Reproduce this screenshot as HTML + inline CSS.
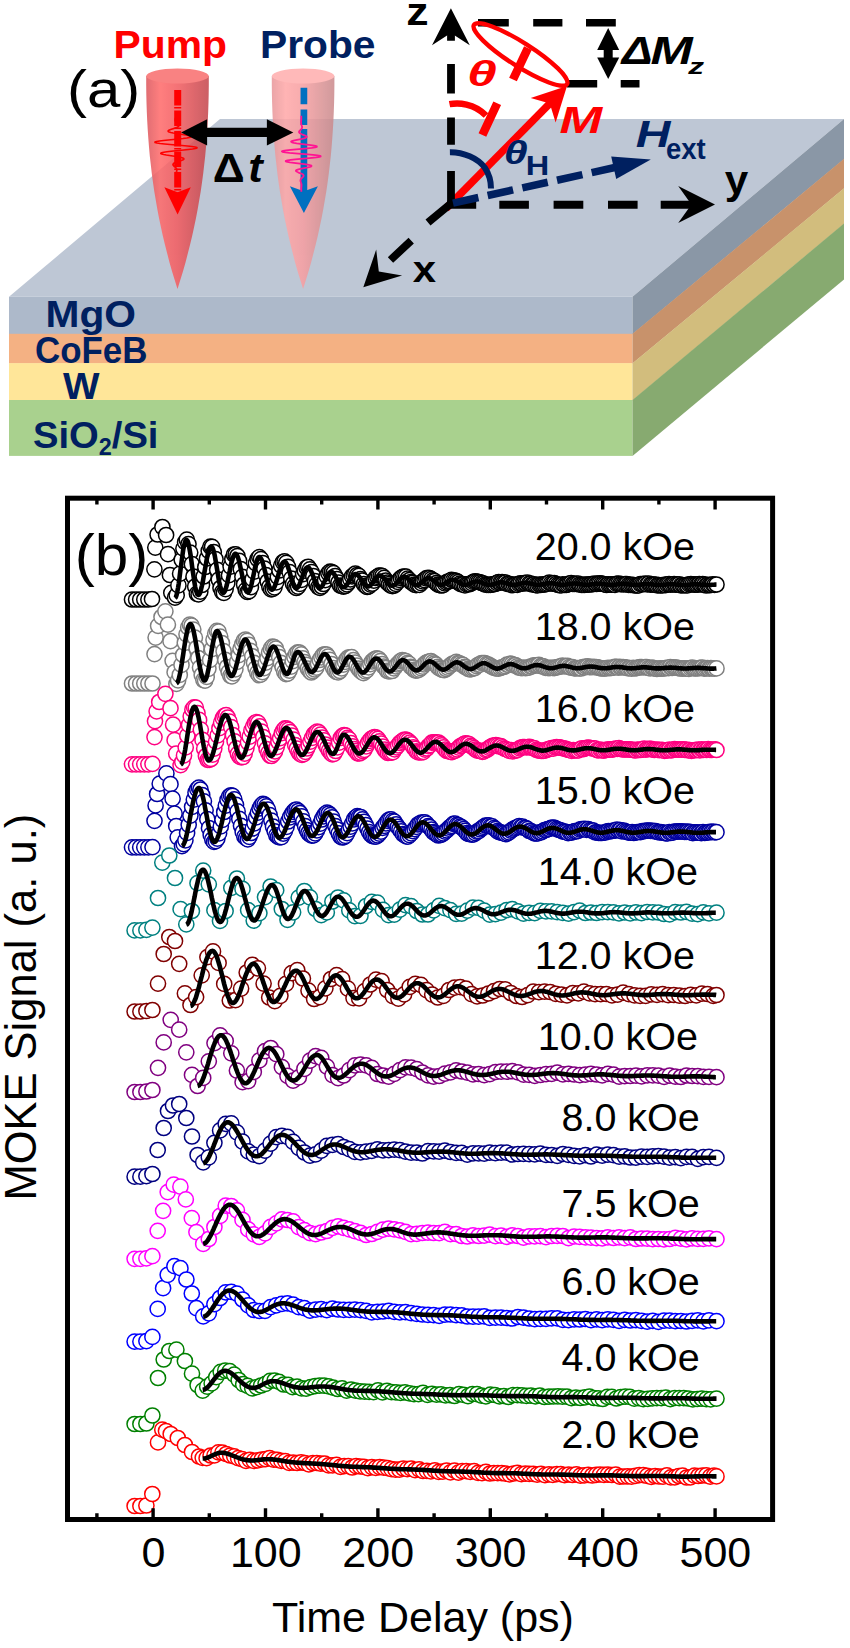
<!DOCTYPE html>
<html><head><meta charset="utf-8"><title>Figure</title>
<style>
html,body{margin:0;padding:0;background:#fff;}
svg{display:block;font-family:'Liberation Sans', sans-serif;}
</style></head><body>
<svg width="850" height="1648" viewBox="0 0 850 1648">
<rect width="850" height="1648" fill="#fff"/>
<defs>
<linearGradient id="gp" x1="0" x2="1" y1="0" y2="0">
<stop offset="0" stop-color="#dc565c"/><stop offset="0.22" stop-color="#ff6a6a"/><stop offset="0.5" stop-color="#f35c60"/><stop offset="0.85" stop-color="#d04b51"/><stop offset="1" stop-color="#c4464c"/>
</linearGradient>
<linearGradient id="gq" x1="0" x2="1" y1="0" y2="0">
<stop offset="0" stop-color="#e8969a"/><stop offset="0.22" stop-color="#ffa8a8"/><stop offset="0.5" stop-color="#f79ea1"/><stop offset="0.85" stop-color="#d69193"/><stop offset="1" stop-color="#ca898c"/>
</linearGradient>
</defs>
<polygon points="9,296.8 632.5,296.8 844,119 220,119" fill="#bec7d5"/>
<rect x="9" y="296.8" width="623.5" height="37.4" fill="#adb9ca"/>
<polygon points="632.5,296.8 844,119 844,159.2 632.5,334.2" fill="#8a97a6"/>
<rect x="9" y="333.8" width="623.5" height="29.8" fill="#f4b183"/>
<polygon points="632.5,333.8 844,158.8 844,188.6 632.5,363.6" fill="#c8926b"/>
<rect x="9" y="363.2" width="623.5" height="37.2" fill="#ffe699"/>
<polygon points="632.5,363.2 844,188.2 844,223.9 632.5,400.4" fill="#d2bd7d"/>
<rect x="9" y="400" width="623.5" height="55.9" fill="#a9d18e"/>
<polygon points="632.5,400 844,223.5 844,279.4 632.5,455.9" fill="#87aa70"/>
<text x="45.5" y="326.7" font-size="37.5" font-weight="bold" fill="#002060" textLength="90.5" lengthAdjust="spacingAndGlyphs" >MgO</text>
<text x="35" y="362.5" font-size="37.5" font-weight="bold" fill="#002060" textLength="112.5" lengthAdjust="spacingAndGlyphs" >CoFeB</text>
<text x="63" y="399.2" font-size="37.5" font-weight="bold" fill="#002060" textLength="36.5" lengthAdjust="spacingAndGlyphs" >W</text>
<text x="33" y="447.7" font-size="37.5" font-weight="bold" fill="#002060" textLength="125.5" lengthAdjust="spacingAndGlyphs">SiO<tspan font-size="23" dy="7">2</tspan><tspan dy="-7">/Si</tspan></text>
<g opacity="0.86"><polygon points="146.2,76.0 146.2,84.9 146.3,93.8 146.5,102.6 146.8,111.5 147.2,120.4 147.7,129.2 148.3,138.1 149.0,147.0 149.8,155.9 150.8,164.8 151.8,173.6 153.0,182.5 154.3,191.4 155.8,200.2 157.3,209.1 159.0,218.0 160.9,226.9 162.8,235.8 164.9,244.6 167.2,253.5 169.5,262.4 172.0,271.2 174.7,280.1 177.5,289.0 177.5,289.0 180.3,280.1 183.0,271.2 185.5,262.4 187.8,253.5 190.1,244.6 192.2,235.8 194.1,226.9 196.0,218.0 197.7,209.1 199.2,200.2 200.7,191.4 202.0,182.5 203.2,173.6 204.2,164.8 205.2,155.9 206.0,147.0 206.7,138.1 207.3,129.2 207.8,120.4 208.2,111.5 208.5,102.6 208.7,93.8 208.8,84.9 208.8,76.0" fill="url(#gp)"/><ellipse cx="177.5" cy="76" rx="31.3" ry="7.5" fill="#f96e6e"/></g>
<g opacity="0.86"><polygon points="271.8,76.0 271.8,84.9 271.9,93.8 272.1,102.6 272.4,111.5 272.8,120.4 273.3,129.2 273.9,138.1 274.6,147.0 275.4,155.9 276.4,164.8 277.4,173.6 278.6,182.5 279.9,191.4 281.4,200.2 282.9,209.1 284.6,218.0 286.5,226.9 288.4,235.8 290.5,244.6 292.8,253.5 295.1,262.4 297.6,271.2 300.3,280.1 303.1,289.0 303.1,289.0 305.9,280.1 308.6,271.2 311.1,262.4 313.4,253.5 315.7,244.6 317.8,235.8 319.7,226.9 321.6,218.0 323.3,209.1 324.8,200.2 326.3,191.4 327.6,182.5 328.8,173.6 329.8,164.8 330.8,155.9 331.6,147.0 332.3,138.1 332.9,129.2 333.4,120.4 333.8,111.5 334.1,102.6 334.3,93.8 334.4,84.9 334.4,76.0" fill="url(#gq)"/><ellipse cx="303.1" cy="76" rx="31.3" ry="7.5" fill="#ffaeae"/></g>
<line x1="177.7" y1="89.9" x2="177.7" y2="193" stroke="#ff0000" stroke-width="7" stroke-dasharray="15.5 1.5 1.5 2"/>
<polygon points="177.6,214.6 164.4,187.3 177.6,192.3 190.8,187.3" fill="#ff0000"/>
<path d="M303.9,87.8 V104.3 M303.9,109.5 V125 M303.9,129 V192" stroke="#0070c0" stroke-width="6.7" fill="none"/>
<polygon points="303.9,213.0 289.9,186.3 303.9,191.3 317.9,186.3" fill="#0070c0"/>
<polyline points="175.8,117.0 175.7,117.5 175.6,118.0 175.4,118.5 175.3,119.0 175.2,119.5 175.2,120.0 175.2,120.5 175.4,121.0 175.6,121.5 176.0,122.0 176.4,122.5 177.0,123.0 177.5,123.5 178.1,124.0 178.5,124.5 178.9,125.0 179.0,125.5 178.8,126.0 178.4,126.5 177.7,127.0 176.6,127.5 175.3,128.0 173.8,128.5 172.2,129.0 170.7,129.5 169.4,130.0 168.5,130.5 168.1,131.0 168.3,131.5 169.2,132.0 170.8,132.5 173.2,133.0 176.0,133.5 179.2,134.0 182.5,134.5 185.7,135.0 188.3,135.5 190.2,136.0 191.2,136.5 191.0,137.0 189.5,137.5 186.8,138.0 183.1,138.5 178.5,139.0 173.4,139.5 168.3,140.0 163.5,140.5 159.4,141.0 156.5,141.5 155.0,142.0 155.1,142.5 156.9,143.0 160.1,143.5 164.6,144.0 170.1,144.5 176.0,145.0 181.9,145.5 187.4,146.0 191.9,146.5 195.1,147.0 196.9,147.5 197.0,148.0 195.5,148.5 192.6,149.0 188.5,149.5 183.7,150.0 178.6,150.5 173.5,151.0 168.9,151.5 165.2,152.0 162.5,152.5 161.0,153.0 160.8,153.5 161.8,154.0 163.7,154.5 166.3,155.0 169.5,155.5 172.8,156.0 176.0,156.5 178.8,157.0 181.2,157.5 182.8,158.0 183.7,158.5 183.9,159.0 183.5,159.5 182.6,160.0 181.3,160.5 179.8,161.0 178.2,161.5 176.7,162.0 175.4,162.5 174.3,163.0 173.6,163.5 173.2,164.0 173.0,164.5 173.1,165.0 173.5,165.5 173.9,166.0 174.5,166.5 175.0,167.0 175.6,167.5 176.0,168.0 176.4,168.5 176.6,169.0 176.8,169.5 176.8,170.0 176.8,170.5 176.7,171.0 176.6,171.5 176.4,172.0 176.3,172.5 176.2,173.0" fill="none" stroke="#ff0000" stroke-width="1.7" stroke-linejoin="round"/>
<polyline points="301.3,115.8 301.3,116.3 301.3,116.8 301.3,117.3 301.3,117.8 301.3,118.3 301.3,118.8 301.3,119.3 301.3,119.8 301.2,120.3 301.2,120.8 301.1,121.3 301.1,121.8 301.1,122.3 301.1,122.8 301.1,123.3 301.2,123.8 301.4,124.3 301.5,124.8 301.7,125.3 301.8,125.8 302.0,126.3 302.1,126.8 302.1,127.3 302.0,127.8 301.8,128.3 301.5,128.8 301.1,129.3 300.6,129.8 300.1,130.3 299.6,130.8 299.2,131.3 299.0,131.8 299.0,132.3 299.4,132.8 300.0,133.3 300.9,133.8 302.0,134.3 303.3,134.8 304.5,135.3 305.6,135.8 306.4,136.3 306.7,136.8 306.5,137.3 305.6,137.8 304.1,138.3 302.0,138.8 299.6,139.3 297.0,139.8 294.6,140.3 292.6,140.8 291.3,141.3 291.1,141.8 291.9,142.3 293.8,142.8 296.7,143.3 300.5,143.8 304.7,144.3 308.8,144.8 312.6,145.3 315.4,145.8 316.9,146.3 316.8,146.8 315.1,147.3 311.8,147.8 307.3,148.3 301.9,148.8 296.2,149.3 290.7,149.8 286.2,150.3 283.1,150.8 281.9,151.3 282.5,151.8 285.2,152.3 289.5,152.8 295.1,153.3 301.3,153.8 307.5,154.3 313.1,154.8 317.4,155.3 320.1,155.8 320.7,156.3 319.5,156.8 316.4,157.3 311.9,157.8 306.4,158.3 300.7,158.8 295.3,159.3 290.8,159.8 287.5,160.3 285.8,160.8 285.7,161.3 287.2,161.8 290.0,162.3 293.8,162.8 297.9,163.3 302.1,163.8 305.9,164.3 308.8,164.8 310.7,165.3 311.5,165.8 311.3,166.3 310.0,166.8 308.0,167.3 305.6,167.8 303.0,168.3 300.6,168.8 298.5,169.3 297.0,169.8 296.1,170.3 295.9,170.8 296.2,171.3 297.0,171.8 298.1,172.3 299.3,172.8 300.6,173.3 301.7,173.8 302.6,174.3 303.2,174.8 303.6,175.3 303.6,175.8 303.4,176.3 303.0,176.8 302.5,177.3 302.0,177.8 301.5,178.3 301.1,178.8 300.8,179.3 300.6,179.8 300.5,180.3 300.5,180.8 300.6,181.3 300.8,181.8 300.9,182.3 301.1,182.8 301.2,183.3 301.4,183.8 301.5,184.3 301.5,184.8 301.5,185.3 301.5,185.8 301.5,186.3 301.4,186.8 301.4,187.3 301.3,187.8 301.3,188.3 301.3,188.8 301.3,189.3 301.3,189.8 301.3,190.3 301.3,190.8 301.3,191.3 301.3,191.8" fill="none" stroke="#ff1493" stroke-width="1.8" stroke-linejoin="round"/>
<line x1="200" y1="132.4" x2="274" y2="132.4" stroke="#000" stroke-width="9.2"/>
<polygon points="181.1,132.4 207.1,119.2 207.1,132.4 207.1,145.6" fill="#000"/>
<polygon points="293.3,132.4 266.9,145.6 266.9,132.4 266.9,119.2" fill="#000"/>
<text transform="translate(212.78,182.40) scale(1.112,0.993)" font-size="40" font-weight="bold" fill="#000">Δ</text>
<text transform="translate(248.23,182.40) scale(1.085,0.996)" font-size="40" font-weight="bold" font-style="italic" fill="#000">t</text>
<text x="113.5" y="57.6" font-size="38.2" font-weight="bold" fill="#ff0000" textLength="113.5" lengthAdjust="spacingAndGlyphs" >Pump</text>
<text x="260" y="57.6" font-size="38.2" font-weight="bold" fill="#002060" textLength="115.5" lengthAdjust="spacingAndGlyphs" >Probe</text>
<text transform="translate(67.01,107.38) scale(1.198,1.022)" font-size="50" fill="#000">(a)</text>
<path d="M478,22.7 H508.8 M533.2,22.7 H562.4 M586,22.7 H615.8" stroke="#000" stroke-width="7.6" fill="none"/>
<path d="M567,83.8 H597.2 M620.7,83.8 H639.5" stroke="#000" stroke-width="7.5" fill="none"/>
<line x1="608.2" y1="45" x2="608.2" y2="62" stroke="#000" stroke-width="9"/>
<polygon points="608.2,28.0 619.2,50.0 608.2,50.0 597.2,50.0" fill="#000"/>
<polygon points="608.2,79.0 597.2,57.5 608.2,57.5 619.2,57.5" fill="#000"/>
<text transform="translate(621.85,64.00) scale(1.150,0.982)" font-size="40" font-weight="bold" font-style="italic" fill="#000">Δ</text>
<text transform="translate(650.53,64.00) scale(1.267,0.982)" font-size="40" font-weight="bold" font-style="italic" fill="#000">M</text>
<text transform="translate(688.20,74.10) scale(0.790,0.568)" font-size="40" font-weight="bold" font-style="italic" fill="#000">z</text>
<line x1="446" y1="208.5" x2="557.2" y2="96.0" stroke="#ff0000" stroke-width="7.5"/>
<path d="M451,208.0 V171 M451,144.8 V117.5 M451,93.6 V64 M451,40.7 V25" stroke="#000" stroke-width="7.8" fill="none"/>
<polygon points="450.9,8.3 469.8,45.3 450.9,33.0 432.0,45.3" fill="#000"/>
<path d="M447,204.7 H476.2 M499.3,204.7 H528.9 M553.6,204.7 H583.3 M608,204.7 H637.6 M660.7,204.7 H695" stroke="#000" stroke-width="8" fill="none"/>
<polygon points="715.0,204.6 678.2,223.1 691.4,204.6 678.2,186.1" fill="#000"/>
<path d="M451,203.5 L428,222.5 M411.2,240.6 L390.5,260" stroke="#000" stroke-width="7.8" fill="none"/>
<polygon points="363.3,287.2 376.2,249.6 378.8,271.6 402.1,275.5" fill="#000"/>
<text transform="translate(406.26,25.40) scale(1.118,0.973)" font-size="40" font-weight="bold" fill="#000">z</text>
<text transform="translate(724.64,194.35) scale(1.057,1.007)" font-size="40" font-weight="bold" fill="#000">y</text>
<text transform="translate(412.75,282.00) scale(1.048,0.941)" font-size="40" font-weight="bold" fill="#000">x</text>
<line x1="453" y1="203.1" x2="617.6" y2="166.9" stroke="#002060" stroke-width="7.6" stroke-dasharray="26 9.5"/>
<polygon points="650.8,159.6 616.2,179.0 613.7,167.8 611.2,156.5" fill="#002060"/>
<text transform="translate(635.80,146.90) scale(1.200,0.907)" font-size="40" font-weight="bold" font-style="italic" fill="#002060">H</text>
<text transform="translate(665.93,158.70) scale(0.687,0.730)" font-size="40" font-weight="bold" fill="#002060">ext</text>
<path d="M449.9,152.2 C463,152 478,158 485,168 C489,174 491,181 491,188.5" stroke="#002060" stroke-width="6" fill="none"/>
<text transform="translate(503.75,164.30) scale(1.074,0.843)" font-size="40" font-weight="bold" font-style="italic" fill="#002060">θ</text>
<text transform="translate(525.86,175.20) scale(0.813,0.682)" font-size="40" font-weight="bold" fill="#002060">H</text>
<polygon points="567.0,86.0 555.6,122.5 549.8,103.4 530.7,97.9" fill="#ff0000"/>
<ellipse cx="520.5" cy="54.5" rx="55.2" ry="11.8" transform="rotate(32.5 520.5 54.5)" fill="none" stroke="#ff0000" stroke-width="4.4"/>
<path d="M482.4,135 L497.2,103.2 M513,79.5 L527.9,48.1" stroke="#ff0000" stroke-width="8.5" fill="none"/>
<path d="M449.5,104.2 C458,102.5 474,103 486,115.5" stroke="#ff0000" stroke-width="6.4" fill="none"/>
<text transform="translate(466.93,86.20) scale(1.337,0.880)" font-size="40" font-weight="bold" font-style="italic" fill="#ff0000">θ</text>
<text transform="translate(559.42,132.80) scale(1.282,0.943)" font-size="40" font-weight="bold" font-style="italic" fill="#ff0000">M</text>
<marker id="m1" markerWidth="20" markerHeight="20" refX="10" refY="10" markerUnits="userSpaceOnUse"><circle cx="10" cy="10" r="7.6" fill="#fff" stroke="#000000" stroke-width="1.5"/></marker><polyline points="132.0,599.5 136.1,599.5 140.2,599.5 144.3,599.5 148.4,599.5 152.0,599.0 154.4,569.3 155.3,547.6 157.6,534.5 162.4,527.0 166.1,535.0 168.0,554.2 169.9,575.0 171.3,592.8 175.0,597.7 176.7,595.2 178.4,585.4 180.1,573.7 181.7,559.8 183.4,548.6 185.1,542.2 186.8,539.6 188.5,544.1 190.2,552.6 191.9,564.2 193.5,576.5 195.2,586.5 196.9,593.8 198.6,594.4 200.3,591.7 202.0,585.0 203.7,576.5 205.3,567.0 207.0,558.5 208.7,550.8 210.4,546.6 212.1,546.8 213.8,552.1 215.5,559.1 217.2,569.8 218.8,579.6 220.5,588.0 222.2,592.1 223.9,592.9 225.6,589.2 227.3,583.0 229.0,575.2 230.6,566.6 232.3,559.1 234.0,554.5 235.7,554.4 237.4,556.0 239.1,560.9 240.8,569.2 242.4,576.8 244.1,584.5 245.8,590.2 247.5,592.0 249.2,591.2 250.9,587.2 252.6,579.1 254.2,571.6 255.9,563.4 257.6,559.0 259.3,557.2 261.0,559.1 262.7,563.1 264.4,568.7 266.0,575.2 267.7,581.5 269.4,586.9 271.1,589.4 272.8,588.8 274.5,587.3 276.2,582.3 277.8,576.8 279.5,570.5 281.2,565.6 282.9,562.1 284.6,561.4 286.3,562.8 288.0,566.8 289.6,572.2 291.3,578.6 293.0,583.9 294.7,586.5 296.4,588.0 298.1,586.6 299.8,583.9 301.4,579.8 303.1,574.1 304.8,570.7 306.5,567.6 308.2,566.8 309.9,569.3 311.6,572.1 313.3,576.2 314.9,581.0 316.6,584.6 318.3,587.1 320.0,587.8 321.7,586.5 323.4,584.0 325.1,580.1 326.7,576.2 328.4,573.2 330.1,571.6 331.8,572.0 333.5,573.1 335.2,576.2 336.9,579.0 338.5,582.5 340.2,585.5 341.9,586.2 343.6,586.7 345.3,586.0 347.0,584.4 348.7,582.0 350.3,579.3 352.0,576.3 353.7,575.3 355.4,573.5 357.1,575.0 358.8,575.8 360.5,579.0 362.1,580.6 363.8,584.2 365.5,585.8 367.2,587.0 368.9,586.3 370.6,584.7 372.3,583.7 373.9,580.7 375.6,578.0 377.3,576.8 379.0,575.7 380.7,575.6 382.4,576.2 384.1,577.8 385.7,580.5 387.4,582.5 389.1,584.0 390.8,585.5 392.5,586.1 394.2,585.5 395.9,583.8 397.6,581.9 399.2,579.9 400.9,578.0 402.6,576.8 404.3,576.7 406.0,576.7 407.7,578.6 409.4,580.2 411.0,582.0 412.7,582.9 414.4,584.6 416.1,585.2 417.8,584.6 419.5,584.8 421.2,583.2 422.8,581.3 424.5,580.1 426.2,578.3 427.9,577.8 429.6,578.2 431.3,579.2 433.0,580.3 434.6,581.0 436.3,583.1 438.0,584.6 439.7,585.1 441.4,585.5 443.1,585.1 444.8,583.3 446.4,582.3 448.1,581.5 449.8,581.1 451.5,579.8 453.2,580.4 454.9,580.7 456.6,581.1 458.2,582.2 459.9,583.7 461.6,584.4 463.3,584.4 465.0,585.4 466.7,584.4 468.4,584.2 470.0,584.2 471.7,583.2 473.4,581.9 475.1,581.4 476.8,581.6 478.5,582.0 480.2,582.3 481.9,583.2 483.5,583.7 485.2,584.5 486.9,584.8 488.6,584.8 490.3,584.9 492.0,584.7 493.7,584.2 495.3,584.0 497.0,582.8 498.7,582.1 500.4,582.6 502.1,582.1 503.8,582.5 505.5,582.5 507.1,583.9 508.8,583.8 510.5,584.3 512.2,585.2 513.9,584.9 515.6,584.5 517.3,584.9 518.9,583.9 520.6,583.4 522.3,583.7 524.0,583.2 525.7,583.1 527.4,582.6 529.1,583.6 530.7,583.7 532.4,584.5 534.1,584.3 535.8,585.1 537.5,585.3 539.2,584.7 540.9,584.8 542.5,584.7 544.2,584.5 545.9,584.1 547.6,583.7 549.3,582.7 551.0,583.3 552.7,583.6 554.3,583.2 556.0,584.0 557.7,584.9 559.4,585.2 561.1,585.4 562.8,584.4 564.5,584.9 566.2,585.0 567.8,584.4 569.5,583.7 571.2,583.1 572.9,584.0 574.6,583.9 576.3,583.8 578.0,583.6 579.6,584.5 581.3,584.8 583.0,584.9 584.7,584.9 586.4,584.7 588.1,584.6 589.8,584.5 591.4,584.2 593.1,584.2 594.8,583.5 596.5,584.0 598.2,583.5 599.9,583.3 601.6,583.6 603.2,584.0 604.9,584.3 606.6,585.0 608.3,584.3 610.0,584.6 611.7,584.6 613.4,584.4 615.0,584.9 616.7,583.9 618.4,583.6 620.1,584.1 621.8,584.2 623.5,584.3 625.2,584.1 626.8,584.0 628.5,584.8 630.2,584.9 631.9,584.8 633.6,585.0 635.3,585.5 637.0,585.5 638.6,585.3 640.3,584.1 642.0,584.2 643.7,584.1 645.4,583.7 647.1,584.4 648.8,583.6 650.5,584.7 652.1,584.5 653.8,584.7 655.5,584.7 657.2,585.4 658.9,585.1 660.6,585.4 662.3,585.3 663.9,584.9 665.6,585.1 667.3,584.4 669.0,584.1 670.7,584.6 672.4,584.3 674.1,584.1 675.7,584.7 677.4,584.6 679.1,584.3 680.8,585.3 682.5,585.0 684.2,585.5 685.9,585.0 687.5,585.3 689.2,584.4 690.9,584.2 692.6,584.4 694.3,584.7 696.0,584.7 697.7,584.6 699.3,584.0 701.0,584.5 702.7,584.2 704.4,584.7 706.1,585.5 707.8,584.8 709.5,585.2 711.1,585.0 712.8,584.3 714.5,584.9 716.5,584.5" fill="none" stroke="none" marker-start="url(#m1)" marker-mid="url(#m1)" marker-end="url(#m1)"/><polyline points="175.0,598.0 175.8,597.3 176.5,595.3 177.2,592.2 178.0,588.1 178.8,583.3 179.5,577.8 180.2,572.0 181.0,566.0 181.8,560.2 182.5,554.8 183.2,549.9 184.0,545.9 184.8,542.8 185.5,540.7 186.2,539.8 187.0,540.1 187.8,541.5 188.5,543.9 189.2,547.3 190.0,551.6 190.8,556.4 191.5,561.7 192.2,567.2 193.0,572.6 193.8,577.9 194.5,582.7 195.2,586.9 196.0,590.4 196.8,592.9 197.5,594.5 198.2,595.0 199.0,594.6 199.8,593.4 200.5,591.4 201.2,588.7 202.0,585.5 202.8,581.8 203.5,577.7 204.2,573.5 205.0,569.1 205.8,564.8 206.5,560.7 207.2,556.9 208.0,553.6 208.8,550.9 209.5,548.7 210.2,547.3 211.0,546.6 211.8,546.7 212.5,547.7 213.2,549.6 214.0,552.4 214.8,555.8 215.5,559.8 216.2,564.2 217.0,568.8 217.8,573.4 218.5,577.8 219.2,582.0 220.0,585.6 220.8,588.6 221.5,590.9 222.2,592.4 223.0,593.0 223.8,592.8 224.5,591.8 225.2,590.1 226.0,587.8 226.8,585.0 227.5,581.8 228.2,578.2 229.0,574.5 229.8,570.8 230.5,567.1 231.2,563.7 232.0,560.7 232.8,558.1 233.5,556.1 234.2,554.7 235.0,553.9 235.8,553.8 236.5,554.5 237.2,555.7 238.0,557.6 238.8,560.1 239.5,563.0 240.2,566.3 241.0,569.8 241.8,573.4 242.5,577.0 243.2,580.5 244.0,583.7 244.8,586.6 245.5,588.9 246.2,590.7 247.0,591.9 247.8,592.4 248.5,592.2 249.2,591.2 250.0,589.5 250.8,587.2 251.5,584.3 252.2,581.0 253.0,577.4 253.8,573.7 254.5,570.1 255.2,566.7 256.0,563.6 256.8,561.0 257.5,559.0 258.2,557.7 259.0,557.0 259.8,557.1 260.5,557.8 261.2,559.0 262.0,560.8 262.8,563.0 263.5,565.5 264.2,568.3 265.0,571.3 265.8,574.4 266.5,577.4 267.2,580.2 268.0,582.8 268.8,585.1 269.5,587.0 270.2,588.4 271.0,589.3 271.8,589.7 272.5,589.5 273.2,588.9 274.0,587.7 274.8,586.1 275.5,584.2 276.2,582.0 277.0,579.5 277.8,576.9 278.5,574.3 279.2,571.8 280.0,569.3 280.8,567.1 281.5,565.2 282.2,563.7 283.0,562.6 283.8,561.9 284.5,561.6 285.2,561.9 286.0,562.6 286.8,563.9 287.5,565.6 288.2,567.7 289.0,570.1 289.8,572.7 290.5,575.3 291.2,577.9 292.0,580.4 292.8,582.7 293.5,584.6 294.2,586.2 295.0,587.3 295.8,588.0 296.5,588.1 297.2,587.8 298.0,587.1 298.8,585.9 299.5,584.4 300.2,582.5 301.0,580.5 301.8,578.4 302.5,576.2 303.2,574.1 304.0,572.2 304.8,570.5 305.5,569.1 306.2,568.1 307.0,567.5 307.8,567.3 308.5,567.5 309.2,568.1 310.0,569.1 310.8,570.5 311.5,572.1 312.2,573.9 313.0,575.9 313.8,578.0 314.5,580.0 315.2,581.9 316.0,583.6 316.8,585.1 317.5,586.3 318.2,587.2 319.0,587.7 319.8,587.9 320.5,587.6 321.2,587.1 322.0,586.2 322.8,585.0 323.5,583.6 324.2,582.1 325.0,580.4 325.8,578.8 326.5,577.2 327.2,575.7 328.0,574.4 328.8,573.3 329.5,572.5 330.2,572.0 331.0,571.8 331.8,571.9 332.5,572.3 333.2,573.0 334.0,574.0 334.8,575.1 335.5,576.4 336.2,577.8 337.0,579.2 337.8,580.7 338.5,582.1 339.2,583.4 340.0,584.6 340.8,585.6 341.5,586.4 342.2,586.9 343.0,587.2 343.8,587.2 344.5,587.0 345.2,586.5 346.0,585.8 346.8,584.8 347.5,583.8 348.2,582.6 349.0,581.3 349.8,580.0 350.5,578.8 351.2,577.6 352.0,576.5 352.8,575.6 353.5,574.9 354.2,574.4 355.0,574.1 355.8,574.1 356.5,574.3 357.2,574.7 358.0,575.3 358.8,576.2 359.5,577.1 360.2,578.2 361.0,579.4 361.8,580.5 362.5,581.7 363.2,582.8 364.0,583.9 364.8,584.8 365.5,585.5 366.2,586.0 367.0,586.4 367.8,586.5 368.5,586.4 369.2,586.1 370.0,585.6 370.8,584.9 371.5,584.1 372.2,583.1 373.0,582.1 373.8,581.1 374.5,580.0 375.2,579.0 376.0,578.0 376.8,577.2 377.5,576.5 378.2,576.0 379.0,575.7 379.8,575.5 380.5,575.6 381.2,575.9 382.0,576.3 382.8,576.9 383.5,577.6 384.2,578.5 385.0,579.4 385.8,580.4 386.5,581.4 387.2,582.4 388.0,583.2 388.8,584.0 389.5,584.7 390.2,585.3 391.0,585.6 391.8,585.8 392.5,585.8 393.2,585.7 394.0,585.3 394.8,584.8 395.5,584.2 396.2,583.5 397.0,582.6 397.8,581.8 398.5,580.9 399.2,580.0 400.0,579.2 400.8,578.5 401.5,577.8 402.2,577.3 403.0,577.0 403.8,576.8 404.5,576.8 405.2,576.9 406.0,577.2 406.8,577.6 407.5,578.2 408.2,578.9 409.0,579.6 409.8,580.4 410.5,581.2 411.2,582.0 412.0,582.8 412.8,583.5 413.5,584.1 414.2,584.6 415.0,585.0 415.8,585.2 416.5,585.3 417.2,585.2 418.0,585.0 418.8,584.7 419.5,584.2 420.2,583.7 421.0,583.0 421.8,582.4 422.5,581.7 423.2,581.0 424.0,580.3 424.8,579.7 425.5,579.1 426.2,578.7 427.0,578.4 427.8,578.2 428.5,578.1 429.2,578.1 430.0,578.3 430.8,578.6 431.5,579.1 432.2,579.6 433.0,580.1 433.8,580.8 434.5,581.4 435.2,582.1 436.0,582.7 436.8,583.3 437.5,583.8 438.2,584.3 439.0,584.6 439.8,584.8 440.5,585.0 441.2,585.0 442.0,584.8 442.8,584.6 443.5,584.3 444.2,583.9 445.0,583.5 445.8,583.0 446.5,582.5 447.2,582.0 448.0,581.5 448.8,581.0 449.5,580.6 450.2,580.3 451.0,580.1 451.8,579.9 452.5,579.8 453.2,579.9 454.0,580.0 454.8,580.2 455.5,580.5 456.2,580.9 457.0,581.3 457.8,581.7 458.5,582.2 459.2,582.7 460.0,583.2 460.8,583.6 461.5,584.0 462.2,584.3 463.0,584.6 463.8,584.8 464.5,584.9 465.2,584.9 466.0,584.9 466.8,584.8 467.5,584.6 468.2,584.3 469.0,584.1 469.8,583.7 470.5,583.4 471.2,583.0 472.0,582.7 472.8,582.4 473.5,582.1 474.2,581.9 475.0,581.7 475.8,581.5 476.5,581.5 477.2,581.5 478.0,581.5 478.8,581.7 479.5,581.9 480.2,582.1 481.0,582.4 481.8,582.7 482.5,583.0 483.2,583.3 484.0,583.7 484.8,584.0 485.5,584.3 486.2,584.5 487.0,584.7 487.8,584.9 488.5,585.0 489.2,585.0 490.0,585.0 490.8,584.9 491.5,584.8 492.2,584.6 493.0,584.4 493.8,584.2 494.5,583.9 495.2,583.7 496.0,583.4 496.8,583.1 497.5,582.9 498.2,582.7 499.0,582.5 499.8,582.4 500.5,582.3 501.2,582.3 502.0,582.3 502.8,582.4 503.5,582.5 504.2,582.7 505.0,582.9 505.8,583.1 506.5,583.3 507.2,583.6 508.0,583.8 508.8,584.1 509.5,584.3 510.2,584.5 511.0,584.7 511.8,584.8 512.5,584.9 513.2,584.9 514.0,584.9 514.8,584.9 515.5,584.8 516.2,584.7 517.0,584.5 517.8,584.4 518.5,584.2 519.2,584.0 520.0,583.7 520.8,583.5 521.5,583.3 522.2,583.2 523.0,583.0 523.8,582.9 524.5,582.8 525.2,582.8 526.0,582.8 526.8,582.9 527.5,582.9 528.2,583.1 529.0,583.2 529.8,583.4 530.5,583.6 531.2,583.8 532.0,584.0 532.8,584.1 533.5,584.3 534.2,584.5 535.0,584.6 535.8,584.8 536.5,584.9 537.2,584.9 538.0,584.9 538.8,584.9 539.5,584.8 540.2,584.7 541.0,584.6 541.8,584.5 542.5,584.3 543.2,584.2 544.0,584.0 544.8,583.8 545.5,583.7 546.2,583.5 547.0,583.4 547.8,583.3 548.5,583.2 549.2,583.2 550.0,583.2 550.8,583.2 551.5,583.3 552.2,583.3 553.0,583.4 553.8,583.6 554.5,583.7 555.2,583.9 556.0,584.1 556.8,584.2 557.5,584.4 558.2,584.5 559.0,584.6 559.8,584.7 560.5,584.8 561.2,584.9 562.0,584.9 562.8,584.9 563.5,584.9 564.2,584.8 565.0,584.7 565.8,584.6 566.5,584.5 567.2,584.3 568.0,584.2 568.8,584.0 569.5,583.9 570.2,583.8 571.0,583.7 571.8,583.6 572.5,583.5 573.2,583.5 574.0,583.5 574.8,583.5 575.5,583.5 576.2,583.6 577.0,583.6 577.8,583.8 578.5,583.9 579.2,584.0 580.0,584.1 580.8,584.3 581.5,584.4 582.2,584.5 583.0,584.6 583.8,584.7 584.5,584.8 585.2,584.9 586.0,584.9 586.8,584.9 587.5,584.9 588.2,584.8 589.0,584.8 589.8,584.7 590.5,584.6 591.2,584.5 592.0,584.3 592.8,584.2 593.5,584.1 594.2,584.0 595.0,583.9 595.8,583.8 596.5,583.8 597.2,583.7 598.0,583.7 598.8,583.7 599.5,583.7 600.2,583.8 601.0,583.8 601.8,583.9 602.5,584.0 603.2,584.1 604.0,584.2 604.8,584.3 605.5,584.5 606.2,584.6 607.0,584.7 607.8,584.7 608.5,584.8 609.2,584.9 610.0,584.9 610.8,584.9 611.5,584.9 612.2,584.9 613.0,584.8 613.8,584.7 614.5,584.7 615.2,584.6 616.0,584.5 616.8,584.4 617.5,584.3 618.2,584.2 619.0,584.1 619.8,584.0 620.5,584.0 621.2,583.9 622.0,583.9 622.8,583.9 623.5,583.9 624.2,583.9 625.0,584.0 625.8,584.1 626.5,584.1 627.2,584.2 628.0,584.3 628.8,584.4 629.5,584.5 630.2,584.6 631.0,584.7 631.8,584.8 632.5,584.8 633.2,584.9 634.0,584.9 634.8,584.9 635.5,584.9 636.2,584.9 637.0,584.9 637.8,584.8 638.5,584.7 639.2,584.7 640.0,584.6 640.8,584.5 641.5,584.4 642.2,584.3 643.0,584.3 643.8,584.2 644.5,584.1 645.2,584.1 646.0,584.1 646.8,584.1 647.5,584.1 648.2,584.1 649.0,584.1 649.8,584.2 650.5,584.2 651.2,584.3 652.0,584.4 652.8,584.5 653.5,584.6 654.2,584.7 655.0,584.7 655.8,584.8 656.5,584.9 657.2,584.9 658.0,584.9 658.8,585.0 659.5,585.0 660.2,584.9 661.0,584.9 661.8,584.9 662.5,584.8 663.2,584.8 664.0,584.7 664.8,584.6 665.5,584.5 666.2,584.5 667.0,584.4 667.8,584.3 668.5,584.3 669.2,584.3 670.0,584.2 670.8,584.2 671.5,584.2 672.2,584.2 673.0,584.3 673.8,584.3 674.5,584.3 675.2,584.4 676.0,584.5 676.8,584.6 677.5,584.6 678.2,584.7 679.0,584.8 679.8,584.8 680.5,584.9 681.2,584.9 682.0,585.0 682.8,585.0 683.5,585.0 684.2,585.0 685.0,585.0 685.8,584.9 686.5,584.9 687.2,584.8 688.0,584.8 688.8,584.7 689.5,584.6 690.2,584.6 691.0,584.5 691.8,584.5 692.5,584.4 693.2,584.4 694.0,584.3 694.8,584.3 695.5,584.3 696.2,584.3 697.0,584.4 697.8,584.4 698.5,584.4 699.2,584.5 700.0,584.5 700.8,584.6 701.5,584.7 702.2,584.7 703.0,584.8 703.8,584.8 704.5,584.9 705.2,584.9 706.0,585.0 706.8,585.0 707.5,585.0 708.2,585.0 709.0,585.0 709.8,585.0 710.5,584.9 711.2,584.9 712.0,584.8 712.8,584.8 713.5,584.7 714.2,584.7 715.0,584.6 715.8,584.5 716.5,584.5" fill="none" stroke="#000" stroke-width="4.6" stroke-linejoin="round" stroke-linecap="butt"/><text x="695" y="559.9" font-size="39.5" text-anchor="end" fill="#000">20.0 kOe</text>
<marker id="m2" markerWidth="20" markerHeight="20" refX="10" refY="10" markerUnits="userSpaceOnUse"><circle cx="10" cy="10" r="7.6" fill="#fff" stroke="#808080" stroke-width="1.5"/></marker><polyline points="132.0,683.5 136.1,683.5 140.2,683.5 144.3,683.5 148.4,683.5 152.5,683.5 154.5,654.1 155.6,637.6 158.1,625.8 161.5,617.0 165.4,611.3 167.9,624.7 170.5,641.2 172.6,660.8 174.6,672.2 176.4,683.9 178.1,680.4 179.8,674.9 181.5,664.9 183.1,655.0 184.8,642.8 186.5,634.3 188.2,627.4 189.9,624.5 191.6,625.7 193.3,629.6 194.9,637.7 196.6,648.0 198.3,658.0 200.0,667.6 201.7,675.0 203.4,680.1 205.1,680.7 206.7,676.9 208.4,668.8 210.1,659.9 211.8,649.1 213.5,639.7 215.2,633.6 216.9,630.9 218.6,631.7 220.2,636.6 221.9,643.0 223.6,651.2 225.3,659.9 227.0,667.0 228.7,672.2 230.4,675.9 232.0,676.4 233.7,673.4 235.4,669.3 237.1,661.9 238.8,655.1 240.5,648.6 242.2,644.2 243.8,640.6 245.5,639.7 247.2,640.8 248.9,644.9 250.6,650.9 252.3,656.3 254.0,662.8 255.6,668.3 257.3,672.8 259.0,675.2 260.7,674.6 262.4,672.1 264.1,668.1 265.8,662.6 267.4,658.1 269.1,652.5 270.8,648.6 272.5,646.7 274.2,647.1 275.9,648.5 277.6,652.9 279.2,657.2 280.9,662.8 282.6,667.3 284.3,672.1 286.0,674.1 287.7,673.7 289.4,670.7 291.0,666.6 292.7,661.1 294.4,656.9 296.1,653.6 297.8,652.3 299.5,652.5 301.2,654.3 302.8,658.4 304.5,662.1 306.2,664.8 307.9,668.5 309.6,670.8 311.3,672.5 313.0,671.1 314.7,669.5 316.3,667.6 318.0,663.8 319.7,660.0 321.4,657.3 323.1,654.9 324.8,654.3 326.5,654.5 328.1,656.6 329.8,659.8 331.5,664.0 333.2,668.0 334.9,670.5 336.6,672.0 338.3,672.4 339.9,671.0 341.6,668.3 343.3,664.6 345.0,661.9 346.7,659.1 348.4,657.5 350.1,657.3 351.7,657.2 353.4,660.1 355.1,662.5 356.8,665.6 358.5,668.7 360.2,670.5 361.9,672.0 363.5,673.1 365.2,671.4 366.9,670.2 368.6,667.4 370.3,664.1 372.0,661.5 373.7,659.9 375.3,658.9 377.0,658.4 378.7,659.0 380.4,661.0 382.1,664.2 383.8,666.6 385.5,668.1 387.1,670.8 388.8,671.4 390.5,671.2 392.2,671.0 393.9,668.4 395.6,666.3 397.3,664.3 399.0,662.8 400.6,661.0 402.3,660.2 404.0,660.7 405.7,661.0 407.4,663.0 409.1,663.9 410.8,666.9 412.4,667.9 414.1,669.8 415.8,670.7 417.5,670.4 419.2,669.6 420.9,668.2 422.6,666.7 424.2,664.5 425.9,662.8 427.6,662.1 429.3,661.5 431.0,661.1 432.7,662.3 434.4,663.5 436.0,664.6 437.7,666.9 439.4,668.4 441.1,668.9 442.8,670.0 444.5,670.1 446.2,669.0 447.8,667.7 449.5,666.1 451.2,664.6 452.9,663.5 454.6,663.4 456.3,661.9 458.0,663.0 459.6,663.3 461.3,664.4 463.0,664.8 464.7,666.8 466.4,667.4 468.1,668.8 469.8,669.4 471.4,669.2 473.1,668.5 474.8,668.0 476.5,666.1 478.2,664.9 479.9,664.7 481.6,663.0 483.3,663.1 484.9,663.2 486.6,664.2 488.3,664.5 490.0,665.7 491.7,666.7 493.4,667.6 495.1,668.2 496.7,668.5 498.4,668.6 500.1,668.0 501.8,667.3 503.5,667.0 505.2,666.2 506.9,664.6 508.5,664.9 510.2,663.6 511.9,664.1 513.6,665.2 515.3,665.0 517.0,666.3 518.7,667.5 520.3,667.8 522.0,668.1 523.7,667.7 525.4,668.2 527.1,667.8 528.8,667.7 530.5,666.6 532.1,666.4 533.8,665.4 535.5,665.3 537.2,665.4 538.9,664.8 540.6,666.1 542.3,666.0 543.9,666.7 545.6,667.8 547.3,667.8 549.0,668.1 550.7,667.9 552.4,667.8 554.1,668.2 555.7,667.5 557.4,667.2 559.1,666.8 560.8,666.4 562.5,665.7 564.2,666.3 565.9,666.0 567.6,665.9 569.2,667.1 570.9,667.6 572.6,667.1 574.3,668.4 576.0,668.4 577.7,668.0 579.4,668.3 581.0,668.5 582.7,667.2 584.4,667.5 586.1,666.7 587.8,666.3 589.5,667.1 591.2,667.1 592.8,666.8 594.5,667.2 596.2,667.1 597.9,667.4 599.6,668.0 601.3,668.5 603.0,668.5 604.6,668.3 606.3,668.4 608.0,667.9 609.7,668.2 611.4,668.0 613.1,667.6 614.8,666.9 616.4,666.8 618.1,667.6 619.8,666.9 621.5,667.5 623.2,667.0 624.9,667.3 626.6,667.7 628.2,668.4 629.9,668.0 631.6,668.6 633.3,667.8 635.0,668.4 636.7,668.2 638.4,667.5 640.0,667.2 641.7,667.1 643.4,667.3 645.1,667.0 646.8,667.1 648.5,668.0 650.2,668.3 651.9,667.6 653.5,668.2 655.2,668.5 656.9,669.0 658.6,668.5 660.3,668.4 662.0,668.6 663.7,668.5 665.3,668.2 667.0,667.9 668.7,668.1 670.4,667.1 672.1,668.0 673.8,667.4 675.5,667.7 677.1,667.9 678.8,668.2 680.5,668.5 682.2,668.6 683.9,668.3 685.6,668.4 687.3,668.7 688.9,668.9 690.6,668.1 692.3,667.5 694.0,668.4 695.7,668.4 697.4,668.3 699.1,668.1 700.7,667.9 702.4,667.5 704.1,668.7 705.8,668.3 707.5,668.0 709.2,668.7 710.9,668.0 712.5,668.4 714.2,668.7 716.5,668.4" fill="none" stroke="none" marker-start="url(#m2)" marker-mid="url(#m2)" marker-end="url(#m2)"/><polyline points="176.4,683.3 177.2,682.8 177.9,681.4 178.7,679.2 179.4,676.3 180.2,672.8 180.9,668.7 181.7,664.1 182.4,659.3 183.2,654.3 183.9,649.4 184.7,644.5 185.4,639.9 186.2,635.7 186.9,632.1 187.7,629.0 188.4,626.6 189.2,625.0 189.9,624.1 190.7,624.1 191.4,624.8 192.2,626.3 192.9,628.6 193.7,631.5 194.4,635.0 195.2,639.0 195.9,643.3 196.7,647.9 197.4,652.6 198.2,657.2 198.9,661.8 199.7,666.0 200.4,669.9 201.2,673.3 201.9,676.1 202.7,678.3 203.4,679.7 204.2,680.4 204.9,680.4 205.7,679.5 206.4,677.7 207.2,675.1 207.9,671.8 208.7,668.0 209.4,663.8 210.2,659.3 210.9,654.6 211.7,650.0 212.4,645.7 213.2,641.7 213.9,638.2 214.7,635.3 215.4,633.1 216.2,631.6 216.9,631.0 217.7,631.2 218.4,632.0 219.2,633.5 219.9,635.5 220.7,638.0 221.4,640.9 222.2,644.2 222.9,647.7 223.7,651.4 224.4,655.1 225.2,658.7 225.9,662.2 226.7,665.4 227.4,668.4 228.2,670.9 228.9,672.9 229.7,674.5 230.4,675.5 231.2,676.0 231.9,675.9 232.7,675.2 233.4,674.1 234.2,672.4 234.9,670.4 235.7,667.9 236.4,665.2 237.2,662.3 237.9,659.2 238.7,656.1 239.4,653.1 240.2,650.2 240.9,647.5 241.7,645.1 242.4,643.1 243.2,641.5 243.9,640.3 244.7,639.6 245.4,639.5 246.2,639.8 246.9,640.6 247.7,641.9 248.4,643.6 249.2,645.6 249.9,648.0 250.7,650.6 251.4,653.4 252.2,656.3 252.9,659.3 253.7,662.1 254.4,664.8 255.2,667.3 255.9,669.6 256.6,671.5 257.4,673.0 258.1,674.1 258.9,674.8 259.6,675.0 260.4,674.8 261.1,674.1 261.9,673.1 262.6,671.7 263.4,669.9 264.1,667.9 264.9,665.7 265.6,663.4 266.4,660.9 267.1,658.5 267.9,656.2 268.6,654.0 269.4,652.0 270.1,650.3 270.9,648.8 271.6,647.7 272.4,647.0 273.1,646.6 273.9,646.6 274.6,647.1 275.4,647.9 276.1,649.2 276.9,650.8 277.6,652.7 278.4,654.8 279.1,657.1 279.9,659.5 280.6,661.9 281.4,664.3 282.1,666.5 282.9,668.5 283.6,670.3 284.4,671.8 285.1,672.9 285.9,673.6 286.6,674.0 287.4,673.9 288.1,673.3 288.9,672.1 289.6,670.5 290.4,668.5 291.1,666.3 291.9,663.9 292.6,661.6 293.4,659.2 294.1,657.1 294.9,655.3 295.6,653.8 296.4,652.8 297.1,652.2 297.9,652.0 298.6,652.2 299.4,652.7 300.1,653.5 300.9,654.5 301.6,655.7 302.4,657.1 303.1,658.6 303.9,660.2 304.6,661.8 305.4,663.5 306.1,665.1 306.9,666.6 307.6,668.0 308.4,669.2 309.1,670.3 309.9,671.1 310.6,671.6 311.4,671.9 312.1,672.0 312.9,671.7 313.6,671.2 314.4,670.4 315.1,669.3 315.9,668.0 316.6,666.6 317.4,665.0 318.1,663.4 318.9,661.8 319.6,660.2 320.4,658.7 321.1,657.3 321.9,656.2 322.6,655.2 323.4,654.6 324.1,654.2 324.9,654.1 325.6,654.2 326.4,654.8 327.1,655.6 327.9,656.7 328.6,658.0 329.4,659.5 330.1,661.1 330.9,662.8 331.6,664.5 332.4,666.2 333.1,667.7 333.9,669.1 334.6,670.3 335.4,671.3 336.1,672.0 336.9,672.3 337.6,672.4 338.4,672.2 339.1,671.6 339.9,670.8 340.6,669.8 341.4,668.5 342.1,667.2 342.9,665.7 343.6,664.1 344.4,662.6 345.1,661.2 345.9,659.9 346.6,658.8 347.4,657.9 348.1,657.2 348.9,656.8 349.6,656.7 350.4,656.9 351.1,657.3 351.9,657.9 352.6,658.8 353.4,659.8 354.1,661.0 354.9,662.3 355.6,663.6 356.4,665.0 357.1,666.4 357.9,667.7 358.6,668.9 359.4,670.0 360.1,670.9 360.9,671.7 361.6,672.2 362.4,672.5 363.1,672.6 363.9,672.4 364.6,672.0 365.4,671.4 366.1,670.7 366.9,669.7 367.6,668.6 368.4,667.5 369.1,666.2 369.9,665.0 370.6,663.8 371.4,662.6 372.1,661.5 372.9,660.6 373.6,659.8 374.4,659.2 375.1,658.7 375.9,658.5 376.6,658.5 377.4,658.7 378.1,659.1 378.9,659.7 379.6,660.5 380.4,661.4 381.1,662.4 381.9,663.4 382.6,664.6 383.4,665.7 384.1,666.8 384.9,667.9 385.6,668.8 386.4,669.7 387.1,670.4 387.9,670.9 388.6,671.3 389.4,671.5 390.1,671.5 390.9,671.3 391.6,670.9 392.4,670.3 393.1,669.7 393.9,668.8 394.6,667.9 395.4,667.0 396.1,666.0 396.9,665.0 397.6,664.0 398.4,663.1 399.1,662.3 399.9,661.6 400.6,661.0 401.4,660.5 402.1,660.2 402.9,660.1 403.6,660.2 404.4,660.4 405.1,660.8 405.9,661.3 406.6,661.9 407.4,662.6 408.1,663.5 408.9,664.3 409.6,665.2 410.4,666.1 411.1,667.0 411.9,667.8 412.6,668.5 413.4,669.2 414.1,669.7 414.9,670.1 415.6,670.3 416.4,670.4 417.1,670.3 417.9,670.1 418.6,669.8 419.4,669.3 420.1,668.8 420.9,668.1 421.6,667.4 422.4,666.6 423.1,665.8 423.9,665.0 424.6,664.3 425.4,663.6 426.1,662.9 426.9,662.4 427.6,662.0 428.4,661.7 429.1,661.5 429.9,661.4 430.6,661.5 431.4,661.7 432.1,662.0 432.9,662.5 433.6,663.0 434.4,663.6 435.1,664.2 435.9,664.9 436.6,665.6 437.4,666.3 438.1,667.0 438.9,667.7 439.6,668.2 440.4,668.7 441.1,669.1 441.9,669.4 442.6,669.6 443.4,669.6 444.1,669.6 444.9,669.4 445.6,669.1 446.4,668.7 447.1,668.3 447.9,667.7 448.6,667.1 449.4,666.5 450.1,665.9 450.9,665.3 451.6,664.7 452.4,664.1 453.1,663.6 453.9,663.2 454.6,662.8 455.4,662.6 456.1,662.4 456.9,662.4 457.6,662.4 458.4,662.6 459.1,662.9 459.9,663.2 460.6,663.6 461.4,664.1 462.1,664.7 462.9,665.2 463.6,665.8 464.4,666.4 465.1,666.9 465.9,667.4 466.6,667.9 467.4,668.3 468.1,668.6 468.9,668.9 469.6,669.0 470.4,669.0 471.1,669.0 471.9,668.9 472.6,668.6 473.4,668.3 474.1,667.9 474.9,667.5 475.6,667.0 476.4,666.5 477.1,666.0 477.9,665.5 478.6,665.0 479.4,664.6 480.1,664.2 480.9,663.8 481.6,663.5 482.4,663.3 483.1,663.2 483.9,663.2 484.6,663.3 485.4,663.4 486.1,663.6 486.9,663.9 487.6,664.3 488.4,664.7 489.1,665.1 489.9,665.6 490.6,666.0 491.4,666.5 492.1,666.9 492.9,667.4 493.6,667.7 494.4,668.0 495.1,668.3 495.9,668.5 496.6,668.6 497.4,668.6 498.1,668.5 498.9,668.4 499.6,668.2 500.4,668.0 501.1,667.7 501.9,667.3 502.6,666.9 503.4,666.5 504.1,666.2 504.9,665.8 505.6,665.4 506.4,665.1 507.1,664.8 507.9,664.5 508.6,664.3 509.4,664.2 510.1,664.1 510.9,664.1 511.6,664.2 512.4,664.3 513.1,664.5 513.9,664.8 514.6,665.1 515.4,665.4 516.1,665.7 516.9,666.1 517.6,666.5 518.4,666.8 519.1,667.2 519.9,667.5 520.6,667.7 521.4,668.0 522.1,668.1 522.9,668.2 523.6,668.3 524.4,668.3 525.1,668.3 525.9,668.2 526.6,668.0 527.4,667.8 528.1,667.6 528.9,667.3 529.6,667.0 530.4,666.7 531.1,666.4 531.9,666.1 532.6,665.9 533.4,665.6 534.1,665.4 534.9,665.3 535.6,665.2 536.4,665.1 537.1,665.1 537.9,665.1 538.6,665.2 539.4,665.3 540.1,665.4 540.9,665.6 541.6,665.9 542.4,666.1 543.1,666.4 543.9,666.7 544.6,666.9 545.4,667.2 546.1,667.4 546.9,667.7 547.6,667.8 548.4,668.0 549.1,668.1 549.9,668.2 550.6,668.2 551.4,668.2 552.1,668.2 552.9,668.1 553.6,668.0 554.4,667.8 555.1,667.6 555.9,667.4 556.6,667.2 557.4,667.0 558.1,666.8 558.9,666.6 559.6,666.4 560.4,666.3 561.1,666.1 561.9,666.0 562.6,665.9 563.4,665.9 564.1,665.9 564.9,665.9 565.6,666.0 566.4,666.1 567.1,666.2 567.9,666.4 568.6,666.6 569.4,666.7 570.1,666.9 570.9,667.1 571.6,667.3 572.4,667.5 573.1,667.7 573.9,667.9 574.6,668.0 575.4,668.1 576.1,668.2 576.9,668.2 577.6,668.3 578.4,668.2 579.1,668.2 579.9,668.1 580.6,668.0 581.4,667.9 582.1,667.8 582.9,667.6 583.6,667.5 584.4,667.3 585.1,667.2 585.9,667.0 586.6,666.9 587.4,666.8 588.1,666.7 588.9,666.6 589.6,666.6 590.4,666.5 591.1,666.5 591.9,666.6 592.6,666.6 593.4,666.7 594.1,666.8 594.9,666.9 595.6,667.1 596.4,667.2 597.1,667.4 597.9,667.5 598.6,667.7 599.4,667.8 600.1,667.9 600.9,668.1 601.6,668.1 602.4,668.2 603.1,668.3 603.9,668.3 604.6,668.3 605.4,668.3 606.1,668.2 606.9,668.2 607.6,668.1 608.4,668.0 609.1,667.9 609.9,667.8 610.6,667.7 611.4,667.5 612.1,667.4 612.9,667.3 613.6,667.2 614.4,667.1 615.1,667.1 615.9,667.0 616.6,667.0 617.4,667.0 618.1,667.0 618.9,667.0 619.6,667.1 620.4,667.1 621.1,667.2 621.9,667.3 622.6,667.4 623.4,667.5 624.1,667.7 624.9,667.8 625.6,667.9 626.4,668.0 627.1,668.1 627.9,668.2 628.6,668.3 629.4,668.3 630.1,668.3 630.9,668.4 631.6,668.4 632.4,668.3 633.1,668.3 633.9,668.3 634.6,668.2 635.4,668.1 636.1,668.0 636.9,667.9 637.6,667.8 638.4,667.7 639.1,667.7 639.9,667.6 640.6,667.5 641.4,667.4 642.1,667.4 642.9,667.4 643.6,667.3 644.4,667.3 645.1,667.4 645.9,667.4 646.6,667.4 647.4,667.5 648.1,667.6 648.9,667.6 649.6,667.7 650.4,667.8 651.1,667.9 651.9,668.0 652.6,668.1 653.4,668.2 654.1,668.3 654.9,668.3 655.6,668.4 656.4,668.4 657.1,668.4 657.9,668.4 658.6,668.4 659.4,668.4 660.1,668.4 660.9,668.3 661.6,668.3 662.4,668.2 663.1,668.2 663.9,668.1 664.6,668.0 665.4,667.9 666.1,667.9 666.9,667.8 667.6,667.7 668.4,667.7 669.1,667.7 669.9,667.6 670.6,667.6 671.4,667.6 672.1,667.7 672.9,667.7 673.6,667.7 674.4,667.8 675.1,667.8 675.9,667.9 676.6,668.0 677.4,668.1 678.1,668.1 678.9,668.2 679.6,668.3 680.4,668.3 681.1,668.4 681.9,668.4 682.6,668.5 683.4,668.5 684.1,668.5 684.9,668.5 685.6,668.5 686.4,668.5 687.1,668.5 687.9,668.4 688.6,668.4 689.4,668.3 690.1,668.3 690.9,668.2 691.6,668.2 692.4,668.1 693.1,668.0 693.9,668.0 694.6,668.0 695.4,667.9 696.1,667.9 696.9,667.9 697.6,667.9 698.4,667.9 699.1,667.9 699.9,667.9 700.6,668.0 701.4,668.0 702.1,668.1 702.9,668.1 703.6,668.2 704.4,668.2 705.1,668.3 705.9,668.3 706.6,668.4 707.4,668.5 708.1,668.5 708.9,668.5 709.6,668.6 710.4,668.6 711.1,668.6 711.9,668.6 712.6,668.6 713.4,668.6 714.1,668.5 714.9,668.5 715.6,668.5 716.4,668.4" fill="none" stroke="#000" stroke-width="4.6" stroke-linejoin="round" stroke-linecap="butt"/><text x="695" y="640.3" font-size="39.5" text-anchor="end" fill="#000">18.0 kOe</text>
<marker id="m3" markerWidth="20" markerHeight="20" refX="10" refY="10" markerUnits="userSpaceOnUse"><circle cx="10" cy="10" r="7.6" fill="#fff" stroke="#ff0080" stroke-width="1.5"/></marker><polyline points="132.0,764.3 136.1,764.3 140.2,764.3 144.3,764.3 148.4,764.3 152.5,763.9 154.5,737.1 155.0,721.1 156.6,711.3 159.2,702.0 165.4,693.8 170.5,708.2 173.1,724.7 174.6,740.2 176.2,753.6 180.6,765.2 182.3,761.9 184.0,755.4 185.7,747.4 187.3,735.7 189.0,724.9 190.7,716.3 192.4,709.5 194.1,707.3 195.8,707.6 197.5,713.1 199.1,719.9 200.8,729.6 202.5,739.9 204.2,748.7 205.9,756.0 207.6,759.8 209.3,759.9 210.9,759.0 212.6,754.6 214.3,748.6 216.0,741.7 217.7,735.3 219.4,728.2 221.1,722.7 222.8,718.1 224.4,715.9 226.1,715.2 227.8,717.5 229.5,721.7 231.2,727.2 232.9,735.0 234.6,741.3 236.2,748.4 237.9,753.8 239.6,756.7 241.3,757.3 243.0,757.0 244.7,753.6 246.4,748.3 248.0,742.3 249.7,736.7 251.4,730.3 253.1,726.7 254.8,723.1 256.5,722.0 258.2,722.8 259.8,726.4 261.5,731.7 263.2,737.0 264.9,743.3 266.6,749.2 268.3,753.1 270.0,755.7 271.6,755.9 273.3,754.2 275.0,751.4 276.7,747.1 278.4,741.8 280.1,738.2 281.8,733.2 283.4,730.1 285.1,728.3 286.8,728.6 288.5,729.8 290.2,732.0 291.9,735.6 293.6,739.7 295.2,745.2 296.9,748.5 298.6,752.3 300.3,754.1 302.0,754.8 303.7,754.1 305.4,751.8 307.0,748.5 308.7,745.3 310.4,741.7 312.1,737.9 313.8,734.4 315.5,733.0 317.2,731.5 318.9,732.4 320.5,734.6 322.2,737.5 323.9,740.3 325.6,744.5 327.3,747.6 329.0,750.7 330.7,752.9 332.3,754.4 334.0,753.8 335.7,751.0 337.4,747.3 339.1,742.6 340.8,738.0 342.5,735.8 344.1,735.1 345.8,735.6 347.5,737.9 349.2,739.4 350.9,743.1 352.6,746.4 354.3,749.0 355.9,751.2 357.6,753.3 359.3,753.5 361.0,752.7 362.7,751.0 364.4,749.8 366.1,746.4 367.7,743.3 369.4,740.8 371.1,738.8 372.8,738.2 374.5,737.0 376.2,737.6 377.9,738.8 379.5,741.4 381.2,743.6 382.9,746.5 384.6,749.5 386.3,751.7 388.0,753.0 389.7,752.6 391.3,752.6 393.0,752.1 394.7,749.3 396.4,747.3 398.1,745.3 399.8,743.0 401.5,741.6 403.2,740.4 404.8,739.7 406.5,739.8 408.2,740.8 409.9,742.5 411.6,744.4 413.3,747.3 415.0,748.8 416.6,751.4 418.3,752.3 420.0,752.1 421.7,752.5 423.4,751.8 425.1,749.7 426.8,748.5 428.4,746.1 430.1,745.1 431.8,742.7 433.5,742.4 435.2,742.4 436.9,742.5 438.6,742.5 440.2,744.2 441.9,745.3 443.6,747.3 445.3,749.6 447.0,751.0 448.7,751.0 450.4,751.9 452.0,752.2 453.7,751.0 455.4,750.7 457.1,749.5 458.8,747.7 460.5,746.0 462.2,745.4 463.8,744.2 465.5,743.4 467.2,743.6 468.9,744.0 470.6,745.8 472.3,746.6 474.0,748.1 475.6,749.5 477.3,750.7 479.0,750.6 480.7,751.2 482.4,751.8 484.1,751.3 485.8,750.1 487.5,749.5 489.1,747.9 490.8,746.9 492.5,745.9 494.2,745.7 495.9,745.2 497.6,745.6 499.3,746.5 500.9,746.1 502.6,747.4 504.3,748.7 506.0,749.2 507.7,749.9 509.4,750.8 511.1,750.2 512.7,751.4 514.4,750.8 516.1,750.5 517.8,749.9 519.5,748.3 521.2,747.6 522.9,747.1 524.5,747.0 526.2,747.3 527.9,747.2 529.6,746.8 531.3,747.5 533.0,748.2 534.7,748.4 536.3,749.8 538.0,750.3 539.7,750.5 541.4,751.0 543.1,750.9 544.8,750.6 546.5,749.9 548.1,749.4 549.8,748.8 551.5,748.0 553.2,748.6 554.9,747.5 556.6,747.0 558.3,747.3 559.9,747.3 561.6,748.0 563.3,748.3 565.0,748.6 566.7,749.4 568.4,749.8 570.1,750.0 571.8,750.8 573.4,750.2 575.1,750.3 576.8,750.5 578.5,750.3 580.2,749.2 581.9,748.4 583.6,749.1 585.2,748.4 586.9,747.9 588.6,747.7 590.3,748.0 592.0,748.3 593.7,748.4 595.4,748.7 597.0,750.2 598.7,750.3 600.4,749.7 602.1,750.3 603.8,750.7 605.5,750.2 607.2,749.5 608.8,749.6 610.5,749.4 612.2,749.7 613.9,749.1 615.6,748.7 617.3,748.8 619.0,748.1 620.6,749.0 622.3,749.3 624.0,749.4 625.7,749.3 627.4,749.5 629.1,749.4 630.8,749.7 632.4,749.8 634.1,750.2 635.8,750.5 637.5,749.7 639.2,749.9 640.9,749.8 642.6,749.6 644.2,748.7 645.9,749.7 647.6,749.2 649.3,748.9 651.0,748.9 652.7,749.5 654.4,750.0 656.1,749.5 657.7,749.8 659.4,750.1 661.1,749.8 662.8,750.1 664.5,750.8 666.2,750.3 667.9,750.5 669.5,749.7 671.2,750.3 672.9,750.0 674.6,749.2 676.3,749.5 678.0,749.6 679.7,749.5 681.3,749.6 683.0,749.3 684.7,749.8 686.4,749.7 688.1,750.4 689.8,750.0 691.5,750.8 693.1,750.4 694.8,750.0 696.5,750.2 698.2,749.7 699.9,750.4 701.6,749.4 703.3,750.0 704.9,749.5 706.6,750.0 708.3,749.2 710.0,749.9 711.7,750.0 713.4,749.5 715.1,749.4 716.5,750.0" fill="none" stroke="none" marker-start="url(#m3)" marker-mid="url(#m3)" marker-end="url(#m3)"/><polyline points="180.6,764.7 181.3,764.2 182.1,762.8 182.8,760.6 183.6,757.7 184.3,754.1 185.1,750.1 185.8,745.6 186.6,740.9 187.3,736.0 188.1,731.2 188.8,726.4 189.6,722.0 190.3,718.0 191.1,714.4 191.8,711.5 192.6,709.2 193.3,707.6 194.1,706.9 194.8,706.9 195.6,707.6 196.3,709.1 197.1,711.3 197.8,714.1 198.6,717.4 199.3,721.2 200.1,725.3 200.8,729.6 201.6,734.0 202.3,738.4 203.1,742.7 203.8,746.7 204.6,750.3 205.3,753.5 206.1,756.1 206.8,758.2 207.6,759.6 208.3,760.4 209.1,760.5 209.8,760.0 210.6,759.1 211.3,757.8 212.1,756.0 212.8,753.9 213.6,751.5 214.3,748.8 215.1,745.8 215.8,742.8 216.6,739.6 217.3,736.4 218.1,733.2 218.8,730.1 219.6,727.2 220.3,724.5 221.1,722.1 221.8,719.9 222.6,718.1 223.3,716.7 224.1,715.7 224.8,715.1 225.6,715.0 226.3,715.3 227.1,716.0 227.8,717.3 228.6,719.0 229.3,721.1 230.1,723.5 230.8,726.2 231.6,729.2 232.3,732.3 233.1,735.4 233.8,738.6 234.6,741.8 235.3,744.8 236.1,747.6 236.8,750.1 237.6,752.4 238.3,754.3 239.1,755.8 239.8,756.9 240.6,757.5 241.3,757.7 242.1,757.5 242.8,756.8 243.6,755.7 244.3,754.2 245.1,752.3 245.8,750.2 246.6,747.8 247.3,745.3 248.1,742.6 248.8,739.9 249.6,737.1 250.3,734.4 251.1,731.9 251.8,729.6 252.6,727.5 253.3,725.7 254.1,724.2 254.8,723.1 255.6,722.3 256.4,722.0 257.1,722.1 257.9,722.6 258.6,723.6 259.4,725.0 260.1,726.8 260.9,729.0 261.6,731.4 262.4,734.0 263.1,736.8 263.9,739.6 264.6,742.4 265.4,745.1 266.1,747.6 266.9,749.8 267.6,751.8 268.4,753.5 269.1,754.7 269.9,755.5 270.6,756.0 271.4,755.9 272.1,755.6 272.9,754.9 273.6,753.9 274.4,752.6 275.1,751.0 275.9,749.3 276.6,747.3 277.4,745.3 278.1,743.2 278.9,741.0 279.6,738.9 280.4,736.9 281.1,735.0 281.9,733.2 282.6,731.7 283.4,730.4 284.1,729.3 284.9,728.6 285.6,728.1 286.4,728.0 287.1,728.1 287.9,728.6 288.6,729.4 289.4,730.5 290.1,731.8 290.9,733.3 291.6,735.1 292.4,736.9 293.1,738.9 293.9,740.9 294.6,743.0 295.4,745.0 296.1,746.9 296.9,748.7 297.6,750.3 298.4,751.8 299.1,752.9 299.9,753.9 300.6,754.5 301.4,754.9 302.1,755.0 302.9,754.8 303.6,754.3 304.4,753.5 305.1,752.5 305.9,751.3 306.6,749.9 307.4,748.4 308.1,746.7 308.9,745.0 309.6,743.3 310.4,741.5 311.1,739.8 311.9,738.2 312.6,736.8 313.4,735.4 314.1,734.3 314.9,733.4 315.6,732.7 316.4,732.2 317.1,732.0 317.9,732.0 318.6,732.3 319.4,732.9 320.1,733.7 320.9,734.7 321.6,735.8 322.4,737.2 323.1,738.7 323.9,740.2 324.6,741.9 325.4,743.5 326.1,745.2 326.9,746.8 327.6,748.2 328.4,749.6 329.1,750.8 329.9,751.9 330.6,752.7 331.4,753.4 332.1,753.7 332.9,753.9 333.6,753.8 334.4,753.2 335.1,752.1 335.9,750.7 336.6,749.1 337.4,747.1 338.1,745.1 338.9,743.0 339.6,741.0 340.4,739.2 341.1,737.5 341.9,736.2 342.6,735.3 343.4,734.8 344.1,734.7 344.9,734.9 345.6,735.3 346.4,736.0 347.1,736.8 347.9,737.8 348.6,738.9 349.4,740.2 350.1,741.6 350.9,743.0 351.6,744.4 352.4,745.9 353.1,747.2 353.9,748.6 354.6,749.8 355.4,750.8 356.1,751.7 356.9,752.5 357.6,753.0 358.4,753.4 359.1,753.5 359.9,753.5 360.6,753.2 361.4,752.8 362.1,752.1 362.9,751.3 363.6,750.4 364.4,749.3 365.1,748.1 365.9,746.9 366.6,745.7 367.4,744.4 368.1,743.2 368.9,742.0 369.6,740.9 370.4,739.9 371.1,739.1 371.9,738.4 372.6,737.8 373.4,737.5 374.1,737.3 374.9,737.4 375.6,737.6 376.4,738.0 377.1,738.6 377.9,739.3 378.6,740.2 379.4,741.1 380.1,742.2 380.9,743.4 381.6,744.6 382.4,745.8 383.1,746.9 383.9,748.1 384.6,749.2 385.4,750.1 386.1,751.0 386.9,751.8 387.6,752.3 388.4,752.8 389.1,753.0 389.9,753.1 390.6,753.0 391.4,752.8 392.1,752.4 392.9,751.8 393.6,751.1 394.4,750.3 395.1,749.4 395.9,748.4 396.6,747.4 397.4,746.4 398.1,745.3 398.9,744.3 399.6,743.4 400.4,742.5 401.1,741.7 401.9,741.0 402.6,740.5 403.4,740.1 404.1,739.8 404.9,739.7 405.6,739.8 406.4,740.0 407.1,740.3 407.9,740.8 408.6,741.5 409.4,742.2 410.1,743.0 410.9,743.9 411.6,744.9 412.4,745.9 413.1,746.9 413.9,747.8 414.6,748.8 415.4,749.6 416.1,750.4 416.9,751.1 417.6,751.7 418.4,752.2 419.1,752.5 419.9,752.7 420.6,752.7 421.4,752.6 422.1,752.4 422.9,752.0 423.6,751.5 424.4,750.9 425.1,750.2 425.9,749.5 426.6,748.7 427.4,747.9 428.1,747.0 428.9,746.2 429.6,745.4 430.4,744.6 431.1,743.9 431.9,743.3 432.6,742.8 433.4,742.3 434.1,742.1 434.9,741.9 435.6,741.8 436.4,741.9 437.1,742.1 437.9,742.4 438.6,742.9 439.4,743.4 440.1,744.0 440.9,744.7 441.6,745.4 442.4,746.2 443.1,746.9 443.9,747.7 444.6,748.5 445.4,749.2 446.1,749.9 446.9,750.5 447.6,751.0 448.4,751.4 449.1,751.8 449.9,752.0 450.6,752.1 451.4,752.1 452.1,752.0 452.9,751.8 453.6,751.5 454.4,751.1 455.1,750.6 455.9,750.1 456.6,749.5 457.4,748.8 458.1,748.2 458.9,747.5 459.6,746.9 460.4,746.3 461.1,745.7 461.9,745.2 462.6,744.7 463.4,744.4 464.1,744.1 464.9,743.9 465.6,743.8 466.4,743.8 467.1,743.9 467.9,744.0 468.6,744.3 469.4,744.7 470.1,745.1 470.9,745.5 471.6,746.1 472.4,746.6 473.1,747.2 473.9,747.8 474.6,748.3 475.4,748.9 476.1,749.4 476.9,749.9 477.6,750.3 478.4,750.7 479.1,751.0 479.9,751.2 480.6,751.3 481.4,751.4 482.1,751.4 482.9,751.3 483.6,751.1 484.4,750.9 485.1,750.6 485.9,750.2 486.6,749.8 487.4,749.4 488.1,748.9 488.9,748.5 489.6,748.0 490.4,747.6 491.1,747.1 491.9,746.8 492.6,746.4 493.4,746.1 494.1,745.8 494.9,745.7 495.6,745.5 496.4,745.5 497.1,745.5 497.9,745.6 498.6,745.7 499.4,745.9 500.1,746.2 500.9,746.5 501.6,746.8 502.4,747.2 503.1,747.6 503.9,748.0 504.6,748.4 505.4,748.8 506.1,749.2 506.9,749.5 507.6,749.9 508.4,750.2 509.1,750.4 509.9,750.6 510.6,750.7 511.4,750.8 512.1,750.9 512.9,750.8 513.6,750.8 514.4,750.6 515.1,750.5 515.9,750.2 516.6,750.0 517.4,749.7 518.1,749.4 518.9,749.1 519.6,748.8 520.4,748.4 521.1,748.1 521.9,747.8 522.6,747.6 523.4,747.3 524.1,747.1 524.9,746.9 525.6,746.8 526.4,746.7 527.1,746.7 527.9,746.7 528.6,746.8 529.4,746.9 530.1,747.1 530.9,747.2 531.6,747.5 532.4,747.7 533.1,748.0 533.9,748.3 534.6,748.6 535.4,748.9 536.1,749.1 536.9,749.4 537.6,749.7 538.4,749.9 539.1,750.1 539.9,750.3 540.6,750.4 541.4,750.5 542.1,750.6 542.9,750.6 543.6,750.5 544.4,750.5 545.1,750.4 545.9,750.2 546.6,750.1 547.4,749.9 548.1,749.6 548.9,749.4 549.6,749.2 550.4,748.9 551.1,748.7 551.9,748.5 552.6,748.3 553.4,748.1 554.1,747.9 554.9,747.8 555.6,747.7 556.4,747.6 557.1,747.6 557.9,747.6 558.6,747.6 559.4,747.7 560.1,747.8 560.9,747.9 561.6,748.0 562.4,748.2 563.1,748.4 563.9,748.6 564.6,748.8 565.4,749.1 566.1,749.3 566.9,749.5 567.6,749.7 568.4,749.9 569.1,750.0 569.9,750.2 570.6,750.3 571.4,750.3 572.1,750.4 572.9,750.4 573.6,750.4 574.4,750.4 575.1,750.3 575.9,750.2 576.6,750.1 577.4,750.0 578.1,749.8 578.9,749.6 579.6,749.5 580.4,749.3 581.1,749.1 581.9,748.9 582.6,748.8 583.4,748.6 584.1,748.5 584.9,748.4 585.6,748.3 586.4,748.2 587.1,748.2 587.9,748.2 588.6,748.2 589.4,748.2 590.1,748.3 590.9,748.4 591.6,748.5 592.4,748.6 593.1,748.8 593.9,748.9 594.6,749.1 595.4,749.2 596.1,749.4 596.9,749.6 597.6,749.7 598.4,749.9 599.1,750.0 599.9,750.1 600.6,750.2 601.4,750.3 602.1,750.3 602.9,750.3 603.6,750.3 604.4,750.3 605.1,750.3 605.9,750.2 606.6,750.1 607.4,750.0 608.1,749.9 608.9,749.8 609.6,749.7 610.4,749.5 611.1,749.4 611.9,749.3 612.6,749.2 613.4,749.0 614.1,748.9 614.9,748.9 615.6,748.8 616.4,748.7 617.1,748.7 617.9,748.7 618.6,748.7 619.4,748.7 620.1,748.7 620.9,748.8 621.6,748.9 622.4,749.0 623.1,749.1 623.9,749.2 624.6,749.3 625.4,749.4 626.1,749.5 626.9,749.7 627.6,749.8 628.4,749.9 629.1,750.0 629.9,750.1 630.6,750.1 631.4,750.2 632.1,750.2 632.9,750.3 633.6,750.3 634.4,750.3 635.1,750.3 635.9,750.2 636.6,750.2 637.4,750.1 638.1,750.0 638.9,749.9 639.6,749.8 640.4,749.7 641.1,749.6 641.9,749.6 642.6,749.5 643.4,749.4 644.1,749.3 644.9,749.2 645.6,749.2 646.4,749.1 647.1,749.1 647.9,749.1 648.6,749.1 649.4,749.1 650.1,749.1 650.9,749.2 651.6,749.2 652.4,749.3 653.1,749.3 653.9,749.4 654.6,749.5 655.4,749.6 656.1,749.7 656.9,749.8 657.6,749.9 658.4,749.9 659.1,750.0 659.9,750.1 660.6,750.2 661.4,750.2 662.1,750.2 662.9,750.3 663.6,750.3 664.4,750.3 665.1,750.3 665.9,750.2 666.6,750.2 667.4,750.2 668.1,750.1 668.9,750.0 669.6,750.0 670.4,749.9 671.1,749.8 671.9,749.8 672.6,749.7 673.4,749.6 674.1,749.6 674.9,749.5 675.6,749.5 676.4,749.4 677.1,749.4 677.9,749.4 678.6,749.4 679.4,749.4 680.1,749.4 680.9,749.4 681.6,749.5 682.4,749.5 683.1,749.6 683.9,749.6 684.6,749.7 685.4,749.8 686.1,749.8 686.9,749.9 687.6,750.0 688.4,750.0 689.1,750.1 689.9,750.1 690.6,750.2 691.4,750.2 692.1,750.3 692.9,750.3 693.6,750.3 694.4,750.3 695.1,750.3 695.9,750.3 696.6,750.2 697.4,750.2 698.1,750.2 698.9,750.1 699.6,750.1 700.4,750.0 701.1,750.0 701.9,749.9 702.6,749.9 703.4,749.8 704.1,749.8 704.9,749.8 705.6,749.7 706.4,749.7 707.1,749.7 707.9,749.7 708.6,749.7 709.4,749.7 710.1,749.7 710.9,749.7 711.6,749.7 712.4,749.7 713.1,749.8 713.9,749.8 714.6,749.8 715.4,749.9 716.1,749.9" fill="none" stroke="#000" stroke-width="4.6" stroke-linejoin="round" stroke-linecap="butt"/><text x="695" y="722.3" font-size="39.5" text-anchor="end" fill="#000">16.0 kOe</text>
<marker id="m4" markerWidth="20" markerHeight="20" refX="10" refY="10" markerUnits="userSpaceOnUse"><circle cx="10" cy="10" r="7.6" fill="#fff" stroke="#0000a0" stroke-width="1.5"/></marker><polyline points="132.0,847.3 136.1,847.3 140.2,847.3 144.3,847.3 148.4,847.3 152.5,847.1 154.5,820.8 155.6,805.4 157.1,794.0 159.7,783.7 166.4,773.4 170.5,784.2 172.6,798.7 174.6,813.6 176.2,826.0 177.7,837.3 182.0,846.1 183.7,844.1 185.4,840.3 187.1,832.9 188.7,824.8 190.4,815.6 192.1,806.8 193.8,799.6 195.5,792.5 197.2,789.1 198.9,787.6 200.5,789.5 202.2,795.0 203.9,801.3 205.6,810.3 207.3,819.2 209.0,828.2 210.7,834.9 212.3,839.5 214.0,841.9 215.7,841.1 217.4,838.6 219.1,833.3 220.8,826.4 222.5,819.8 224.2,812.0 225.8,805.6 227.5,799.8 229.2,796.4 230.9,795.3 232.6,795.8 234.3,799.4 236.0,804.8 237.6,811.4 239.3,818.9 241.0,825.8 242.7,832.1 244.4,836.7 246.1,838.2 247.8,839.3 249.4,836.8 251.1,833.0 252.8,828.4 254.5,823.3 256.2,817.4 257.9,812.6 259.6,808.4 261.2,805.6 262.9,803.9 264.6,804.6 266.3,806.3 268.0,809.6 269.7,815.2 271.4,820.6 273.0,826.5 274.7,831.3 276.4,835.4 278.1,836.8 279.8,837.4 281.5,837.2 283.2,833.6 284.8,831.2 286.5,826.9 288.2,821.5 289.9,817.3 291.6,814.5 293.3,811.8 295.0,810.1 296.6,809.7 298.3,811.0 300.0,813.0 301.7,816.3 303.4,821.4 305.1,826.1 306.8,830.2 308.4,833.0 310.1,834.6 311.8,835.6 313.5,835.4 315.2,833.4 316.9,830.4 318.6,827.1 320.3,823.7 321.9,819.5 323.6,816.3 325.3,814.0 327.0,812.6 328.7,813.5 330.4,815.2 332.1,817.3 333.7,821.6 335.4,826.2 337.1,829.7 338.8,833.4 340.5,836.5 342.2,837.5 343.9,837.1 345.5,835.8 347.2,833.1 348.9,829.6 350.6,826.6 352.3,823.3 354.0,819.4 355.7,817.5 357.3,816.2 359.0,816.8 360.7,817.0 362.4,819.4 364.1,821.9 365.8,825.1 367.5,828.6 369.1,832.2 370.8,834.5 372.5,836.0 374.2,836.5 375.9,836.6 377.6,835.5 379.3,833.7 380.9,831.6 382.6,827.9 384.3,825.8 386.0,823.3 387.7,820.9 389.4,819.5 391.1,819.4 392.7,820.9 394.4,821.6 396.1,824.3 397.8,826.9 399.5,829.0 401.2,831.4 402.9,834.2 404.6,835.0 406.2,836.3 407.9,836.6 409.6,835.1 411.3,833.4 413.0,831.1 414.7,829.1 416.4,826.8 418.0,824.5 419.7,823.7 421.4,822.7 423.1,822.6 424.8,822.3 426.5,823.7 428.2,826.1 429.8,827.0 431.5,829.5 433.2,832.1 434.9,833.1 436.6,834.3 438.3,835.5 440.0,835.0 441.6,834.5 443.3,833.4 445.0,831.7 446.7,830.4 448.4,828.6 450.1,827.0 451.8,825.9 453.4,823.9 455.1,823.7 456.8,824.8 458.5,825.4 460.2,826.5 461.9,827.4 463.6,829.0 465.2,830.8 466.9,833.0 468.6,834.0 470.3,834.2 472.0,834.7 473.7,834.4 475.4,833.1 477.0,831.7 478.7,831.1 480.4,829.5 482.1,828.2 483.8,826.9 485.5,825.6 487.2,825.6 488.9,825.3 490.5,826.4 492.2,826.4 493.9,828.2 495.6,829.1 497.3,831.1 499.0,832.2 500.7,832.4 502.3,832.9 504.0,833.4 505.7,834.1 507.4,833.3 509.1,832.4 510.8,830.7 512.5,829.6 514.1,828.7 515.8,827.9 517.5,827.2 519.2,826.2 520.9,827.1 522.6,826.6 524.3,827.8 525.9,828.2 527.6,829.2 529.3,831.0 531.0,831.2 532.7,832.3 534.4,833.3 536.1,833.5 537.7,833.3 539.4,832.4 541.1,832.3 542.8,831.3 544.5,830.2 546.2,829.9 547.9,829.1 549.5,828.8 551.2,827.9 552.9,827.5 554.6,827.9 556.3,828.9 558.0,829.5 559.7,830.2 561.3,830.7 563.0,831.6 564.7,831.6 566.4,832.1 568.1,833.2 569.8,832.3 571.5,832.7 573.2,831.9 574.8,831.2 576.5,831.3 578.2,830.9 579.9,829.7 581.6,829.1 583.3,829.2 585.0,828.8 586.6,829.9 588.3,829.1 590.0,830.1 591.7,830.3 593.4,830.6 595.1,832.4 596.8,832.4 598.4,832.8 600.1,833.0 601.8,833.0 603.5,832.7 605.2,832.5 606.9,831.7 608.6,831.0 610.2,831.4 611.9,831.0 613.6,830.7 615.3,830.4 617.0,829.7 618.7,830.5 620.4,830.0 622.0,831.3 623.7,830.6 625.4,831.3 627.1,832.0 628.8,832.7 630.5,832.7 632.2,832.2 633.8,833.0 635.5,832.3 637.2,832.2 638.9,832.0 640.6,832.2 642.3,831.2 644.0,831.1 645.6,830.9 647.3,830.7 649.0,830.6 650.7,830.9 652.4,830.8 654.1,831.1 655.8,831.2 657.5,832.0 659.1,832.4 660.8,832.1 662.5,832.6 664.2,832.8 665.9,833.3 667.6,833.3 669.3,832.1 670.9,832.9 672.6,832.6 674.3,831.7 676.0,831.5 677.7,831.7 679.4,831.3 681.1,831.4 682.7,831.5 684.4,831.8 686.1,831.9 687.8,831.5 689.5,832.2 691.2,832.1 692.9,833.1 694.5,832.3 696.2,832.4 697.9,832.7 699.6,832.5 701.3,833.1 703.0,832.1 704.7,833.0 706.3,832.5 708.0,832.5 709.7,831.9 711.4,832.1 713.1,831.7 714.8,832.4 716.5,832.2" fill="none" stroke="none" marker-start="url(#m4)" marker-mid="url(#m4)" marker-end="url(#m4)"/><polyline points="182.0,846.0 182.8,845.6 183.5,844.6 184.2,843.1 185.0,841.1 185.8,838.5 186.5,835.6 187.2,832.2 188.0,828.6 188.8,824.8 189.5,820.8 190.2,816.7 191.0,812.7 191.8,808.8 192.5,805.0 193.2,801.5 194.0,798.2 194.8,795.4 195.5,792.9 196.2,790.9 197.0,789.4 197.8,788.4 198.5,788.0 199.2,788.1 200.0,788.8 200.8,790.1 201.5,792.1 202.2,794.5 203.0,797.4 203.8,800.8 204.5,804.4 205.2,808.3 206.0,812.3 206.8,816.4 207.5,820.4 208.2,824.3 209.0,828.0 209.8,831.4 210.5,834.4 211.2,837.0 212.0,839.1 212.8,840.6 213.5,841.6 214.2,842.0 215.0,841.8 215.8,841.2 216.5,840.1 217.2,838.6 218.0,836.7 218.8,834.4 219.5,831.8 220.2,828.9 221.0,825.9 221.8,822.7 222.5,819.4 223.2,816.1 224.0,812.9 224.8,809.8 225.5,806.8 226.2,804.1 227.0,801.7 227.8,799.5 228.5,797.8 229.2,796.5 230.0,795.5 230.8,795.0 231.5,795.0 232.2,795.4 233.0,796.4 233.8,797.9 234.5,799.8 235.2,802.1 236.0,804.7 236.8,807.6 237.5,810.7 238.2,814.0 239.0,817.3 239.8,820.6 240.5,823.8 241.2,826.8 242.0,829.7 242.8,832.2 243.5,834.3 244.2,836.1 245.0,837.5 245.8,838.4 246.5,838.9 247.2,839.0 248.0,838.6 248.8,837.9 249.5,836.8 250.2,835.4 251.0,833.8 251.8,831.9 252.5,829.8 253.2,827.5 254.0,825.1 254.8,822.6 255.5,820.2 256.2,817.7 257.0,815.4 257.8,813.1 258.5,811.0 259.2,809.2 260.0,807.5 260.8,806.2 261.5,805.1 262.2,804.3 263.0,803.9 263.8,803.8 264.5,804.0 265.2,804.6 266.0,805.6 266.8,806.9 267.5,808.6 268.2,810.5 269.0,812.6 269.8,815.0 270.5,817.4 271.2,820.0 272.0,822.5 272.8,825.0 273.5,827.4 274.2,829.6 275.0,831.7 275.8,833.5 276.5,835.0 277.2,836.2 278.0,837.0 278.8,837.6 279.5,837.7 280.2,837.5 281.0,837.0 281.8,836.3 282.5,835.3 283.2,834.0 284.0,832.5 284.8,830.9 285.5,829.1 286.2,827.2 287.0,825.2 287.8,823.2 288.5,821.2 289.2,819.3 290.0,817.5 290.8,815.7 291.5,814.2 292.2,812.8 293.0,811.6 293.8,810.7 294.5,810.0 295.2,809.6 296.0,809.4 296.8,809.5 297.5,809.9 298.2,810.6 299.0,811.6 299.8,812.8 300.5,814.2 301.2,815.9 302.0,817.7 302.8,819.5 303.5,821.5 304.2,823.5 305.0,825.4 305.8,827.3 306.5,829.1 307.2,830.7 308.0,832.2 308.8,833.5 309.5,834.5 310.2,835.2 311.0,835.7 311.8,836.0 312.5,835.9 313.2,835.7 314.0,835.1 314.8,834.3 315.5,833.3 316.2,832.1 317.0,830.8 317.8,829.3 318.5,827.7 319.2,826.0 320.0,824.3 320.8,822.6 321.5,820.9 322.2,819.3 323.0,817.8 323.8,816.5 324.5,815.4 325.2,814.4 326.0,813.7 326.8,813.2 327.5,813.0 328.2,813.0 329.0,813.4 329.8,814.0 330.5,814.9 331.2,816.1 332.0,817.5 332.8,819.1 333.5,820.9 334.2,822.7 335.0,824.7 335.8,826.6 336.5,828.5 337.2,830.3 338.0,832.0 338.8,833.5 339.5,834.7 340.2,835.8 341.0,836.6 341.8,837.1 342.5,837.2 343.2,837.2 344.0,836.8 344.8,836.3 345.5,835.5 346.2,834.5 347.0,833.4 347.8,832.1 348.5,830.7 349.2,829.2 350.0,827.6 350.8,826.1 351.5,824.5 352.2,823.0 353.0,821.6 353.8,820.3 354.5,819.2 355.2,818.2 356.0,817.4 356.8,816.8 357.5,816.4 358.2,816.2 359.0,816.3 359.8,816.6 360.5,817.1 361.2,817.8 362.0,818.7 362.8,819.7 363.5,821.0 364.2,822.3 365.0,823.7 365.8,825.2 366.5,826.7 367.2,828.2 368.0,829.6 368.8,831.0 369.5,832.3 370.2,833.5 371.0,834.6 371.8,835.4 372.5,836.1 373.2,836.6 374.0,836.9 374.8,837.0 375.5,836.9 376.2,836.6 377.0,836.1 377.8,835.4 378.5,834.6 379.2,833.6 380.0,832.5 380.8,831.3 381.5,830.1 382.2,828.8 383.0,827.5 383.8,826.2 384.5,825.0 385.2,823.9 386.0,822.8 386.8,821.9 387.5,821.1 388.2,820.5 389.0,820.0 389.8,819.7 390.5,819.6 391.2,819.7 392.0,820.0 392.8,820.4 393.5,821.0 394.2,821.7 395.0,822.6 395.8,823.6 396.5,824.7 397.2,825.8 398.0,827.0 398.8,828.2 399.5,829.4 400.2,830.6 401.0,831.7 401.8,832.7 402.5,833.6 403.2,834.4 404.0,835.1 404.8,835.6 405.5,836.0 406.2,836.2 407.0,836.2 407.8,836.1 408.5,835.9 409.2,835.4 410.0,834.9 410.8,834.2 411.5,833.4 412.2,832.5 413.0,831.5 413.8,830.5 414.5,829.5 415.2,828.5 416.0,827.5 416.8,826.5 417.5,825.6 418.2,824.8 419.0,824.1 419.8,823.4 420.5,822.9 421.2,822.6 422.0,822.4 422.8,822.3 423.5,822.4 424.2,822.6 425.0,822.9 425.8,823.4 426.5,824.0 427.2,824.7 428.0,825.4 428.8,826.3 429.5,827.2 430.2,828.1 431.0,829.0 431.8,830.0 432.5,830.9 433.2,831.7 434.0,832.5 434.8,833.3 435.5,833.9 436.2,834.4 437.0,834.9 437.8,835.2 438.5,835.3 439.2,835.4 440.0,835.3 440.8,835.1 441.5,834.8 442.2,834.3 443.0,833.8 443.8,833.2 444.5,832.5 445.2,831.7 446.0,830.9 446.8,830.1 447.5,829.3 448.2,828.5 449.0,827.7 449.8,826.9 450.5,826.3 451.2,825.6 452.0,825.1 452.8,824.7 453.5,824.4 454.2,824.1 455.0,824.0 455.8,824.0 456.5,824.2 457.2,824.4 458.0,824.7 458.8,825.2 459.5,825.7 460.2,826.3 461.0,826.9 461.8,827.6 462.5,828.4 463.2,829.1 464.0,829.9 464.8,830.6 465.5,831.3 466.2,832.0 467.0,832.6 467.8,833.1 468.5,833.6 469.2,834.0 470.0,834.2 470.8,834.4 471.5,834.5 472.2,834.5 473.0,834.3 473.8,834.1 474.5,833.8 475.2,833.4 476.0,832.9 476.8,832.4 477.5,831.8 478.2,831.1 479.0,830.5 479.8,829.8 480.5,829.2 481.2,828.5 482.0,827.9 482.8,827.3 483.5,826.8 484.2,826.4 485.0,826.0 485.8,825.7 486.5,825.5 487.2,825.4 488.0,825.4 488.8,825.4 489.5,825.6 490.2,825.8 491.0,826.1 491.8,826.5 492.5,827.0 493.2,827.5 494.0,828.0 494.8,828.6 495.5,829.2 496.2,829.8 497.0,830.4 497.8,831.0 498.5,831.5 499.2,832.0 500.0,832.5 500.8,832.9 501.5,833.2 502.2,833.4 503.0,833.6 503.8,833.7 504.5,833.7 505.2,833.6 506.0,833.5 506.8,833.3 507.5,833.0 508.2,832.6 509.0,832.2 509.8,831.7 510.5,831.3 511.2,830.8 512.0,830.2 512.8,829.7 513.5,829.2 514.2,828.7 515.0,828.3 515.8,827.9 516.5,827.5 517.2,827.2 518.0,826.9 518.8,826.8 519.5,826.7 520.2,826.6 521.0,826.7 521.8,826.8 522.5,826.9 523.2,827.2 524.0,827.5 524.8,827.8 525.5,828.2 526.2,828.6 527.0,829.1 527.8,829.5 528.5,830.0 529.2,830.5 530.0,830.9 530.8,831.4 531.5,831.8 532.2,832.1 533.0,832.4 533.8,832.7 534.5,832.9 535.2,833.0 536.0,833.1 536.8,833.1 537.5,833.1 538.2,833.0 539.0,832.8 539.8,832.6 540.5,832.3 541.2,832.0 542.0,831.7 542.8,831.4 543.5,831.0 544.2,830.6 545.0,830.2 545.8,829.8 546.5,829.5 547.2,829.1 548.0,828.8 548.8,828.6 549.5,828.3 550.2,828.2 551.0,828.0 551.8,828.0 552.5,828.0 553.2,828.0 554.0,828.1 554.8,828.2 555.5,828.4 556.2,828.6 557.0,828.9 557.8,829.2 558.5,829.5 559.2,829.8 560.0,830.2 560.8,830.5 561.5,830.9 562.2,831.2 563.0,831.5 563.8,831.8 564.5,832.1 565.2,832.3 566.0,832.5 566.8,832.7 567.5,832.8 568.2,832.8 569.0,832.8 569.8,832.8 570.5,832.7 571.2,832.6 572.0,832.4 572.8,832.3 573.5,832.0 574.2,831.8 575.0,831.6 575.8,831.3 576.5,831.0 577.2,830.7 578.0,830.5 578.8,830.2 579.5,830.0 580.2,829.8 581.0,829.6 581.8,829.5 582.5,829.3 583.2,829.3 584.0,829.2 584.8,829.2 585.5,829.2 586.2,829.3 587.0,829.4 587.8,829.6 588.5,829.7 589.2,829.9 590.0,830.1 590.8,830.4 591.5,830.6 592.2,830.8 593.0,831.1 593.8,831.3 594.5,831.6 595.2,831.8 596.0,832.0 596.8,832.2 597.5,832.4 598.2,832.5 599.0,832.6 599.8,832.7 600.5,832.7 601.2,832.7 602.0,832.7 602.8,832.6 603.5,832.6 604.2,832.5 605.0,832.3 605.8,832.2 606.5,832.0 607.2,831.8 608.0,831.6 608.8,831.5 609.5,831.3 610.2,831.1 611.0,830.9 611.8,830.8 612.5,830.6 613.2,830.5 614.0,830.4 614.8,830.3 615.5,830.3 616.2,830.2 617.0,830.2 617.8,830.2 618.5,830.3 619.2,830.4 620.0,830.5 620.8,830.6 621.5,830.7 622.2,830.9 623.0,831.0 623.8,831.2 624.5,831.4 625.2,831.6 626.0,831.7 626.8,831.9 627.5,832.1 628.2,832.2 629.0,832.3 629.8,832.4 630.5,832.5 631.2,832.6 632.0,832.7 632.8,832.7 633.5,832.7 634.2,832.7 635.0,832.6 635.8,832.6 636.5,832.5 637.2,832.4 638.0,832.3 638.8,832.2 639.5,832.1 640.2,831.9 641.0,831.8 641.8,831.7 642.5,831.6 643.2,831.4 644.0,831.3 644.8,831.2 645.5,831.1 646.2,831.1 647.0,831.0 647.8,831.0 648.5,831.0 649.2,831.0 650.0,831.0 650.8,831.0 651.5,831.1 652.2,831.2 653.0,831.2 653.8,831.3 654.5,831.5 655.2,831.6 656.0,831.7 656.8,831.8 657.5,831.9 658.2,832.1 659.0,832.2 659.8,832.3 660.5,832.4 661.2,832.5 662.0,832.6 662.8,832.6 663.5,832.7 664.2,832.7 665.0,832.7 665.8,832.7 666.5,832.7 667.2,832.7 668.0,832.7 668.8,832.6 669.5,832.6 670.2,832.5 671.0,832.4 671.8,832.3 672.5,832.2 673.2,832.1 674.0,832.1 674.8,832.0 675.5,831.9 676.2,831.8 677.0,831.7 677.8,831.7 678.5,831.6 679.2,831.6 680.0,831.6 680.8,831.6 681.5,831.6 682.2,831.6 683.0,831.6 683.8,831.7 684.5,831.7 685.2,831.8 686.0,831.9 686.8,831.9 687.5,832.0 688.2,832.1 689.0,832.2 689.8,832.3 690.5,832.4 691.2,832.4 692.0,832.5 692.8,832.6 693.5,832.7 694.2,832.7 695.0,832.8 695.8,832.8 696.5,832.8 697.2,832.8 698.0,832.8 698.8,832.8 699.5,832.8 700.2,832.8 701.0,832.8 701.8,832.7 702.5,832.7 703.2,832.6 704.0,832.5 704.8,832.5 705.5,832.4 706.2,832.4 707.0,832.3 707.8,832.3 708.5,832.2 709.2,832.2 710.0,832.1 710.8,832.1 711.5,832.1 712.2,832.1 713.0,832.1 713.8,832.1 714.5,832.1 715.2,832.1 716.0,832.1" fill="none" stroke="#000" stroke-width="4.6" stroke-linejoin="round" stroke-linecap="butt"/><text x="695" y="804.4" font-size="39.5" text-anchor="end" fill="#000">15.0 kOe</text>
<marker id="m5" markerWidth="20" markerHeight="20" refX="10" refY="10" markerUnits="userSpaceOnUse"><circle cx="10" cy="10" r="7.6" fill="#fff" stroke="#008080" stroke-width="1.5"/></marker><polyline points="134.6,930.4 140.4,930.4 146.4,929.9 152.4,927.6 158.0,898.0 162.3,862.6 169.3,855.5 175.0,878.0 180.6,909.2 186.3,924.3 191.9,911.0 197.5,883.2 203.2,870.6 208.8,884.3 214.4,910.2 220.0,920.9 225.6,911.0 231.3,887.8 236.9,878.5 242.5,888.9 248.1,910.1 253.7,920.6 259.4,913.1 265.0,897.1 270.6,886.5 276.2,890.2 281.8,909.0 287.5,919.8 293.1,912.3 298.7,897.6 304.3,891.0 309.9,897.3 315.6,909.0 321.2,915.2 326.8,912.4 332.4,901.5 338.0,897.5 343.7,900.3 349.3,910.4 354.9,916.2 360.5,915.8 366.1,906.0 371.8,901.8 377.4,902.6 383.0,909.9 388.6,915.2 394.2,914.7 399.9,909.6 405.5,905.1 411.1,906.1 416.7,911.0 422.3,914.5 428.0,914.5 433.6,910.3 439.2,905.9 444.8,908.1 450.4,910.1 456.1,913.8 461.7,913.7 467.3,910.6 472.9,907.6 478.5,907.9 484.2,910.7 489.8,914.6 495.4,914.2 501.0,912.6 506.6,910.0 512.3,909.1 517.9,911.4 523.5,913.7 529.1,912.9 534.7,913.2 540.4,910.8 546.0,911.3 551.6,911.4 557.2,912.2 562.8,912.8 568.5,913.7 574.1,912.2 579.7,910.7 585.3,913.0 590.9,912.5 596.6,913.0 602.2,912.1 607.8,912.1 613.4,912.3 619.0,913.3 624.7,912.5 630.3,913.4 635.9,912.3 641.5,913.2 647.1,912.0 652.8,912.3 658.4,912.5 664.0,914.0 669.6,914.3 675.2,912.1 680.9,912.5 686.5,911.8 692.1,913.6 697.7,914.2 703.3,912.4 709.0,913.4 716.5,912.7" fill="none" stroke="none" marker-start="url(#m5)" marker-mid="url(#m5)" marker-end="url(#m5)"/><polyline points="186.3,924.7 187.1,924.4 187.8,923.4 188.6,922.0 189.3,920.0 190.1,917.6 190.8,914.8 191.6,911.6 192.3,908.1 193.1,904.4 193.8,900.6 194.6,896.8 195.3,892.9 196.1,889.1 196.8,885.5 197.6,882.2 198.3,879.1 199.1,876.4 199.8,874.1 200.6,872.2 201.3,870.9 202.1,870.0 202.8,869.7 203.6,869.8 204.3,870.5 205.1,871.7 205.8,873.4 206.6,875.4 207.3,877.9 208.1,880.7 208.8,883.8 209.6,887.1 210.3,890.6 211.1,894.1 211.8,897.7 212.6,901.2 213.3,904.7 214.1,907.9 214.8,911.0 215.6,913.7 216.3,916.1 217.1,918.2 217.8,919.8 218.6,921.0 219.3,921.7 220.1,922.0 220.8,921.8 221.6,921.2 222.3,920.1 223.1,918.6 223.8,916.7 224.6,914.4 225.3,911.9 226.1,909.1 226.8,906.2 227.6,903.1 228.3,900.0 229.1,896.9 229.8,893.9 230.6,891.0 231.3,888.2 232.1,885.7 232.8,883.5 233.6,881.6 234.3,880.1 235.1,879.0 235.8,878.3 236.6,878.0 237.3,878.1 238.1,878.6 238.8,879.6 239.6,880.9 240.3,882.5 241.1,884.5 241.8,886.8 242.6,889.3 243.3,891.9 244.1,894.7 244.8,897.6 245.6,900.5 246.3,903.4 247.1,906.2 247.8,908.9 248.6,911.3 249.3,913.6 250.1,915.6 250.8,917.3 251.6,918.6 252.3,919.6 253.1,920.2 253.8,920.5 254.6,920.4 255.3,920.0 256.1,919.2 256.8,918.2 257.6,917.0 258.3,915.4 259.1,913.7 259.8,911.8 260.6,909.7 261.3,907.5 262.1,905.2 262.8,902.9 263.6,900.6 264.3,898.4 265.1,896.2 265.8,894.1 266.6,892.2 267.3,890.4 268.1,888.9 268.8,887.6 269.6,886.5 270.3,885.7 271.1,885.2 271.8,885.0 272.6,885.0 273.3,885.5 274.1,886.3 274.8,887.4 275.6,888.9 276.3,890.7 277.1,892.8 277.8,895.0 278.6,897.4 279.3,899.9 280.1,902.5 280.8,905.0 281.6,907.5 282.3,909.8 283.1,911.9 283.8,913.9 284.6,915.5 285.3,916.9 286.1,917.9 286.8,918.6 287.6,919.0 288.3,919.0 289.1,918.6 289.8,918.0 290.6,917.2 291.3,916.0 292.1,914.7 292.8,913.1 293.6,911.4 294.3,909.6 295.1,907.7 295.8,905.7 296.6,903.8 297.3,901.8 298.1,900.0 298.8,898.2 299.6,896.6 300.3,895.1 301.1,893.8 301.8,892.8 302.6,891.9 303.3,891.4 304.1,891.0 304.8,891.0 305.6,891.2 306.3,891.6 307.1,892.3 307.8,893.2 308.6,894.3 309.3,895.5 310.1,897.0 310.8,898.5 311.6,900.1 312.3,901.8 313.1,903.5 313.8,905.2 314.6,906.9 315.3,908.5 316.1,910.0 316.8,911.3 317.6,912.5 318.3,913.6 319.1,914.5 319.8,915.2 320.6,915.6 321.3,915.9 322.1,916.0 322.8,915.9 323.6,915.5 324.3,915.0 325.1,914.2 325.8,913.3 326.6,912.3 327.3,911.1 328.1,909.8 328.8,908.5 329.6,907.1 330.3,905.7 331.1,904.3 331.8,902.9 332.6,901.7 333.3,900.5 334.1,899.4 334.8,898.5 335.6,897.8 336.3,897.2 337.1,896.9 337.8,896.7 338.6,896.7 339.3,896.9 340.1,897.3 340.8,897.8 341.6,898.5 342.3,899.3 343.1,900.2 343.8,901.3 344.6,902.4 345.3,903.6 346.1,904.8 346.8,906.1 347.6,907.4 348.3,908.6 349.1,909.9 349.8,911.0 350.6,912.2 351.3,913.2 352.1,914.1 352.8,914.9 353.6,915.6 354.3,916.1 355.1,916.5 355.8,916.8 356.6,916.8 357.3,916.8 358.1,916.6 358.8,916.2 359.6,915.6 360.3,914.9 361.1,914.1 361.8,913.2 362.6,912.2 363.3,911.1 364.1,910.0 364.8,908.8 365.6,907.7 366.3,906.6 367.1,905.5 367.8,904.5 368.6,903.6 369.3,902.8 370.1,902.1 370.8,901.5 371.6,901.1 372.3,900.8 373.1,900.6 373.8,900.7 374.6,900.9 375.3,901.2 376.1,901.7 376.8,902.3 377.6,903.0 378.3,903.8 379.1,904.7 379.8,905.7 380.6,906.7 381.3,907.8 382.1,908.8 382.8,909.9 383.6,910.9 384.3,911.9 385.1,912.8 385.8,913.7 386.6,914.4 387.3,915.0 388.1,915.5 388.8,915.9 389.6,916.2 390.3,916.3 391.1,916.3 391.8,916.1 392.6,915.8 393.3,915.4 394.1,914.9 394.8,914.3 395.6,913.6 396.3,912.8 397.1,911.9 397.8,911.1 398.6,910.2 399.3,909.3 400.1,908.4 400.8,907.6 401.6,906.8 402.3,906.1 403.1,905.4 403.8,904.9 404.6,904.4 405.3,904.0 406.1,903.8 406.8,903.7 407.6,903.7 408.3,903.8 409.1,904.0 409.8,904.3 410.6,904.8 411.3,905.3 412.1,905.9 412.8,906.6 413.6,907.3 414.3,908.1 415.1,908.9 415.8,909.7 416.6,910.5 417.3,911.3 418.1,912.1 418.8,912.8 419.6,913.4 420.3,914.0 421.1,914.5 421.8,914.9 422.6,915.2 423.3,915.4 424.1,915.5 424.8,915.5 425.6,915.4 426.3,915.2 427.1,914.9 427.8,914.5 428.6,914.1 429.3,913.6 430.1,913.0 430.8,912.4 431.6,911.7 432.3,911.1 433.1,910.4 433.8,909.7 434.6,909.1 435.3,908.5 436.1,908.0 436.8,907.5 437.6,907.0 438.3,906.7 439.1,906.4 439.8,906.2 440.6,906.1 441.3,906.1 442.1,906.1 442.8,906.3 443.6,906.5 444.3,906.8 445.1,907.2 445.8,907.6 446.6,908.1 447.3,908.6 448.1,909.1 448.8,909.7 449.6,910.3 450.3,910.9 451.1,911.5 451.8,912.0 452.6,912.5 453.3,913.0 454.1,913.5 454.8,913.9 455.6,914.2 456.3,914.5 457.1,914.7 457.8,914.8 458.6,914.8 459.3,914.8 460.1,914.7 460.8,914.6 461.6,914.4 462.3,914.1 463.1,913.8 463.8,913.4 464.6,913.0 465.3,912.6 466.1,912.1 466.8,911.7 467.6,911.2 468.3,910.8 469.1,910.3 469.8,909.9 470.6,909.5 471.3,909.2 472.1,908.8 472.8,908.6 473.6,908.4 474.3,908.2 475.1,908.1 475.8,908.1 476.6,908.1 477.3,908.2 478.1,908.4 478.8,908.6 479.6,908.8 480.3,909.1 481.1,909.4 481.8,909.8 482.6,910.1 483.3,910.5 484.1,910.9 484.8,911.4 485.6,911.8 486.3,912.1 487.1,912.5 487.8,912.9 488.6,913.2 489.3,913.5 490.1,913.7 490.8,913.9 491.6,914.1 492.3,914.2 493.1,914.2 493.8,914.2 494.6,914.2 495.3,914.1 496.1,914.0 496.8,913.8 497.6,913.6 498.3,913.4 499.1,913.1 499.8,912.8 500.6,912.6 501.3,912.2 502.1,911.9 502.8,911.6 503.6,911.3 504.3,911.0 505.1,910.8 505.8,910.5 506.6,910.3 507.3,910.1 508.1,910.0 508.8,909.9 509.6,909.8 510.3,909.8 511.1,909.8 511.8,909.8 512.5,909.9 513.3,910.0 514.0,910.2 514.8,910.3 515.5,910.5 516.3,910.8 517.0,911.0 517.8,911.3 518.5,911.5 519.3,911.8 520.0,912.1 520.8,912.3 521.5,912.6 522.3,912.8 523.0,913.0 523.8,913.2 524.5,913.4 525.3,913.6 526.0,913.7 526.8,913.8 527.5,913.8 528.3,913.8 529.0,913.8 529.8,913.8 530.5,913.7 531.3,913.6 532.0,913.5 532.8,913.3 533.5,913.2 534.3,913.0 535.0,912.8 535.8,912.6 536.5,912.4 537.3,912.2 538.0,912.0 538.8,911.8 539.5,911.6 540.3,911.5 541.0,911.3 541.8,911.2 542.5,911.1 543.3,911.0 544.0,910.9 544.8,910.9 545.5,910.9 546.3,910.9 547.0,911.0 547.8,911.0 548.5,911.1 549.3,911.2 550.0,911.4 550.8,911.5 551.5,911.7 552.3,911.8 553.0,912.0 553.8,912.2 554.5,912.4 555.3,912.6 556.0,912.7 556.8,912.9 557.5,913.0 558.3,913.2 559.0,913.3 559.8,913.4 560.5,913.5 561.3,913.5 562.0,913.6 562.8,913.6 563.5,913.6 564.3,913.6 565.0,913.5 565.8,913.5 566.5,913.4 567.3,913.3 568.0,913.2 568.8,913.0 569.5,912.9 570.3,912.8 571.0,912.6 571.8,912.5 572.5,912.4 573.3,912.2 574.0,912.1 574.8,912.0 575.5,911.9 576.3,911.8 577.0,911.8 577.8,911.7 578.5,911.7 579.3,911.7 580.0,911.7 580.8,911.7 581.5,911.7 582.3,911.8 583.0,911.8 583.8,911.9 584.5,912.0 585.3,912.1 586.0,912.2 586.8,912.3 587.5,912.4 588.3,912.6 589.0,912.7 589.8,912.8 590.5,912.9 591.3,913.0 592.0,913.1 592.8,913.2 593.5,913.3 594.3,913.3 595.0,913.4 595.8,913.4 596.5,913.4 597.3,913.5 598.0,913.4 598.8,913.4 599.5,913.4 600.3,913.3 601.0,913.3 601.8,913.2 602.5,913.2 603.3,913.1 604.0,913.0 604.8,912.9 605.5,912.8 606.3,912.7 607.0,912.6 607.8,912.5 608.5,912.5 609.3,912.4 610.0,912.3 610.8,912.3 611.5,912.2 612.3,912.2 613.0,912.2 613.8,912.1 614.5,912.1 615.3,912.2 616.0,912.2 616.8,912.2 617.5,912.3 618.3,912.3 619.0,912.4 619.8,912.5 620.5,912.5 621.3,912.6 622.0,912.7 622.8,912.8 623.5,912.9 624.3,912.9 625.0,913.0 625.8,913.1 626.5,913.1 627.3,913.2 628.0,913.3 628.8,913.3 629.5,913.3 630.3,913.4 631.0,913.4 631.8,913.4 632.5,913.4 633.3,913.4 634.0,913.3 634.8,913.3 635.5,913.3 636.3,913.2 637.0,913.1 637.8,913.1 638.5,913.0 639.3,913.0 640.0,912.9 640.8,912.8 641.5,912.8 642.3,912.7 643.0,912.6 643.8,912.6 644.5,912.5 645.3,912.5 646.0,912.5 646.8,912.4 647.5,912.4 648.3,912.4 649.0,912.4 649.8,912.4 650.5,912.5 651.3,912.5 652.0,912.5 652.8,912.6 653.5,912.6 654.3,912.7 655.0,912.7 655.8,912.8 656.5,912.8 657.3,912.9 658.0,913.0 658.8,913.0 659.5,913.1 660.3,913.1 661.0,913.2 661.8,913.2 662.5,913.3 663.3,913.3 664.0,913.3 664.8,913.3 665.5,913.3 666.3,913.3 667.0,913.3 667.8,913.3 668.5,913.3 669.3,913.3 670.0,913.2 670.8,913.2 671.5,913.2 672.3,913.1 673.0,913.1 673.8,913.0 674.5,913.0 675.3,912.9 676.0,912.9 676.8,912.8 677.5,912.8 678.3,912.7 679.0,912.7 679.8,912.7 680.5,912.6 681.3,912.6 682.0,912.6 682.8,912.6 683.5,912.6 684.3,912.6 685.0,912.6 685.8,912.7 686.5,912.7 687.3,912.7 688.0,912.8 688.8,912.8 689.5,912.8 690.3,912.9 691.0,912.9 691.8,913.0 692.5,913.0 693.3,913.1 694.0,913.1 694.8,913.2 695.5,913.2 696.3,913.2 697.0,913.3 697.8,913.3 698.5,913.3 699.3,913.3 700.0,913.3 700.8,913.3 701.5,913.3 702.3,913.3 703.0,913.3 703.8,913.3 704.5,913.2 705.3,913.2 706.0,913.2 706.8,913.1 707.5,913.1 708.3,913.0 709.0,913.0 709.8,912.9 710.5,912.9 711.3,912.9 712.0,912.8 712.8,912.8 713.5,912.8 714.3,912.7 715.0,912.7 715.8,912.7" fill="none" stroke="#000" stroke-width="4.6" stroke-linejoin="round" stroke-linecap="butt"/><text x="698" y="885.4" font-size="39.5" text-anchor="end" fill="#000">14.0 kOe</text>
<marker id="m6" markerWidth="20" markerHeight="20" refX="10" refY="10" markerUnits="userSpaceOnUse"><circle cx="10" cy="10" r="7.6" fill="#fff" stroke="#800000" stroke-width="1.5"/></marker><polyline points="134.6,1011.5 140.4,1011.5 146.4,1011.0 152.4,1010.0 158.0,983.6 163.7,954.0 169.3,937.0 175.0,941.0 179.2,963.8 184.9,993.4 190.5,1005.0 196.1,997.1 201.7,975.3 207.4,957.1 213.0,951.4 218.6,962.9 224.2,983.9 229.8,1000.5 235.5,1000.2 241.1,988.6 246.7,972.5 252.3,964.8 257.9,968.3 263.6,983.6 269.2,997.5 274.8,1001.1 280.4,995.8 286.0,983.9 291.7,973.1 297.3,970.2 302.9,978.5 308.5,990.6 314.1,999.0 319.8,997.2 325.4,988.3 331.0,979.0 336.6,975.1 342.2,979.2 347.9,988.7 353.5,998.1 359.1,998.4 364.7,991.1 370.3,984.5 376.0,979.6 381.6,981.2 387.2,990.0 392.8,996.1 398.4,998.7 404.1,994.4 409.7,986.8 415.3,983.8 420.9,984.9 426.5,990.2 432.2,994.6 437.8,997.5 443.4,995.9 449.0,990.0 454.6,987.7 460.3,987.2 465.9,988.7 471.5,994.2 477.1,996.3 482.7,995.5 488.4,993.5 494.0,991.2 499.6,989.0 505.2,989.4 510.8,993.0 516.5,996.0 522.1,997.0 527.7,995.1 533.3,991.5 538.9,992.2 544.6,991.6 550.2,992.0 555.8,993.8 561.4,994.6 567.0,995.4 572.7,993.0 578.3,993.3 583.9,991.6 589.5,993.3 595.1,994.2 600.8,994.1 606.4,994.0 612.0,995.3 617.6,994.7 623.2,992.6 628.9,994.2 634.5,995.4 640.1,995.8 645.7,995.9 651.3,994.4 657.0,994.8 662.6,994.1 668.2,995.1 673.8,995.0 679.4,995.7 685.1,996.0 690.7,994.8 696.3,995.3 701.9,993.7 707.5,994.0 713.2,995.8 716.5,995.0" fill="none" stroke="none" marker-start="url(#m6)" marker-mid="url(#m6)" marker-end="url(#m6)"/><polyline points="190.5,1006.0 191.2,1005.8 192.0,1005.2 192.8,1004.3 193.5,1003.1 194.2,1001.6 195.0,999.8 195.8,997.8 196.5,995.5 197.2,993.1 198.0,990.4 198.8,987.7 199.5,984.8 200.2,981.9 201.0,978.9 201.8,976.0 202.5,973.1 203.2,970.2 204.0,967.5 204.8,964.9 205.5,962.4 206.2,960.1 207.0,958.1 207.8,956.2 208.5,954.6 209.2,953.3 210.0,952.3 210.8,951.5 211.5,951.1 212.2,950.9 213.0,951.0 213.8,951.5 214.5,952.3 215.2,953.4 216.0,954.9 216.8,956.7 217.5,958.8 218.2,961.1 219.0,963.7 219.8,966.4 220.5,969.2 221.2,972.2 222.0,975.2 222.8,978.2 223.5,981.2 224.2,984.1 225.0,987.0 225.8,989.7 226.5,992.2 227.2,994.5 228.0,996.6 228.8,998.4 229.5,999.9 230.2,1001.1 231.0,1002.1 231.8,1002.7 232.5,1003.0 233.2,1003.0 234.0,1002.6 234.8,1002.1 235.5,1001.2 236.2,1000.2 237.0,998.9 237.8,997.3 238.5,995.6 239.2,993.8 240.0,991.8 240.8,989.7 241.5,987.5 242.2,985.3 243.0,983.1 243.8,980.9 244.5,978.7 245.2,976.6 246.0,974.5 246.8,972.6 247.5,970.9 248.2,969.3 249.0,967.8 249.8,966.6 250.5,965.6 251.2,964.8 252.0,964.2 252.8,963.8 253.5,963.7 254.2,963.9 255.0,964.3 255.8,964.9 256.5,965.8 257.2,967.0 258.0,968.3 258.8,969.9 259.5,971.6 260.2,973.5 261.0,975.5 261.8,977.6 262.5,979.8 263.2,982.1 264.0,984.3 264.8,986.5 265.5,988.7 266.2,990.8 267.0,992.7 267.8,994.6 268.5,996.2 269.2,997.7 270.0,999.0 270.8,1000.1 271.5,1000.9 272.2,1001.5 273.0,1001.9 273.8,1002.0 274.5,1001.9 275.2,1001.6 276.0,1001.1 276.8,1000.4 277.5,999.6 278.2,998.6 279.0,997.5 279.8,996.3 280.5,994.9 281.2,993.5 282.0,992.0 282.8,990.4 283.5,988.7 284.2,987.1 285.0,985.5 285.8,983.8 286.5,982.2 287.2,980.7 288.0,979.2 288.8,977.8 289.5,976.5 290.2,975.3 291.0,974.2 291.8,973.3 292.5,972.5 293.2,971.8 294.0,971.3 294.8,971.0 295.5,970.8 296.2,970.8 297.0,970.9 297.8,971.3 298.5,971.9 299.2,972.6 300.0,973.6 300.8,974.6 301.5,975.9 302.2,977.2 303.0,978.7 303.8,980.3 304.5,981.9 305.2,983.5 306.0,985.2 306.8,986.8 307.5,988.5 308.2,990.0 309.0,991.5 309.8,992.9 310.5,994.2 311.2,995.4 312.0,996.4 312.8,997.3 313.5,998.0 314.2,998.5 315.0,998.8 315.8,999.0 316.5,999.0 317.2,998.8 318.0,998.4 318.8,997.9 319.5,997.3 320.2,996.5 321.0,995.5 321.8,994.5 322.5,993.3 323.2,992.1 324.0,990.8 324.8,989.5 325.5,988.1 326.2,986.7 327.0,985.3 327.8,984.0 328.5,982.7 329.2,981.4 330.0,980.3 330.8,979.2 331.5,978.2 332.2,977.4 333.0,976.7 333.8,976.1 334.5,975.7 335.2,975.5 336.0,975.4 336.8,975.4 337.5,975.6 338.2,976.0 339.0,976.5 339.8,977.2 340.5,978.0 341.2,978.9 342.0,979.9 342.8,981.0 343.5,982.2 344.2,983.4 345.0,984.7 345.8,986.0 346.5,987.3 347.2,988.6 348.0,989.9 348.8,991.2 349.5,992.3 350.2,993.5 351.0,994.5 351.8,995.4 352.5,996.2 353.2,996.9 354.0,997.5 354.8,997.9 355.5,998.2 356.2,998.3 357.0,998.3 357.8,998.2 358.5,997.9 359.2,997.5 360.0,997.0 360.8,996.4 361.5,995.6 362.2,994.8 363.0,993.9 363.8,992.9 364.5,991.8 365.2,990.8 366.0,989.7 366.8,988.6 367.5,987.5 368.2,986.4 369.0,985.3 369.8,984.3 370.5,983.4 371.2,982.6 372.0,981.8 372.8,981.1 373.5,980.6 374.2,980.1 375.0,979.8 375.8,979.6 376.5,979.5 377.2,979.6 378.0,979.7 378.8,980.0 379.5,980.4 380.2,980.9 381.0,981.6 381.8,982.3 382.5,983.1 383.2,983.9 384.0,984.9 384.8,985.8 385.5,986.9 386.2,987.9 387.0,988.9 387.8,990.0 388.5,991.0 389.2,992.0 390.0,992.9 390.8,993.8 391.5,994.6 392.2,995.4 393.0,996.1 393.8,996.6 394.5,997.1 395.2,997.4 396.0,997.7 396.8,997.8 397.5,997.9 398.2,997.8 399.0,997.6 399.8,997.3 400.5,996.9 401.2,996.4 402.0,995.9 402.8,995.2 403.5,994.5 404.2,993.8 405.0,993.0 405.8,992.1 406.5,991.3 407.2,990.4 408.0,989.5 408.8,988.7 409.5,987.9 410.2,987.1 411.0,986.3 411.8,985.7 412.5,985.0 413.2,984.5 414.0,984.1 414.8,983.7 415.5,983.4 416.2,983.2 417.0,983.2 417.8,983.2 418.5,983.3 419.2,983.5 420.0,983.8 420.8,984.2 421.5,984.7 422.2,985.2 423.0,985.8 423.8,986.5 424.5,987.2 425.2,988.0 426.0,988.7 426.8,989.6 427.5,990.4 428.2,991.2 429.0,992.0 429.8,992.7 430.5,993.5 431.2,994.2 432.0,994.8 432.8,995.4 433.5,995.9 434.2,996.4 435.0,996.8 435.8,997.1 436.5,997.3 437.2,997.4 438.0,997.4 438.8,997.4 439.5,997.3 440.2,997.1 441.0,996.8 441.8,996.4 442.5,996.0 443.2,995.5 444.0,995.0 444.8,994.4 445.5,993.8 446.2,993.2 447.0,992.5 447.8,991.9 448.5,991.2 449.2,990.6 450.0,989.9 450.8,989.3 451.5,988.8 452.2,988.2 453.0,987.8 453.8,987.4 454.5,987.0 455.2,986.7 456.0,986.5 456.8,986.4 457.5,986.3 458.2,986.3 459.0,986.4 459.8,986.5 460.5,986.7 461.2,987.0 462.0,987.3 462.8,987.7 463.5,988.1 464.2,988.6 465.0,989.1 465.8,989.6 466.5,990.2 467.2,990.8 468.0,991.4 468.8,991.9 469.5,992.5 470.2,993.1 471.0,993.6 471.8,994.2 472.5,994.6 473.2,995.1 474.0,995.5 474.8,995.8 475.5,996.1 476.2,996.4 477.0,996.6 477.8,996.7 478.5,996.8 479.2,996.8 480.0,996.8 480.8,996.7 481.5,996.5 482.2,996.3 483.0,996.1 483.8,995.8 484.5,995.4 485.2,995.0 486.0,994.6 486.8,994.2 487.5,993.8 488.2,993.3 489.0,992.9 489.8,992.4 490.5,992.0 491.2,991.5 492.0,991.1 492.8,990.7 493.5,990.4 494.2,990.0 495.0,989.7 495.8,989.5 496.5,989.3 497.2,989.1 498.0,989.0 498.8,988.9 499.5,988.9 500.2,989.0 501.0,989.0 501.8,989.2 502.5,989.3 503.2,989.5 504.0,989.8 504.8,990.1 505.5,990.4 506.2,990.7 507.0,991.1 507.8,991.4 508.5,991.8 509.2,992.2 510.0,992.6 510.8,993.0 511.5,993.4 512.2,993.7 513.0,994.1 513.8,994.4 514.5,994.7 515.2,995.0 516.0,995.3 516.8,995.5 517.5,995.7 518.2,995.8 519.0,995.9 519.8,996.0 520.5,996.0 521.2,996.0 522.0,996.0 522.8,995.9 523.5,995.8 524.2,995.6 525.0,995.4 525.8,995.2 526.5,995.0 527.2,994.8 528.0,994.5 528.8,994.2 529.5,993.9 530.2,993.7 531.0,993.4 531.8,993.1 532.5,992.8 533.2,992.5 534.0,992.3 534.8,992.0 535.5,991.8 536.2,991.6 537.0,991.5 537.8,991.3 538.5,991.2 539.2,991.1 540.0,991.1 540.8,991.0 541.5,991.0 542.2,991.1 543.0,991.1 543.8,991.2 544.5,991.3 545.2,991.5 546.0,991.7 546.8,991.8 547.5,992.0 548.2,992.3 549.0,992.5 549.8,992.7 550.5,993.0 551.2,993.2 552.0,993.5 552.8,993.7 553.5,994.0 554.2,994.2 555.0,994.4 555.8,994.6 556.5,994.8 557.2,995.0 558.0,995.1 558.8,995.2 559.5,995.3 560.2,995.4 561.0,995.5 561.8,995.5 562.5,995.5 563.2,995.5 564.0,995.4 564.8,995.3 565.5,995.2 566.2,995.1 567.0,995.0 567.8,994.9 568.5,994.7 569.2,994.6 570.0,994.4 570.8,994.2 571.5,994.0 572.2,993.8 573.0,993.7 573.8,993.5 574.5,993.3 575.2,993.2 576.0,993.0 576.8,992.9 577.5,992.8 578.2,992.7 579.0,992.6 579.8,992.5 580.5,992.5 581.2,992.4 582.0,992.4 582.8,992.4 583.5,992.5 584.2,992.5 585.0,992.6 585.8,992.6 586.5,992.7 587.2,992.8 588.0,993.0 588.8,993.1 589.5,993.2 590.2,993.4 591.0,993.5 591.8,993.7 592.5,993.8 593.2,994.0 594.0,994.1 594.8,994.3 595.5,994.4 596.2,994.5 597.0,994.7 597.8,994.8 598.5,994.9 599.2,995.0 600.0,995.0 600.8,995.1 601.5,995.1 602.2,995.2 603.0,995.2 603.8,995.2 604.5,995.1 605.2,995.1 606.0,995.1 606.8,995.0 607.5,995.0 608.2,994.9 609.0,994.8 609.8,994.7 610.5,994.6 611.2,994.5 612.0,994.4 612.8,994.3 613.5,994.2 614.2,994.1 615.0,994.0 615.8,993.9 616.5,993.8 617.2,993.7 618.0,993.6 618.8,993.6 619.5,993.5 620.2,993.5 621.0,993.4 621.8,993.4 622.5,993.4 623.2,993.4 624.0,993.4 624.8,993.4 625.5,993.4 626.2,993.5 627.0,993.5 627.8,993.6 628.5,993.7 629.2,993.7 630.0,993.8 630.8,993.9 631.5,994.0 632.2,994.1 633.0,994.2 633.8,994.3 634.5,994.4 635.2,994.5 636.0,994.5 636.8,994.6 637.5,994.7 638.2,994.8 639.0,994.9 639.8,994.9 640.5,995.0 641.2,995.0 642.0,995.0 642.8,995.1 643.5,995.1 644.2,995.1 645.0,995.1 645.8,995.1 646.5,995.1 647.2,995.1 648.0,995.0 648.8,995.0 649.5,994.9 650.2,994.9 651.0,994.8 651.8,994.8 652.5,994.7 653.2,994.6 654.0,994.6 654.8,994.5 655.5,994.5 656.2,994.4 657.0,994.3 657.8,994.3 658.5,994.2 659.2,994.2 660.0,994.2 660.8,994.1 661.5,994.1 662.2,994.1 663.0,994.1 663.8,994.1 664.5,994.1 665.2,994.1 666.0,994.1 666.8,994.1 667.5,994.1 668.2,994.2 669.0,994.2 669.8,994.3 670.5,994.3 671.2,994.4 672.0,994.4 672.8,994.5 673.5,994.5 674.2,994.6 675.0,994.7 675.8,994.7 676.5,994.8 677.2,994.8 678.0,994.9 678.8,994.9 679.5,995.0 680.2,995.0 681.0,995.1 681.8,995.1 682.5,995.1 683.2,995.2 684.0,995.2 684.8,995.2 685.5,995.2 686.2,995.2 687.0,995.2 687.8,995.2 688.5,995.2 689.2,995.1 690.0,995.1 690.8,995.1 691.5,995.1 692.2,995.0 693.0,995.0 693.8,995.0 694.5,994.9 695.2,994.9 696.0,994.8 696.8,994.8 697.5,994.8 698.2,994.7 699.0,994.7 699.8,994.7 700.5,994.7 701.2,994.6 702.0,994.6 702.8,994.6 703.5,994.6 704.2,994.6 705.0,994.6 705.8,994.6 706.5,994.6 707.2,994.6 708.0,994.6 708.8,994.6 709.5,994.7 710.2,994.7 711.0,994.7 711.8,994.8 712.5,994.8 713.2,994.8 714.0,994.9 714.8,994.9 715.5,994.9 716.2,995.0" fill="none" stroke="#000" stroke-width="4.6" stroke-linejoin="round" stroke-linecap="butt"/><text x="695" y="968.5" font-size="39.5" text-anchor="end" fill="#000">12.0 kOe</text>
<marker id="m7" markerWidth="20" markerHeight="20" refX="10" refY="10" markerUnits="userSpaceOnUse"><circle cx="10" cy="10" r="7.6" fill="#fff" stroke="#800080" stroke-width="1.5"/></marker><polyline points="134.6,1092.0 140.4,1092.0 146.4,1091.5 152.4,1090.0 158.0,1067.8 163.7,1042.4 170.7,1019.8 179.2,1029.7 186.3,1052.3 192.0,1074.9 197.6,1086.0 203.2,1077.9 208.8,1061.3 214.5,1043.1 220.1,1035.3 225.7,1040.9 231.3,1053.3 236.9,1070.6 242.6,1082.2 248.2,1081.1 253.8,1071.9 259.4,1060.4 265.0,1051.1 270.7,1048.0 276.3,1054.2 281.9,1067.2 287.5,1075.9 293.1,1080.7 298.8,1077.4 304.4,1068.9 310.0,1060.6 315.6,1056.1 321.2,1057.8 326.9,1066.6 332.5,1075.1 338.1,1078.2 343.7,1075.5 349.3,1070.1 355.0,1065.4 360.6,1064.7 366.2,1065.4 371.8,1067.9 377.4,1074.0 383.1,1075.5 388.7,1076.6 394.3,1073.8 399.9,1070.1 405.5,1067.4 411.2,1067.7 416.8,1069.1 422.4,1072.5 428.0,1075.3 433.6,1076.7 439.3,1076.0 444.9,1073.6 450.5,1072.4 456.1,1070.3 461.7,1071.5 467.4,1072.7 473.0,1074.4 478.6,1074.0 484.2,1075.1 489.8,1074.1 495.5,1072.0 501.1,1071.6 506.7,1071.7 512.3,1071.2 517.9,1072.3 523.6,1074.6 529.2,1074.8 534.8,1075.9 540.4,1075.0 546.0,1074.2 551.7,1073.8 557.3,1072.7 562.9,1074.4 568.5,1073.8 574.1,1074.5 579.8,1075.2 585.4,1074.7 591.0,1073.8 596.6,1074.5 602.2,1075.4 607.9,1073.8 613.5,1074.7 619.1,1076.7 624.7,1076.1 630.3,1076.0 636.0,1075.7 641.6,1076.3 647.2,1075.4 652.8,1075.4 658.4,1075.6 664.1,1076.9 669.7,1075.6 675.3,1076.6 680.9,1077.0 686.5,1075.5 692.2,1076.0 697.8,1076.1 703.4,1076.9 709.0,1076.9 716.5,1077.2" fill="none" stroke="none" marker-start="url(#m7)" marker-mid="url(#m7)" marker-end="url(#m7)"/><polyline points="197.6,1086.0 198.3,1085.8 199.1,1085.4 199.8,1084.6 200.6,1083.6 201.3,1082.4 202.1,1081.0 202.8,1079.3 203.6,1077.5 204.3,1075.4 205.1,1073.3 205.8,1071.0 206.6,1068.6 207.3,1066.1 208.1,1063.6 208.8,1061.0 209.6,1058.5 210.3,1055.9 211.1,1053.5 211.8,1051.1 212.6,1048.8 213.3,1046.6 214.1,1044.6 214.8,1042.7 215.6,1041.0 216.3,1039.5 217.1,1038.3 217.8,1037.2 218.6,1036.3 219.3,1035.7 220.1,1035.3 220.8,1035.2 221.6,1035.3 222.3,1035.6 223.1,1036.2 223.8,1037.0 224.6,1038.0 225.3,1039.2 226.1,1040.6 226.8,1042.2 227.6,1043.9 228.3,1045.8 229.1,1047.8 229.8,1049.9 230.6,1052.1 231.3,1054.3 232.1,1056.6 232.8,1059.0 233.6,1061.3 234.3,1063.6 235.1,1065.8 235.8,1068.0 236.6,1070.1 237.3,1072.1 238.1,1073.9 238.8,1075.7 239.6,1077.3 240.3,1078.7 241.1,1079.9 241.8,1081.0 242.6,1081.9 243.3,1082.5 244.1,1083.0 244.8,1083.2 245.6,1083.3 246.3,1083.2 247.1,1082.8 247.8,1082.3 248.6,1081.6 249.3,1080.7 250.1,1079.7 250.8,1078.5 251.6,1077.1 252.3,1075.7 253.1,1074.2 253.8,1072.6 254.6,1070.9 255.3,1069.1 256.1,1067.4 256.9,1065.6 257.6,1063.8 258.4,1062.1 259.1,1060.4 259.9,1058.8 260.6,1057.2 261.4,1055.7 262.1,1054.3 262.9,1053.0 263.6,1051.9 264.4,1050.9 265.1,1050.0 265.9,1049.3 266.6,1048.7 267.4,1048.3 268.1,1048.0 268.9,1047.9 269.6,1048.0 270.4,1048.2 271.1,1048.6 271.9,1049.1 272.6,1049.8 273.4,1050.6 274.1,1051.5 274.9,1052.6 275.6,1053.8 276.4,1055.0 277.1,1056.4 277.9,1057.8 278.6,1059.3 279.4,1060.8 280.1,1062.4 280.9,1064.0 281.6,1065.5 282.4,1067.1 283.1,1068.6 283.9,1070.1 284.6,1071.5 285.4,1072.9 286.1,1074.2 286.9,1075.3 287.6,1076.4 288.4,1077.4 289.1,1078.2 289.9,1079.0 290.6,1079.5 291.4,1080.0 292.1,1080.3 292.9,1080.5 293.6,1080.5 294.4,1080.4 295.1,1080.1 295.9,1079.8 296.6,1079.3 297.4,1078.6 298.1,1077.9 298.9,1077.0 299.6,1076.1 300.4,1075.1 301.1,1074.0 301.9,1072.8 302.6,1071.6 303.4,1070.4 304.1,1069.1 304.9,1067.8 305.6,1066.5 306.4,1065.2 307.1,1064.0 307.9,1062.8 308.6,1061.6 309.4,1060.6 310.1,1059.5 310.9,1058.6 311.6,1057.8 312.4,1057.0 313.1,1056.4 313.9,1055.9 314.6,1055.4 315.4,1055.2 316.1,1055.0 316.9,1054.9 317.6,1055.0 318.4,1055.2 319.1,1055.6 319.9,1056.1 320.6,1056.7 321.4,1057.5 322.1,1058.4 322.9,1059.4 323.6,1060.5 324.4,1061.7 325.1,1062.9 325.9,1064.2 326.6,1065.4 327.4,1066.7 328.1,1068.0 328.9,1069.2 329.6,1070.5 330.4,1071.6 331.1,1072.7 331.9,1073.7 332.6,1074.6 333.4,1075.4 334.1,1076.1 334.9,1076.7 335.6,1077.2 336.4,1077.5 337.1,1077.8 337.9,1077.9 338.6,1077.9 339.4,1077.8 340.1,1077.6 340.9,1077.3 341.6,1077.0 342.4,1076.6 343.1,1076.1 343.9,1075.6 344.6,1075.0 345.4,1074.4 346.1,1073.7 346.9,1073.1 347.6,1072.4 348.4,1071.6 349.1,1070.9 349.9,1070.2 350.6,1069.5 351.4,1068.8 352.1,1068.2 352.9,1067.5 353.6,1066.9 354.4,1066.4 355.1,1065.9 355.9,1065.4 356.6,1065.0 357.4,1064.6 358.1,1064.3 358.9,1064.1 359.6,1063.9 360.4,1063.8 361.1,1063.7 361.9,1063.8 362.6,1063.8 363.4,1064.0 364.1,1064.1 364.9,1064.4 365.6,1064.7 366.4,1065.0 367.1,1065.4 367.9,1065.9 368.6,1066.3 369.4,1066.9 370.1,1067.4 370.9,1068.0 371.6,1068.6 372.4,1069.2 373.1,1069.8 373.9,1070.4 374.6,1071.0 375.4,1071.6 376.1,1072.2 376.9,1072.7 377.6,1073.3 378.4,1073.8 379.1,1074.2 379.9,1074.7 380.6,1075.1 381.4,1075.4 382.1,1075.7 382.9,1076.0 383.6,1076.2 384.4,1076.3 385.1,1076.4 385.9,1076.5 386.6,1076.5 387.4,1076.4 388.1,1076.3 388.9,1076.2 389.6,1076.0 390.4,1075.7 391.1,1075.5 391.9,1075.2 392.6,1074.8 393.4,1074.4 394.1,1074.0 394.9,1073.6 395.6,1073.2 396.4,1072.7 397.1,1072.3 397.9,1071.8 398.6,1071.4 399.4,1070.9 400.1,1070.5 400.9,1070.1 401.6,1069.7 402.4,1069.3 403.1,1068.9 403.9,1068.6 404.6,1068.4 405.4,1068.1 406.1,1067.9 406.9,1067.7 407.6,1067.6 408.4,1067.5 409.1,1067.5 409.9,1067.5 410.6,1067.5 411.4,1067.6 412.1,1067.7 412.9,1067.9 413.6,1068.1 414.4,1068.3 415.1,1068.6 415.9,1068.9 416.6,1069.2 417.4,1069.5 418.1,1069.9 418.9,1070.3 419.6,1070.7 420.4,1071.1 421.1,1071.5 421.9,1071.9 422.6,1072.3 423.4,1072.7 424.1,1073.1 424.9,1073.5 425.6,1073.8 426.4,1074.2 427.1,1074.5 427.9,1074.8 428.6,1075.0 429.4,1075.3 430.1,1075.5 430.9,1075.7 431.6,1075.8 432.4,1075.9 433.1,1076.0 433.9,1076.0 434.6,1076.0 435.4,1076.0 436.1,1075.9 436.9,1075.8 437.6,1075.6 438.4,1075.5 439.1,1075.3 439.9,1075.1 440.6,1074.9 441.4,1074.6 442.1,1074.3 442.9,1074.1 443.6,1073.8 444.4,1073.5 445.1,1073.2 445.9,1072.9 446.6,1072.6 447.4,1072.4 448.1,1072.1 448.9,1071.8 449.6,1071.6 450.4,1071.4 451.1,1071.2 451.9,1071.0 452.6,1070.8 453.4,1070.7 454.1,1070.5 454.9,1070.4 455.6,1070.4 456.4,1070.3 457.1,1070.3 457.9,1070.3 458.6,1070.3 459.4,1070.4 460.1,1070.4 460.9,1070.5 461.6,1070.6 462.4,1070.8 463.1,1070.9 463.9,1071.1 464.6,1071.3 465.4,1071.5 466.1,1071.7 466.9,1071.9 467.6,1072.1 468.4,1072.3 469.1,1072.6 469.9,1072.8 470.6,1073.0 471.4,1073.2 472.1,1073.4 472.9,1073.7 473.6,1073.9 474.4,1074.0 475.1,1074.2 475.9,1074.4 476.6,1074.5 477.4,1074.6 478.1,1074.7 478.9,1074.8 479.6,1074.9 480.4,1075.0 481.1,1075.0 481.9,1075.0 482.6,1075.0 483.4,1075.0 484.1,1074.9 484.9,1074.9 485.6,1074.8 486.4,1074.7 487.1,1074.6 487.9,1074.5 488.6,1074.3 489.4,1074.2 490.1,1074.1 490.9,1073.9 491.6,1073.7 492.4,1073.6 493.1,1073.4 493.9,1073.2 494.6,1073.1 495.4,1072.9 496.1,1072.7 496.9,1072.6 497.6,1072.4 498.4,1072.3 499.1,1072.2 499.9,1072.1 500.6,1072.0 501.4,1071.9 502.1,1071.8 502.9,1071.7 503.6,1071.7 504.4,1071.7 505.1,1071.7 505.9,1071.7 506.6,1071.7 507.4,1071.7 508.1,1071.8 508.9,1071.8 509.6,1071.9 510.4,1072.0 511.1,1072.1 511.9,1072.2 512.6,1072.3 513.4,1072.5 514.1,1072.6 514.9,1072.8 515.6,1072.9 516.4,1073.1 517.1,1073.2 517.9,1073.4 518.6,1073.5 519.4,1073.7 520.1,1073.8 520.9,1074.0 521.6,1074.1 522.4,1074.2 523.1,1074.4 523.9,1074.5 524.6,1074.6 525.4,1074.7 526.1,1074.8 526.9,1074.8 527.6,1074.9 528.4,1074.9 529.1,1075.0 529.9,1075.0 530.6,1075.0 531.4,1075.0 532.1,1075.0 532.9,1075.0 533.6,1074.9 534.4,1074.9 535.1,1074.8 535.9,1074.8 536.6,1074.7 537.4,1074.6 538.1,1074.5 538.9,1074.4 539.6,1074.3 540.4,1074.2 541.1,1074.1 541.9,1074.0 542.6,1073.9 543.4,1073.8 544.1,1073.7 544.9,1073.7 545.6,1073.6 546.4,1073.5 547.1,1073.4 547.9,1073.3 548.6,1073.3 549.4,1073.2 550.1,1073.2 550.9,1073.2 551.6,1073.1 552.4,1073.1 553.1,1073.1 553.9,1073.1 554.6,1073.2 555.4,1073.2 556.1,1073.2 556.9,1073.3 557.6,1073.3 558.4,1073.4 559.1,1073.5 559.9,1073.5 560.6,1073.6 561.4,1073.7 562.1,1073.8 562.9,1073.9 563.6,1074.0 564.4,1074.1 565.1,1074.2 565.9,1074.3 566.6,1074.4 567.4,1074.5 568.1,1074.7 568.9,1074.8 569.6,1074.8 570.4,1074.9 571.1,1075.0 571.9,1075.1 572.6,1075.2 573.4,1075.2 574.1,1075.3 574.9,1075.4 575.6,1075.4 576.4,1075.4 577.1,1075.5 577.9,1075.5 578.6,1075.5 579.4,1075.5 580.1,1075.5 580.9,1075.5 581.6,1075.5 582.4,1075.4 583.1,1075.4 583.9,1075.4 584.6,1075.3 585.4,1075.3 586.1,1075.2 586.9,1075.2 587.6,1075.1 588.4,1075.0 589.1,1075.0 589.9,1074.9 590.6,1074.9 591.4,1074.8 592.1,1074.7 592.9,1074.7 593.6,1074.6 594.4,1074.6 595.1,1074.5 595.9,1074.5 596.6,1074.5 597.4,1074.4 598.1,1074.4 598.9,1074.4 599.6,1074.4 600.4,1074.4 601.1,1074.4 601.9,1074.4 602.6,1074.4 603.4,1074.4 604.1,1074.5 604.9,1074.5 605.6,1074.6 606.4,1074.6 607.1,1074.7 607.9,1074.7 608.6,1074.8 609.4,1074.8 610.1,1074.9 610.9,1075.0 611.6,1075.1 612.4,1075.1 613.1,1075.2 613.9,1075.3 614.6,1075.4 615.4,1075.4 616.1,1075.5 616.9,1075.6 617.6,1075.6 618.4,1075.7 619.1,1075.8 619.9,1075.8 620.6,1075.9 621.4,1075.9 622.1,1076.0 622.9,1076.0 623.6,1076.0 624.4,1076.1 625.1,1076.1 625.9,1076.1 626.6,1076.1 627.4,1076.1 628.1,1076.1 628.9,1076.1 629.6,1076.1 630.4,1076.1 631.1,1076.1 631.9,1076.1 632.6,1076.0 633.4,1076.0 634.1,1076.0 634.9,1075.9 635.6,1075.9 636.4,1075.9 637.1,1075.8 637.9,1075.8 638.6,1075.8 639.4,1075.7 640.1,1075.7 640.9,1075.7 641.6,1075.6 642.4,1075.6 643.1,1075.6 643.9,1075.5 644.6,1075.5 645.4,1075.5 646.1,1075.5 646.9,1075.5 647.6,1075.5 648.4,1075.5 649.1,1075.5 649.9,1075.5 650.6,1075.5 651.4,1075.5 652.1,1075.6 652.9,1075.6 653.6,1075.6 654.4,1075.7 655.1,1075.7 655.9,1075.7 656.6,1075.8 657.4,1075.8 658.1,1075.9 658.9,1075.9 659.6,1076.0 660.4,1076.0 661.1,1076.1 661.9,1076.1 662.6,1076.2 663.4,1076.2 664.1,1076.3 664.9,1076.3 665.6,1076.4 666.4,1076.4 667.1,1076.5 667.9,1076.5 668.6,1076.6 669.4,1076.6 670.1,1076.6 670.9,1076.7 671.6,1076.7 672.4,1076.7 673.1,1076.7 673.9,1076.7 674.6,1076.8 675.4,1076.8 676.1,1076.8 676.9,1076.8 677.6,1076.8 678.4,1076.8 679.1,1076.7 679.9,1076.7 680.6,1076.7 681.4,1076.7 682.1,1076.7 682.9,1076.7 683.6,1076.6 684.4,1076.6 685.1,1076.6 685.9,1076.6 686.6,1076.5 687.4,1076.5 688.1,1076.5 688.9,1076.5 689.6,1076.5 690.4,1076.4 691.1,1076.4 691.9,1076.4 692.6,1076.4 693.4,1076.4 694.1,1076.4 694.9,1076.4 695.6,1076.4 696.4,1076.4 697.1,1076.4 697.9,1076.4 698.6,1076.4 699.4,1076.4 700.1,1076.4 700.9,1076.5 701.6,1076.5 702.4,1076.5 703.1,1076.5 703.9,1076.6 704.6,1076.6 705.4,1076.6 706.1,1076.7 706.9,1076.7 707.6,1076.8 708.4,1076.8 709.1,1076.8 709.9,1076.9 710.6,1076.9 711.4,1077.0 712.1,1077.0 712.9,1077.0 713.6,1077.1 714.4,1077.1 715.1,1077.2 715.9,1077.2" fill="none" stroke="#000" stroke-width="4.6" stroke-linejoin="round" stroke-linecap="butt"/><text x="698" y="1049.5" font-size="39.5" text-anchor="end" fill="#000">10.0 kOe</text>
<marker id="m8" markerWidth="20" markerHeight="20" refX="10" refY="10" markerUnits="userSpaceOnUse"><circle cx="10" cy="10" r="7.6" fill="#fff" stroke="#000080" stroke-width="1.5"/></marker><polyline points="134.6,1176.7 140.4,1176.7 146.4,1176.2 152.4,1174.0 157.7,1150.0 163.7,1128.0 168.0,1111.0 173.0,1105.5 179.2,1104.0 186.3,1118.0 192.0,1136.5 197.6,1155.0 203.2,1162.3 208.8,1157.3 214.4,1142.8 220.1,1130.4 225.7,1123.9 231.3,1123.4 236.9,1132.3 242.5,1141.7 248.2,1151.4 253.8,1154.7 259.4,1156.1 265.0,1150.6 270.6,1143.6 276.3,1137.1 281.9,1135.9 287.5,1136.9 293.1,1141.9 298.7,1147.8 304.4,1152.5 310.0,1155.6 315.6,1154.3 321.2,1150.7 326.8,1145.9 332.5,1144.8 338.1,1144.1 343.7,1147.0 349.3,1149.1 354.9,1151.9 360.6,1152.4 366.2,1151.6 371.8,1150.9 377.4,1149.3 383.0,1150.4 388.7,1150.2 394.3,1149.7 399.9,1150.2 405.5,1151.6 411.1,1152.7 416.8,1152.6 422.4,1153.5 428.0,1151.2 433.6,1151.4 439.2,1151.6 444.9,1150.7 450.5,1152.0 456.1,1152.9 461.7,1152.8 467.3,1154.7 473.0,1153.4 478.6,1153.3 484.2,1153.6 489.8,1152.6 495.4,1153.1 501.1,1152.6 506.7,1152.7 512.3,1154.5 517.9,1154.0 523.5,1153.9 529.2,1154.2 534.8,1154.4 540.4,1153.7 546.0,1154.9 551.6,1155.0 557.3,1155.8 562.9,1154.0 568.5,1154.9 574.1,1155.9 579.7,1156.4 585.4,1155.1 591.0,1156.5 596.6,1154.6 602.2,1155.7 607.8,1154.7 613.5,1155.2 619.1,1156.7 624.7,1156.3 630.3,1157.5 635.9,1157.7 641.6,1156.6 647.2,1156.8 652.8,1156.4 658.4,1156.0 664.0,1156.7 669.7,1157.7 675.3,1157.1 680.9,1158.2 686.5,1156.9 692.1,1156.9 697.8,1158.8 703.4,1157.1 709.0,1156.9 716.5,1157.8" fill="none" stroke="none" marker-start="url(#m8)" marker-mid="url(#m8)" marker-end="url(#m8)"/><polyline points="203.2,1163.3 203.9,1163.1 204.7,1162.7 205.4,1162.0 206.2,1161.2 206.9,1160.3 207.7,1159.1 208.4,1157.8 209.2,1156.4 209.9,1154.8 210.7,1153.1 211.4,1151.4 212.2,1149.6 212.9,1147.7 213.7,1145.8 214.4,1143.8 215.2,1141.9 215.9,1139.9 216.7,1138.0 217.4,1136.2 218.2,1134.4 218.9,1132.7 219.7,1131.1 220.4,1129.6 221.2,1128.2 221.9,1126.9 222.7,1125.8 223.4,1124.8 224.2,1124.0 224.9,1123.3 225.7,1122.8 226.4,1122.5 227.2,1122.3 227.9,1122.3 228.7,1122.4 229.4,1122.7 230.2,1123.1 230.9,1123.6 231.7,1124.3 232.4,1125.0 233.2,1125.8 233.9,1126.8 234.7,1127.8 235.4,1128.9 236.2,1130.1 236.9,1131.3 237.7,1132.6 238.4,1133.9 239.2,1135.2 239.9,1136.6 240.7,1138.0 241.4,1139.4 242.2,1140.8 242.9,1142.2 243.7,1143.5 244.4,1144.8 245.2,1146.1 245.9,1147.3 246.7,1148.5 247.4,1149.6 248.2,1150.6 248.9,1151.6 249.7,1152.5 250.4,1153.3 251.2,1154.0 251.9,1154.6 252.7,1155.1 253.4,1155.6 254.2,1155.9 254.9,1156.1 255.7,1156.3 256.4,1156.3 257.2,1156.3 257.9,1156.1 258.7,1155.9 259.4,1155.5 260.2,1155.1 260.9,1154.6 261.7,1154.0 262.4,1153.3 263.2,1152.6 263.9,1151.8 264.7,1150.9 265.4,1150.1 266.2,1149.1 266.9,1148.2 267.7,1147.2 268.4,1146.2 269.2,1145.3 269.9,1144.3 270.7,1143.3 271.4,1142.4 272.2,1141.5 272.9,1140.6 273.7,1139.8 274.4,1139.0 275.2,1138.3 275.9,1137.6 276.7,1137.0 277.4,1136.5 278.2,1136.0 278.9,1135.6 279.7,1135.3 280.4,1135.1 281.2,1134.9 281.9,1134.9 282.7,1134.9 283.4,1135.0 284.2,1135.1 284.9,1135.3 285.7,1135.6 286.4,1136.0 287.2,1136.4 287.9,1136.9 288.7,1137.4 289.4,1138.0 290.2,1138.6 290.9,1139.3 291.7,1140.0 292.4,1140.7 293.2,1141.4 293.9,1142.2 294.7,1143.0 295.4,1143.8 296.2,1144.6 296.9,1145.5 297.7,1146.3 298.4,1147.1 299.2,1147.8 299.9,1148.6 300.7,1149.3 301.4,1150.0 302.2,1150.7 302.9,1151.3 303.7,1151.9 304.4,1152.5 305.2,1153.0 305.9,1153.4 306.7,1153.8 307.4,1154.2 308.2,1154.4 308.9,1154.7 309.7,1154.8 310.4,1154.9 311.2,1155.0 311.9,1155.0 312.7,1154.9 313.4,1154.8 314.2,1154.6 314.9,1154.4 315.7,1154.0 316.4,1153.7 317.2,1153.3 317.9,1152.8 318.7,1152.3 319.4,1151.8 320.2,1151.3 320.9,1150.8 321.7,1150.2 322.4,1149.7 323.2,1149.1 323.9,1148.6 324.7,1148.1 325.4,1147.6 326.2,1147.1 326.9,1146.7 327.7,1146.3 328.4,1145.9 329.2,1145.6 329.9,1145.3 330.7,1145.1 331.4,1144.9 332.2,1144.7 332.9,1144.6 333.7,1144.5 334.4,1144.5 335.2,1144.5 335.9,1144.5 336.7,1144.6 337.4,1144.7 338.2,1144.9 338.9,1145.1 339.7,1145.3 340.4,1145.5 341.2,1145.8 341.9,1146.1 342.7,1146.4 343.4,1146.7 344.2,1147.0 344.9,1147.3 345.7,1147.7 346.4,1148.0 347.2,1148.4 347.9,1148.7 348.7,1149.0 349.4,1149.4 350.2,1149.7 350.9,1150.0 351.7,1150.3 352.4,1150.6 353.2,1150.8 353.9,1151.0 354.7,1151.3 355.4,1151.5 356.2,1151.6 356.9,1151.8 357.7,1151.9 358.4,1152.0 359.2,1152.1 359.9,1152.2 360.7,1152.2 361.4,1152.2 362.2,1152.2 362.9,1152.2 363.7,1152.1 364.4,1152.1 365.2,1152.0 365.9,1151.9 366.7,1151.8 367.4,1151.7 368.2,1151.6 368.9,1151.4 369.7,1151.3 370.4,1151.2 371.2,1151.0 371.9,1150.9 372.7,1150.7 373.4,1150.6 374.2,1150.5 374.9,1150.3 375.7,1150.2 376.4,1150.1 377.2,1149.9 377.9,1149.8 378.7,1149.7 379.4,1149.7 380.2,1149.6 380.9,1149.5 381.7,1149.4 382.4,1149.4 383.2,1149.4 383.9,1149.3 384.7,1149.3 385.4,1149.3 386.2,1149.3 386.9,1149.3 387.7,1149.3 388.4,1149.4 389.2,1149.4 389.9,1149.4 390.7,1149.5 391.4,1149.6 392.2,1149.6 392.9,1149.7 393.7,1149.8 394.4,1149.9 395.2,1150.0 395.9,1150.1 396.7,1150.3 397.4,1150.4 398.2,1150.5 398.9,1150.6 399.7,1150.8 400.4,1150.9 401.2,1151.0 401.9,1151.1 402.7,1151.3 403.4,1151.4 404.2,1151.5 404.9,1151.6 405.7,1151.8 406.4,1151.9 407.2,1152.0 407.9,1152.1 408.7,1152.2 409.4,1152.3 410.2,1152.3 410.9,1152.4 411.7,1152.5 412.4,1152.5 413.2,1152.6 413.9,1152.6 414.7,1152.6 415.4,1152.7 416.2,1152.7 416.9,1152.7 417.7,1152.7 418.4,1152.7 419.2,1152.7 419.9,1152.7 420.7,1152.6 421.4,1152.6 422.2,1152.6 422.9,1152.5 423.7,1152.5 424.4,1152.4 425.2,1152.4 425.9,1152.3 426.7,1152.3 427.4,1152.2 428.2,1152.1 428.9,1152.1 429.7,1152.0 430.4,1152.0 431.2,1151.9 431.9,1151.9 432.7,1151.8 433.4,1151.8 434.2,1151.7 434.9,1151.7 435.7,1151.6 436.4,1151.6 437.2,1151.6 437.9,1151.6 438.7,1151.6 439.4,1151.6 440.2,1151.5 440.9,1151.6 441.7,1151.6 442.4,1151.6 443.2,1151.6 443.9,1151.6 444.7,1151.7 445.4,1151.7 446.2,1151.7 446.9,1151.8 447.7,1151.9 448.4,1151.9 449.2,1152.0 449.9,1152.0 450.7,1152.1 451.4,1152.2 452.2,1152.3 452.9,1152.3 453.7,1152.4 454.4,1152.5 455.2,1152.6 455.9,1152.7 456.7,1152.8 457.4,1152.8 458.2,1152.9 458.9,1153.0 459.7,1153.1 460.4,1153.1 461.2,1153.2 461.9,1153.3 462.7,1153.3 463.4,1153.4 464.2,1153.5 464.9,1153.5 465.7,1153.6 466.4,1153.6 467.2,1153.6 467.9,1153.7 468.7,1153.7 469.4,1153.7 470.2,1153.7 470.9,1153.7 471.7,1153.7 472.4,1153.7 473.2,1153.7 473.9,1153.7 474.7,1153.7 475.4,1153.7 476.2,1153.7 476.9,1153.7 477.7,1153.6 478.4,1153.6 479.2,1153.6 479.9,1153.5 480.7,1153.5 481.4,1153.5 482.2,1153.4 482.9,1153.4 483.7,1153.4 484.4,1153.3 485.2,1153.3 485.9,1153.3 486.7,1153.3 487.4,1153.2 488.2,1153.2 488.9,1153.2 489.7,1153.2 490.4,1153.1 491.2,1153.1 491.9,1153.1 492.7,1153.1 493.4,1153.1 494.2,1153.1 494.9,1153.1 495.7,1153.1 496.4,1153.2 497.2,1153.2 497.9,1153.2 498.7,1153.2 499.4,1153.3 500.2,1153.3 500.9,1153.3 501.7,1153.4 502.4,1153.4 503.2,1153.5 503.9,1153.5 504.7,1153.6 505.4,1153.6 506.2,1153.7 506.9,1153.7 507.7,1153.8 508.4,1153.8 509.2,1153.9 509.9,1153.9 510.7,1154.0 511.4,1154.1 512.2,1154.1 513.0,1154.2 513.7,1154.2 514.5,1154.3 515.2,1154.3 516.0,1154.4 516.7,1154.4 517.5,1154.4 518.2,1154.5 519.0,1154.5 519.7,1154.5 520.5,1154.6 521.2,1154.6 522.0,1154.6 522.7,1154.6 523.5,1154.7 524.2,1154.7 525.0,1154.7 525.7,1154.7 526.5,1154.7 527.2,1154.7 528.0,1154.7 528.7,1154.7 529.5,1154.7 530.2,1154.7 531.0,1154.7 531.7,1154.7 532.5,1154.6 533.2,1154.6 534.0,1154.6 534.7,1154.6 535.5,1154.6 536.2,1154.6 537.0,1154.6 537.7,1154.5 538.5,1154.5 539.2,1154.5 540.0,1154.5 540.7,1154.5 541.5,1154.5 542.2,1154.5 543.0,1154.5 543.7,1154.4 544.5,1154.4 545.2,1154.4 546.0,1154.4 546.7,1154.4 547.5,1154.4 548.2,1154.5 549.0,1154.5 549.7,1154.5 550.5,1154.5 551.2,1154.5 552.0,1154.5 552.7,1154.5 553.5,1154.6 554.2,1154.6 555.0,1154.6 555.7,1154.6 556.5,1154.7 557.2,1154.7 558.0,1154.7 558.7,1154.8 559.5,1154.8 560.2,1154.9 561.0,1154.9 561.7,1154.9 562.5,1155.0 563.2,1155.0 564.0,1155.1 564.7,1155.1 565.5,1155.1 566.2,1155.2 567.0,1155.2 567.7,1155.3 568.5,1155.3 569.2,1155.3 570.0,1155.4 570.7,1155.4 571.5,1155.4 572.2,1155.5 573.0,1155.5 573.7,1155.5 574.5,1155.5 575.2,1155.6 576.0,1155.6 576.7,1155.6 577.5,1155.6 578.2,1155.6 579.0,1155.7 579.7,1155.7 580.5,1155.7 581.2,1155.7 582.0,1155.7 582.7,1155.7 583.5,1155.7 584.2,1155.7 585.0,1155.7 585.7,1155.7 586.5,1155.7 587.2,1155.7 588.0,1155.7 588.7,1155.7 589.5,1155.7 590.2,1155.7 591.0,1155.6 591.7,1155.6 592.5,1155.6 593.2,1155.6 594.0,1155.6 594.7,1155.6 595.5,1155.6 596.2,1155.6 597.0,1155.6 597.7,1155.6 598.5,1155.6 599.2,1155.6 600.0,1155.6 600.7,1155.6 601.5,1155.6 602.2,1155.6 603.0,1155.7 603.7,1155.7 604.5,1155.7 605.2,1155.7 606.0,1155.7 606.7,1155.7 607.5,1155.8 608.2,1155.8 609.0,1155.8 609.7,1155.8 610.5,1155.8 611.2,1155.9 612.0,1155.9 612.7,1155.9 613.5,1156.0 614.2,1156.0 615.0,1156.0 615.7,1156.1 616.5,1156.1 617.2,1156.1 618.0,1156.2 618.7,1156.2 619.5,1156.2 620.2,1156.3 621.0,1156.3 621.7,1156.3 622.5,1156.4 623.2,1156.4 624.0,1156.4 624.7,1156.4 625.5,1156.5 626.2,1156.5 627.0,1156.5 627.7,1156.5 628.5,1156.6 629.2,1156.6 630.0,1156.6 630.7,1156.6 631.5,1156.6 632.2,1156.7 633.0,1156.7 633.7,1156.7 634.5,1156.7 635.2,1156.7 636.0,1156.7 636.7,1156.7 637.5,1156.7 638.2,1156.7 639.0,1156.7 639.7,1156.7 640.5,1156.7 641.2,1156.7 642.0,1156.7 642.7,1156.7 643.5,1156.7 644.2,1156.7 645.0,1156.7 645.7,1156.7 646.5,1156.7 647.2,1156.7 648.0,1156.7 648.7,1156.7 649.5,1156.7 650.2,1156.7 651.0,1156.7 651.7,1156.7 652.5,1156.7 653.2,1156.7 654.0,1156.7 654.7,1156.7 655.5,1156.7 656.2,1156.7 657.0,1156.7 657.7,1156.7 658.5,1156.7 659.2,1156.8 660.0,1156.8 660.7,1156.8 661.5,1156.8 662.2,1156.8 663.0,1156.9 663.7,1156.9 664.5,1156.9 665.2,1156.9 666.0,1157.0 666.7,1157.0 667.5,1157.0 668.2,1157.0 669.0,1157.1 669.7,1157.1 670.5,1157.1 671.2,1157.2 672.0,1157.2 672.7,1157.2 673.5,1157.2 674.2,1157.3 675.0,1157.3 675.7,1157.3 676.5,1157.4 677.2,1157.4 678.0,1157.4 678.7,1157.5 679.5,1157.5 680.2,1157.5 681.0,1157.5 681.7,1157.6 682.5,1157.6 683.2,1157.6 684.0,1157.6 684.7,1157.6 685.5,1157.6 686.2,1157.7 687.0,1157.7 687.7,1157.7 688.5,1157.7 689.2,1157.7 690.0,1157.7 690.7,1157.7 691.5,1157.7 692.2,1157.7 693.0,1157.7 693.7,1157.7 694.5,1157.7 695.2,1157.7 696.0,1157.7 696.7,1157.7 697.5,1157.7 698.2,1157.7 699.0,1157.7 699.7,1157.7 700.5,1157.7 701.2,1157.7 702.0,1157.7 702.7,1157.7 703.5,1157.7 704.2,1157.7 705.0,1157.7 705.7,1157.7 706.5,1157.7 707.2,1157.7 708.0,1157.7 708.7,1157.7 709.5,1157.7 710.2,1157.7 711.0,1157.7 711.7,1157.7 712.5,1157.7 713.2,1157.7 714.0,1157.8 714.7,1157.8 715.5,1157.8 716.2,1157.8" fill="none" stroke="#000" stroke-width="4.6" stroke-linejoin="round" stroke-linecap="butt"/><text x="699.8" y="1131" font-size="39.5" text-anchor="end" fill="#000">8.0 kOe</text>
<marker id="m9" markerWidth="20" markerHeight="20" refX="10" refY="10" markerUnits="userSpaceOnUse"><circle cx="10" cy="10" r="7.6" fill="#fff" stroke="#ff00ff" stroke-width="1.5"/></marker><polyline points="134.6,1258.8 140.4,1258.8 146.4,1258.3 152.4,1256.2 157.7,1230.8 163.1,1210.8 167.7,1192.1 173.7,1184.7 180.4,1186.7 185.8,1199.4 191.8,1218.1 196.4,1232.1 203.2,1243.9 208.8,1239.0 214.4,1227.0 220.1,1215.9 225.7,1205.7 231.3,1206.0 236.9,1210.3 242.5,1219.9 248.2,1229.4 253.8,1234.3 259.4,1236.8 265.0,1233.3 270.6,1226.9 276.3,1223.3 281.9,1219.4 287.5,1220.0 293.1,1221.3 298.7,1227.1 304.4,1230.1 310.0,1233.2 315.6,1234.1 321.2,1232.5 326.8,1231.0 332.5,1227.8 338.1,1226.4 343.7,1227.9 349.3,1229.4 354.9,1231.1 360.6,1232.9 366.2,1235.0 371.8,1234.0 377.4,1231.8 383.0,1229.7 388.7,1228.7 394.3,1229.4 399.9,1230.3 405.5,1231.9 411.1,1234.2 416.8,1233.9 422.4,1233.0 428.0,1232.7 433.6,1233.0 439.2,1233.1 444.9,1231.8 450.5,1234.2 456.1,1234.0 461.7,1236.0 467.3,1236.5 473.0,1235.3 478.6,1236.0 484.2,1235.6 489.8,1234.6 495.4,1236.2 501.1,1235.7 506.7,1236.8 512.3,1235.4 517.9,1236.0 523.5,1237.7 529.2,1236.4 534.8,1236.4 540.4,1236.1 546.0,1237.2 551.6,1236.0 557.3,1235.8 562.9,1236.0 568.5,1238.1 574.1,1236.5 579.7,1236.9 585.4,1237.3 591.0,1237.7 596.6,1238.2 602.2,1238.4 607.8,1237.4 613.5,1238.0 619.1,1237.4 624.7,1238.1 630.3,1237.3 635.9,1239.0 641.6,1238.5 647.2,1238.7 652.8,1239.1 658.4,1239.0 664.0,1239.4 669.7,1239.0 675.3,1237.9 680.9,1238.6 686.5,1239.4 692.1,1238.4 697.8,1238.9 703.4,1238.9 709.0,1238.3 716.5,1239.1" fill="none" stroke="none" marker-start="url(#m9)" marker-mid="url(#m9)" marker-end="url(#m9)"/><polyline points="203.2,1244.0 203.9,1243.8 204.7,1243.4 205.4,1242.9 206.2,1242.2 206.9,1241.4 207.7,1240.4 208.4,1239.3 209.2,1238.0 209.9,1236.7 210.7,1235.3 211.4,1233.8 212.2,1232.2 212.9,1230.6 213.7,1228.9 214.4,1227.2 215.2,1225.5 215.9,1223.8 216.7,1222.1 217.4,1220.5 218.2,1218.8 218.9,1217.3 219.7,1215.7 220.4,1214.3 221.2,1212.9 221.9,1211.6 222.7,1210.4 223.4,1209.3 224.2,1208.3 224.9,1207.5 225.7,1206.7 226.4,1206.1 227.2,1205.5 227.9,1205.2 228.7,1204.9 229.4,1204.8 230.2,1204.7 230.9,1204.8 231.7,1205.1 232.4,1205.4 233.2,1205.9 233.9,1206.5 234.7,1207.2 235.4,1208.0 236.2,1208.9 236.9,1209.9 237.7,1211.0 238.4,1212.1 239.2,1213.4 239.9,1214.6 240.7,1215.9 241.4,1217.2 242.2,1218.6 242.9,1219.9 243.7,1221.3 244.4,1222.6 245.2,1224.0 245.9,1225.2 246.7,1226.5 247.4,1227.7 248.2,1228.8 248.9,1229.9 249.7,1230.9 250.4,1231.9 251.2,1232.7 251.9,1233.5 252.7,1234.2 253.4,1234.8 254.2,1235.3 254.9,1235.7 255.7,1236.0 256.4,1236.2 257.2,1236.3 257.9,1236.3 258.7,1236.3 259.4,1236.1 260.2,1235.9 260.9,1235.6 261.7,1235.2 262.4,1234.8 263.2,1234.3 263.9,1233.8 264.7,1233.2 265.4,1232.6 266.2,1232.0 266.9,1231.3 267.7,1230.6 268.4,1229.8 269.2,1229.1 269.9,1228.3 270.7,1227.6 271.4,1226.8 272.2,1226.1 272.9,1225.4 273.7,1224.7 274.4,1224.0 275.2,1223.4 275.9,1222.8 276.7,1222.2 277.4,1221.7 278.2,1221.2 278.9,1220.7 279.7,1220.3 280.4,1220.0 281.2,1219.7 281.9,1219.5 282.7,1219.3 283.4,1219.2 284.2,1219.1 284.9,1219.1 285.7,1219.2 286.4,1219.3 287.2,1219.4 287.9,1219.6 288.7,1219.9 289.4,1220.2 290.2,1220.5 290.9,1220.9 291.7,1221.3 292.4,1221.8 293.2,1222.3 293.9,1222.8 294.7,1223.4 295.4,1224.0 296.2,1224.6 296.9,1225.2 297.7,1225.8 298.4,1226.4 299.2,1227.1 299.9,1227.7 300.7,1228.3 301.4,1228.9 302.2,1229.5 302.9,1230.1 303.7,1230.7 304.4,1231.2 305.2,1231.7 305.9,1232.2 306.7,1232.7 307.4,1233.1 308.2,1233.5 308.9,1233.8 309.7,1234.1 310.4,1234.4 311.2,1234.6 311.9,1234.7 312.7,1234.9 313.4,1235.0 314.2,1235.0 314.9,1235.0 315.7,1235.0 316.4,1234.9 317.2,1234.7 317.9,1234.6 318.7,1234.4 319.4,1234.1 320.2,1233.9 320.9,1233.6 321.7,1233.3 322.4,1233.0 323.2,1232.6 323.9,1232.3 324.7,1231.9 325.4,1231.5 326.2,1231.2 326.9,1230.8 327.7,1230.4 328.4,1230.1 329.2,1229.7 329.9,1229.4 330.7,1229.1 331.4,1228.8 332.2,1228.5 332.9,1228.2 333.7,1228.0 334.4,1227.8 335.2,1227.6 335.9,1227.4 336.7,1227.3 337.4,1227.2 338.2,1227.1 338.9,1227.0 339.7,1227.0 340.4,1227.0 341.2,1227.0 341.9,1227.0 342.7,1227.1 343.4,1227.1 344.2,1227.3 344.9,1227.4 345.7,1227.6 346.4,1227.8 347.2,1228.0 347.9,1228.3 348.7,1228.6 349.4,1228.9 350.2,1229.2 350.9,1229.5 351.7,1229.8 352.4,1230.1 353.2,1230.5 353.9,1230.8 354.7,1231.2 355.4,1231.5 356.2,1231.8 356.9,1232.2 357.7,1232.5 358.4,1232.8 359.2,1233.0 359.9,1233.3 360.7,1233.5 361.4,1233.8 362.2,1233.9 362.9,1234.1 363.7,1234.2 364.4,1234.3 365.2,1234.4 365.9,1234.5 366.7,1234.5 367.4,1234.5 368.2,1234.5 368.9,1234.4 369.7,1234.3 370.4,1234.2 371.2,1234.0 371.9,1233.8 372.7,1233.7 373.4,1233.4 374.2,1233.2 374.9,1233.0 375.7,1232.7 376.4,1232.4 377.2,1232.1 377.9,1231.9 378.7,1231.6 379.4,1231.3 380.2,1231.0 380.9,1230.8 381.7,1230.5 382.4,1230.3 383.2,1230.0 383.9,1229.8 384.7,1229.6 385.4,1229.5 386.2,1229.3 386.9,1229.2 387.7,1229.1 388.4,1229.0 389.2,1229.0 389.9,1229.0 390.7,1229.0 391.4,1229.0 392.2,1229.1 392.9,1229.2 393.7,1229.3 394.4,1229.5 395.2,1229.6 395.9,1229.8 396.7,1230.0 397.4,1230.2 398.2,1230.5 398.9,1230.7 399.7,1231.0 400.4,1231.3 401.2,1231.5 401.9,1231.8 402.7,1232.1 403.4,1232.3 404.2,1232.6 404.9,1232.8 405.7,1233.1 406.4,1233.3 407.2,1233.5 407.9,1233.7 408.7,1233.9 409.4,1234.0 410.2,1234.2 410.9,1234.3 411.7,1234.4 412.4,1234.5 413.2,1234.5 413.9,1234.6 414.7,1234.6 415.4,1234.6 416.2,1234.6 416.9,1234.5 417.7,1234.5 418.4,1234.4 419.2,1234.4 419.9,1234.3 420.7,1234.2 421.4,1234.1 422.2,1234.0 422.9,1233.9 423.7,1233.8 424.4,1233.7 425.2,1233.6 425.9,1233.5 426.7,1233.4 427.4,1233.3 428.2,1233.2 428.9,1233.1 429.7,1233.0 430.4,1232.9 431.2,1232.8 431.9,1232.7 432.7,1232.7 433.4,1232.6 434.2,1232.5 434.9,1232.5 435.7,1232.5 436.4,1232.4 437.2,1232.4 437.9,1232.4 438.7,1232.4 439.4,1232.4 440.2,1232.4 440.9,1232.5 441.7,1232.5 442.4,1232.6 443.2,1232.6 443.9,1232.7 444.7,1232.8 445.4,1232.9 446.2,1232.9 446.9,1233.0 447.7,1233.1 448.4,1233.2 449.2,1233.4 449.9,1233.5 450.7,1233.6 451.4,1233.7 452.2,1233.8 452.9,1233.9 453.7,1234.1 454.4,1234.2 455.2,1234.3 455.9,1234.4 456.7,1234.5 457.4,1234.6 458.2,1234.7 458.9,1234.8 459.7,1234.9 460.4,1235.0 461.2,1235.1 461.9,1235.2 462.7,1235.3 463.4,1235.4 464.2,1235.4 464.9,1235.5 465.7,1235.5 466.4,1235.6 467.2,1235.6 467.9,1235.7 468.7,1235.7 469.4,1235.7 470.2,1235.8 470.9,1235.8 471.7,1235.8 472.4,1235.8 473.2,1235.8 473.9,1235.8 474.7,1235.8 475.4,1235.7 476.2,1235.7 476.9,1235.7 477.7,1235.7 478.4,1235.7 479.2,1235.6 479.9,1235.6 480.7,1235.6 481.4,1235.5 482.2,1235.5 482.9,1235.5 483.7,1235.4 484.4,1235.4 485.2,1235.4 485.9,1235.3 486.7,1235.3 487.4,1235.3 488.2,1235.3 488.9,1235.2 489.7,1235.2 490.4,1235.2 491.2,1235.2 491.9,1235.2 492.7,1235.2 493.4,1235.2 494.2,1235.2 494.9,1235.2 495.7,1235.2 496.4,1235.2 497.2,1235.2 497.9,1235.3 498.7,1235.3 499.4,1235.3 500.2,1235.4 500.9,1235.4 501.7,1235.4 502.4,1235.5 503.2,1235.5 503.9,1235.6 504.7,1235.6 505.4,1235.7 506.2,1235.7 506.9,1235.8 507.7,1235.8 508.4,1235.9 509.2,1236.0 509.9,1236.0 510.7,1236.1 511.4,1236.1 512.2,1236.2 513.0,1236.3 513.7,1236.3 514.5,1236.4 515.2,1236.4 516.0,1236.5 516.7,1236.5 517.5,1236.6 518.2,1236.6 519.0,1236.6 519.7,1236.7 520.5,1236.7 521.2,1236.7 522.0,1236.8 522.7,1236.8 523.5,1236.8 524.2,1236.8 525.0,1236.8 525.7,1236.8 526.5,1236.8 527.2,1236.8 528.0,1236.8 528.7,1236.8 529.5,1236.8 530.2,1236.8 531.0,1236.8 531.7,1236.8 532.5,1236.8 533.2,1236.8 534.0,1236.7 534.7,1236.7 535.5,1236.7 536.2,1236.7 537.0,1236.7 537.7,1236.6 538.5,1236.6 539.2,1236.6 540.0,1236.6 540.7,1236.6 541.5,1236.5 542.2,1236.5 543.0,1236.5 543.7,1236.5 544.5,1236.5 545.2,1236.5 546.0,1236.4 546.7,1236.4 547.5,1236.4 548.2,1236.4 549.0,1236.4 549.7,1236.4 550.5,1236.4 551.2,1236.5 552.0,1236.5 552.7,1236.5 553.5,1236.5 554.2,1236.5 555.0,1236.5 555.7,1236.6 556.5,1236.6 557.2,1236.6 558.0,1236.6 558.7,1236.7 559.5,1236.7 560.2,1236.8 561.0,1236.8 561.7,1236.8 562.5,1236.9 563.2,1236.9 564.0,1237.0 564.7,1237.0 565.5,1237.0 566.2,1237.1 567.0,1237.1 567.7,1237.2 568.5,1237.2 569.2,1237.2 570.0,1237.3 570.7,1237.3 571.5,1237.4 572.2,1237.4 573.0,1237.4 573.7,1237.5 574.5,1237.5 575.2,1237.5 576.0,1237.5 576.7,1237.5 577.5,1237.6 578.2,1237.6 579.0,1237.6 579.7,1237.6 580.5,1237.6 581.2,1237.6 582.0,1237.6 582.7,1237.6 583.5,1237.6 584.2,1237.6 585.0,1237.6 585.7,1237.6 586.5,1237.6 587.2,1237.6 588.0,1237.6 588.7,1237.6 589.5,1237.6 590.2,1237.6 591.0,1237.5 591.7,1237.5 592.5,1237.5 593.2,1237.5 594.0,1237.5 594.7,1237.5 595.5,1237.5 596.2,1237.4 597.0,1237.4 597.7,1237.4 598.5,1237.4 599.2,1237.4 600.0,1237.4 600.7,1237.4 601.5,1237.4 602.2,1237.4 603.0,1237.4 603.7,1237.4 604.5,1237.4 605.2,1237.4 606.0,1237.4 606.7,1237.4 607.5,1237.4 608.2,1237.4 609.0,1237.5 609.7,1237.5 610.5,1237.5 611.2,1237.5 612.0,1237.5 612.7,1237.6 613.5,1237.6 614.2,1237.6 615.0,1237.7 615.7,1237.7 616.5,1237.7 617.2,1237.8 618.0,1237.8 618.7,1237.8 619.5,1237.9 620.2,1237.9 621.0,1237.9 621.7,1238.0 622.5,1238.0 623.2,1238.0 624.0,1238.1 624.7,1238.1 625.5,1238.1 626.2,1238.2 627.0,1238.2 627.7,1238.2 628.5,1238.3 629.2,1238.3 630.0,1238.3 630.7,1238.3 631.5,1238.3 632.2,1238.4 633.0,1238.4 633.7,1238.4 634.5,1238.4 635.2,1238.4 636.0,1238.4 636.7,1238.4 637.5,1238.4 638.2,1238.4 639.0,1238.4 639.7,1238.4 640.5,1238.4 641.2,1238.4 642.0,1238.4 642.7,1238.4 643.5,1238.4 644.2,1238.4 645.0,1238.4 645.7,1238.4 646.5,1238.4 647.2,1238.4 648.0,1238.4 648.7,1238.3 649.5,1238.3 650.2,1238.3 651.0,1238.3 651.7,1238.3 652.5,1238.3 653.2,1238.3 654.0,1238.3 654.7,1238.3 655.5,1238.3 656.2,1238.3 657.0,1238.3 657.7,1238.3 658.5,1238.3 659.2,1238.3 660.0,1238.3 660.7,1238.3 661.5,1238.3 662.2,1238.3 663.0,1238.3 663.7,1238.3 664.5,1238.4 665.2,1238.4 666.0,1238.4 666.7,1238.4 667.5,1238.4 668.2,1238.5 669.0,1238.5 669.7,1238.5 670.5,1238.5 671.2,1238.6 672.0,1238.6 672.7,1238.6 673.5,1238.7 674.2,1238.7 675.0,1238.7 675.7,1238.7 676.5,1238.8 677.2,1238.8 678.0,1238.8 678.7,1238.9 679.5,1238.9 680.2,1238.9 681.0,1238.9 681.7,1239.0 682.5,1239.0 683.2,1239.0 684.0,1239.0 684.7,1239.1 685.5,1239.1 686.2,1239.1 687.0,1239.1 687.7,1239.1 688.5,1239.1 689.2,1239.2 690.0,1239.2 690.7,1239.2 691.5,1239.2 692.2,1239.2 693.0,1239.2 693.7,1239.2 694.5,1239.2 695.2,1239.2 696.0,1239.2 696.7,1239.2 697.5,1239.2 698.2,1239.2 699.0,1239.2 699.7,1239.2 700.5,1239.2 701.2,1239.2 702.0,1239.1 702.7,1239.1 703.5,1239.1 704.2,1239.1 705.0,1239.1 705.7,1239.1 706.5,1239.1 707.2,1239.1 708.0,1239.1 708.7,1239.1 709.5,1239.1 710.2,1239.1 711.0,1239.1 711.7,1239.1 712.5,1239.1 713.2,1239.1 714.0,1239.1 714.7,1239.1 715.5,1239.1 716.2,1239.1" fill="none" stroke="#000" stroke-width="4.6" stroke-linejoin="round" stroke-linecap="butt"/><text x="699.8" y="1217" font-size="39.5" text-anchor="end" fill="#000">7.5 kOe</text>
<marker id="m10" markerWidth="20" markerHeight="20" refX="10" refY="10" markerUnits="userSpaceOnUse"><circle cx="10" cy="10" r="7.6" fill="#fff" stroke="#0000ff" stroke-width="1.5"/></marker><polyline points="134.6,1341.6 140.4,1341.6 146.4,1341.1 152.4,1336.9 157.7,1308.9 163.1,1288.2 167.7,1274.8 174.4,1266.2 180.4,1268.2 186.4,1279.5 191.8,1293.5 196.4,1308.2 203.2,1316.4 208.8,1313.3 214.4,1304.1 220.1,1298.0 225.7,1292.3 231.3,1291.8 236.9,1293.6 242.5,1299.5 248.2,1305.4 253.8,1310.0 259.4,1311.0 265.0,1310.9 270.6,1307.1 276.3,1305.3 281.9,1303.9 287.5,1303.4 293.1,1304.7 298.7,1307.2 304.4,1308.2 310.0,1310.6 315.6,1309.7 321.2,1309.1 326.8,1310.1 332.5,1308.6 338.1,1309.5 343.7,1309.9 349.3,1309.8 354.9,1309.7 360.6,1310.2 366.2,1310.9 371.8,1312.3 377.4,1311.9 383.0,1311.5 388.7,1310.9 394.3,1311.9 399.9,1312.4 405.5,1312.2 411.1,1313.2 416.8,1313.8 422.4,1314.5 428.0,1314.9 433.6,1315.2 439.2,1315.9 444.9,1314.7 450.5,1314.5 456.1,1315.2 461.7,1315.4 467.3,1316.5 473.0,1316.7 478.6,1316.6 484.2,1316.3 489.8,1317.8 495.4,1317.6 501.1,1317.7 506.7,1318.0 512.3,1318.5 517.9,1317.0 523.5,1317.6 529.2,1318.5 534.8,1319.2 540.4,1318.8 546.0,1318.8 551.6,1318.4 557.3,1318.3 562.9,1319.8 568.5,1320.2 574.1,1319.4 579.7,1319.5 585.4,1319.0 591.0,1320.1 596.6,1319.3 602.2,1320.2 607.8,1319.4 613.5,1319.9 619.1,1320.9 624.7,1319.8 630.3,1320.5 635.9,1320.2 641.6,1320.8 647.2,1321.7 652.8,1320.9 658.4,1321.8 664.0,1320.6 669.7,1320.7 675.3,1321.2 680.9,1321.0 686.5,1321.5 692.1,1320.9 697.8,1320.3 703.4,1321.3 709.0,1320.4 716.5,1321.2" fill="none" stroke="none" marker-start="url(#m10)" marker-mid="url(#m10)" marker-end="url(#m10)"/><polyline points="203.2,1316.8 203.9,1316.7 204.7,1316.4 205.4,1316.0 206.2,1315.5 206.9,1314.9 207.7,1314.2 208.4,1313.5 209.2,1312.6 209.9,1311.7 210.7,1310.7 211.4,1309.6 212.2,1308.5 212.9,1307.4 213.7,1306.3 214.4,1305.1 215.2,1304.0 215.9,1302.8 216.7,1301.6 217.4,1300.5 218.2,1299.4 218.9,1298.4 219.7,1297.4 220.4,1296.4 221.2,1295.5 221.9,1294.7 222.7,1293.9 223.4,1293.2 224.2,1292.6 224.9,1292.0 225.7,1291.5 226.4,1291.2 227.2,1290.9 227.9,1290.7 228.7,1290.5 229.4,1290.5 230.2,1290.5 230.9,1290.7 231.7,1290.9 232.4,1291.1 233.2,1291.5 233.9,1291.9 234.7,1292.4 235.4,1292.9 236.2,1293.5 236.9,1294.2 237.7,1294.9 238.4,1295.6 239.2,1296.4 239.9,1297.2 240.7,1298.0 241.4,1298.9 242.2,1299.8 242.9,1300.6 243.7,1301.5 244.4,1302.4 245.2,1303.2 245.9,1304.0 246.7,1304.9 247.4,1305.6 248.2,1306.4 248.9,1307.1 249.7,1307.8 250.4,1308.5 251.2,1309.0 251.9,1309.6 252.7,1310.1 253.4,1310.5 254.2,1310.9 254.9,1311.2 255.7,1311.5 256.4,1311.7 257.2,1311.9 257.9,1312.0 258.7,1312.0 259.4,1312.0 260.2,1312.0 260.9,1311.8 261.7,1311.7 262.4,1311.5 263.2,1311.2 263.9,1310.9 264.7,1310.6 265.4,1310.2 266.2,1309.9 266.9,1309.5 267.7,1309.1 268.4,1308.6 269.2,1308.2 269.9,1307.8 270.7,1307.3 271.4,1306.9 272.2,1306.5 272.9,1306.1 273.7,1305.7 274.4,1305.4 275.2,1305.1 275.9,1304.7 276.7,1304.5 277.4,1304.2 278.2,1304.0 278.9,1303.8 279.7,1303.7 280.4,1303.5 281.2,1303.4 281.9,1303.4 282.7,1303.3 283.4,1303.3 284.2,1303.3 284.9,1303.4 285.7,1303.5 286.4,1303.6 287.2,1303.7 287.9,1303.9 288.7,1304.0 289.4,1304.2 290.2,1304.4 290.9,1304.7 291.7,1304.9 292.4,1305.2 293.2,1305.4 293.9,1305.7 294.7,1306.0 295.4,1306.3 296.2,1306.5 296.9,1306.8 297.7,1307.1 298.4,1307.4 299.2,1307.7 299.9,1307.9 300.7,1308.2 301.4,1308.4 302.2,1308.7 302.9,1308.9 303.7,1309.1 304.4,1309.3 305.2,1309.5 305.9,1309.6 306.7,1309.8 307.4,1309.9 308.2,1310.0 308.9,1310.1 309.7,1310.2 310.4,1310.3 311.2,1310.3 311.9,1310.4 312.7,1310.4 313.4,1310.4 314.2,1310.4 314.9,1310.4 315.7,1310.3 316.4,1310.3 317.2,1310.3 317.9,1310.2 318.7,1310.1 319.4,1310.1 320.2,1310.0 320.9,1309.9 321.7,1309.8 322.4,1309.7 323.2,1309.6 323.9,1309.5 324.7,1309.5 325.4,1309.4 326.2,1309.3 326.9,1309.2 327.7,1309.1 328.4,1309.0 329.2,1309.0 329.9,1308.9 330.7,1308.8 331.4,1308.8 332.2,1308.7 332.9,1308.7 333.7,1308.6 334.4,1308.6 335.2,1308.6 335.9,1308.6 336.7,1308.6 337.4,1308.6 338.2,1308.6 338.9,1308.6 339.7,1308.6 340.4,1308.6 341.2,1308.7 341.9,1308.7 342.7,1308.8 343.4,1308.8 344.2,1308.9 344.9,1309.0 345.7,1309.0 346.4,1309.1 347.2,1309.2 347.9,1309.3 348.7,1309.4 349.4,1309.5 350.2,1309.6 350.9,1309.7 351.7,1309.8 352.4,1309.9 353.2,1310.0 353.9,1310.1 354.7,1310.2 355.4,1310.3 356.2,1310.4 356.9,1310.5 357.7,1310.6 358.4,1310.7 359.2,1310.8 359.9,1310.9 360.7,1311.0 361.4,1311.0 362.2,1311.1 362.9,1311.2 363.7,1311.3 364.4,1311.3 365.2,1311.4 365.9,1311.5 366.7,1311.5 367.4,1311.6 368.2,1311.6 368.9,1311.6 369.7,1311.7 370.4,1311.7 371.2,1311.7 371.9,1311.8 372.7,1311.8 373.4,1311.8 374.2,1311.8 374.9,1311.8 375.7,1311.8 376.4,1311.9 377.2,1311.9 377.9,1311.9 378.7,1311.9 379.4,1311.9 380.2,1311.9 380.9,1311.9 381.7,1311.9 382.4,1311.9 383.2,1311.9 383.9,1311.9 384.7,1311.9 385.4,1311.9 386.2,1311.9 386.9,1311.9 387.7,1312.0 388.4,1312.0 389.2,1312.0 389.9,1312.0 390.7,1312.0 391.4,1312.1 392.2,1312.1 392.9,1312.1 393.7,1312.2 394.4,1312.2 395.2,1312.3 395.9,1312.3 396.7,1312.4 397.4,1312.4 398.2,1312.5 398.9,1312.5 399.7,1312.6 400.4,1312.7 401.2,1312.7 401.9,1312.8 402.7,1312.9 403.4,1312.9 404.2,1313.0 404.9,1313.1 405.7,1313.2 406.4,1313.2 407.2,1313.3 407.9,1313.4 408.7,1313.5 409.4,1313.5 410.2,1313.6 410.9,1313.7 411.7,1313.8 412.4,1313.9 413.2,1313.9 413.9,1314.0 414.7,1314.1 415.4,1314.1 416.2,1314.2 416.9,1314.3 417.7,1314.3 418.4,1314.4 419.2,1314.4 419.9,1314.5 420.7,1314.5 421.4,1314.6 422.2,1314.6 422.9,1314.7 423.7,1314.7 424.4,1314.8 425.2,1314.8 425.9,1314.8 426.7,1314.9 427.4,1314.9 428.2,1314.9 428.9,1314.9 429.7,1315.0 430.4,1315.0 431.2,1315.0 431.9,1315.0 432.7,1315.0 433.4,1315.0 434.2,1315.0 434.9,1315.0 435.7,1315.1 436.4,1315.1 437.2,1315.1 437.9,1315.1 438.7,1315.1 439.4,1315.1 440.2,1315.1 440.9,1315.1 441.7,1315.1 442.4,1315.1 443.2,1315.1 443.9,1315.2 444.7,1315.2 445.4,1315.2 446.2,1315.2 446.9,1315.2 447.7,1315.3 448.4,1315.3 449.2,1315.3 449.9,1315.3 450.7,1315.4 451.4,1315.4 452.2,1315.4 452.9,1315.5 453.7,1315.5 454.4,1315.5 455.2,1315.6 455.9,1315.6 456.7,1315.7 457.4,1315.7 458.2,1315.8 458.9,1315.8 459.7,1315.9 460.4,1315.9 461.2,1316.0 461.9,1316.0 462.7,1316.1 463.4,1316.1 464.2,1316.2 464.9,1316.2 465.7,1316.3 466.4,1316.3 467.2,1316.4 467.9,1316.4 468.7,1316.5 469.4,1316.5 470.2,1316.6 470.9,1316.6 471.7,1316.7 472.4,1316.7 473.2,1316.7 473.9,1316.8 474.7,1316.8 475.4,1316.9 476.2,1316.9 476.9,1316.9 477.7,1317.0 478.4,1317.0 479.2,1317.0 479.9,1317.0 480.7,1317.1 481.4,1317.1 482.2,1317.1 482.9,1317.1 483.7,1317.2 484.4,1317.2 485.2,1317.2 485.9,1317.2 486.7,1317.2 487.4,1317.2 488.2,1317.2 488.9,1317.2 489.7,1317.2 490.4,1317.3 491.2,1317.3 491.9,1317.3 492.7,1317.3 493.4,1317.3 494.2,1317.3 494.9,1317.3 495.7,1317.3 496.4,1317.3 497.2,1317.3 497.9,1317.3 498.7,1317.3 499.4,1317.4 500.2,1317.4 500.9,1317.4 501.7,1317.4 502.4,1317.4 503.2,1317.4 503.9,1317.5 504.7,1317.5 505.4,1317.5 506.2,1317.5 506.9,1317.5 507.7,1317.6 508.4,1317.6 509.2,1317.6 509.9,1317.7 510.7,1317.7 511.4,1317.7 512.2,1317.8 513.0,1317.8 513.7,1317.8 514.5,1317.9 515.2,1317.9 516.0,1317.9 516.7,1318.0 517.5,1318.0 518.2,1318.0 519.0,1318.1 519.7,1318.1 520.5,1318.2 521.2,1318.2 522.0,1318.2 522.7,1318.3 523.5,1318.3 524.2,1318.4 525.0,1318.4 525.7,1318.4 526.5,1318.5 527.2,1318.5 528.0,1318.5 528.7,1318.6 529.5,1318.6 530.2,1318.6 531.0,1318.6 531.7,1318.7 532.5,1318.7 533.2,1318.7 534.0,1318.7 534.7,1318.7 535.5,1318.7 536.2,1318.8 537.0,1318.8 537.7,1318.8 538.5,1318.8 539.2,1318.8 540.0,1318.8 540.7,1318.8 541.5,1318.8 542.2,1318.8 543.0,1318.8 543.7,1318.8 544.5,1318.8 545.2,1318.8 546.0,1318.8 546.7,1318.8 547.5,1318.8 548.2,1318.8 549.0,1318.8 549.7,1318.8 550.5,1318.8 551.2,1318.8 552.0,1318.8 552.7,1318.8 553.5,1318.8 554.2,1318.8 555.0,1318.8 555.7,1318.8 556.5,1318.8 557.2,1318.8 558.0,1318.9 558.7,1318.9 559.5,1318.9 560.2,1318.9 561.0,1318.9 561.7,1318.9 562.5,1318.9 563.2,1319.0 564.0,1319.0 564.7,1319.0 565.5,1319.0 566.2,1319.0 567.0,1319.1 567.7,1319.1 568.5,1319.1 569.2,1319.2 570.0,1319.2 570.7,1319.2 571.5,1319.2 572.2,1319.3 573.0,1319.3 573.7,1319.3 574.5,1319.4 575.2,1319.4 576.0,1319.4 576.7,1319.5 577.5,1319.5 578.2,1319.5 579.0,1319.6 579.7,1319.6 580.5,1319.6 581.2,1319.7 582.0,1319.7 582.7,1319.7 583.5,1319.7 584.2,1319.8 585.0,1319.8 585.7,1319.8 586.5,1319.8 587.2,1319.8 588.0,1319.9 588.7,1319.9 589.5,1319.9 590.2,1319.9 591.0,1319.9 591.7,1319.9 592.5,1319.9 593.2,1319.9 594.0,1319.9 594.7,1320.0 595.5,1320.0 596.2,1320.0 597.0,1320.0 597.7,1320.0 598.5,1320.0 599.2,1320.0 600.0,1320.0 600.7,1320.0 601.5,1320.0 602.2,1320.0 603.0,1319.9 603.7,1319.9 604.5,1319.9 605.2,1319.9 606.0,1319.9 606.7,1319.9 607.5,1319.9 608.2,1319.9 609.0,1319.9 609.7,1319.9 610.5,1319.9 611.2,1319.9 612.0,1319.9 612.7,1320.0 613.5,1320.0 614.2,1320.0 615.0,1320.0 615.7,1320.0 616.5,1320.0 617.2,1320.0 618.0,1320.0 618.7,1320.0 619.5,1320.1 620.2,1320.1 621.0,1320.1 621.7,1320.1 622.5,1320.1 623.2,1320.2 624.0,1320.2 624.7,1320.2 625.5,1320.3 626.2,1320.3 627.0,1320.3 627.7,1320.3 628.5,1320.4 629.2,1320.4 630.0,1320.4 630.7,1320.5 631.5,1320.5 632.2,1320.5 633.0,1320.5 633.7,1320.6 634.5,1320.6 635.2,1320.6 636.0,1320.6 636.7,1320.7 637.5,1320.7 638.2,1320.7 639.0,1320.7 639.7,1320.8 640.5,1320.8 641.2,1320.8 642.0,1320.8 642.7,1320.8 643.5,1320.8 644.2,1320.8 645.0,1320.9 645.7,1320.9 646.5,1320.9 647.2,1320.9 648.0,1320.9 648.7,1320.9 649.5,1320.9 650.2,1320.9 651.0,1320.9 651.7,1320.9 652.5,1320.9 653.2,1320.9 654.0,1320.9 654.7,1320.9 655.5,1320.9 656.2,1320.8 657.0,1320.8 657.7,1320.8 658.5,1320.8 659.2,1320.8 660.0,1320.8 660.7,1320.8 661.5,1320.8 662.2,1320.8 663.0,1320.8 663.7,1320.8 664.5,1320.8 665.2,1320.8 666.0,1320.8 666.7,1320.8 667.5,1320.8 668.2,1320.8 669.0,1320.8 669.7,1320.8 670.5,1320.8 671.2,1320.8 672.0,1320.8 672.7,1320.8 673.5,1320.8 674.2,1320.8 675.0,1320.8 675.7,1320.9 676.5,1320.9 677.2,1320.9 678.0,1320.9 678.7,1320.9 679.5,1321.0 680.2,1321.0 681.0,1321.0 681.7,1321.0 682.5,1321.0 683.2,1321.1 684.0,1321.1 684.7,1321.1 685.5,1321.1 686.2,1321.2 687.0,1321.2 687.7,1321.2 688.5,1321.2 689.2,1321.2 690.0,1321.3 690.7,1321.3 691.5,1321.3 692.2,1321.3 693.0,1321.3 693.7,1321.4 694.5,1321.4 695.2,1321.4 696.0,1321.4 696.7,1321.4 697.5,1321.4 698.2,1321.4 699.0,1321.4 699.7,1321.4 700.5,1321.4 701.2,1321.4 702.0,1321.4 702.7,1321.4 703.5,1321.4 704.2,1321.4 705.0,1321.4 705.7,1321.4 706.5,1321.4 707.2,1321.4 708.0,1321.4 708.7,1321.4 709.5,1321.4 710.2,1321.3 711.0,1321.3 711.7,1321.3 712.5,1321.3 713.2,1321.3 714.0,1321.3 714.7,1321.3 715.5,1321.2 716.2,1321.2" fill="none" stroke="#000" stroke-width="4.6" stroke-linejoin="round" stroke-linecap="butt"/><text x="699.8" y="1295.4" font-size="39.5" text-anchor="end" fill="#000">6.0 kOe</text>
<marker id="m11" markerWidth="20" markerHeight="20" refX="10" refY="10" markerUnits="userSpaceOnUse"><circle cx="10" cy="10" r="7.6" fill="#fff" stroke="#008000" stroke-width="1.5"/></marker><polyline points="134.6,1424.0 140.4,1424.0 146.4,1423.5 152.4,1415.5 158.0,1378.0 163.7,1359.5 169.3,1351.0 176.4,1349.7 184.9,1361.0 192.0,1373.7 197.6,1385.0 202.7,1390.6 207.2,1386.7 211.7,1383.4 216.2,1377.2 220.7,1371.8 225.2,1370.7 229.7,1371.2 234.2,1374.7 238.7,1380.0 243.2,1384.2 247.7,1385.9 252.2,1388.3 256.7,1387.1 261.1,1385.5 265.6,1383.8 270.1,1380.9 274.6,1380.5 279.1,1381.9 283.6,1384.5 288.1,1384.9 292.6,1387.2 297.1,1386.7 301.6,1388.4 306.1,1388.6 310.6,1387.1 315.1,1386.2 319.6,1385.7 324.1,1385.7 328.6,1386.3 333.1,1387.6 337.6,1389.0 342.1,1388.4 346.6,1390.6 351.1,1389.5 355.6,1390.6 360.1,1391.3 364.6,1391.7 369.1,1391.8 373.5,1392.1 378.0,1390.4 382.5,1392.4 387.0,1390.8 391.5,1392.2 396.0,1392.3 400.5,1392.8 405.0,1392.4 409.5,1393.3 414.0,1394.1 418.5,1394.2 423.0,1392.9 427.5,1394.8 432.0,1393.9 436.5,1394.6 441.0,1394.3 445.5,1395.3 450.0,1395.1 454.5,1396.0 459.0,1394.2 463.5,1394.9 468.0,1396.2 472.5,1394.0 477.0,1394.2 481.5,1395.7 485.9,1396.4 490.4,1394.6 494.9,1395.0 499.4,1396.3 503.9,1396.0 508.4,1397.0 512.9,1395.2 517.4,1395.2 521.9,1395.4 526.4,1395.9 530.9,1395.6 535.4,1396.3 539.9,1395.7 544.4,1397.0 548.9,1396.6 553.4,1396.5 557.9,1396.4 562.4,1396.7 566.9,1396.7 571.4,1398.2 575.9,1397.5 580.4,1398.0 584.9,1397.3 589.4,1396.6 593.9,1398.0 598.3,1398.3 602.8,1399.0 607.3,1396.8 611.8,1396.9 616.3,1398.5 620.8,1397.2 625.3,1396.7 629.8,1396.9 634.3,1398.6 638.8,1398.1 643.3,1399.1 647.8,1398.9 652.3,1398.4 656.8,1398.1 661.3,1398.1 665.8,1397.6 670.3,1399.2 674.8,1398.0 679.3,1398.2 683.8,1398.1 688.3,1398.5 692.8,1399.3 697.3,1399.0 701.8,1398.7 706.3,1399.1 710.7,1399.3 716.5,1398.6" fill="none" stroke="none" marker-start="url(#m11)" marker-mid="url(#m11)" marker-end="url(#m11)"/><polyline points="202.7,1389.9 203.4,1389.8 204.2,1389.6 204.9,1389.2 205.7,1388.8 206.4,1388.3 207.2,1387.6 207.9,1386.9 208.7,1386.1 209.4,1385.3 210.2,1384.4 210.9,1383.5 211.7,1382.5 212.4,1381.5 213.2,1380.5 213.9,1379.5 214.7,1378.6 215.4,1377.6 216.2,1376.7 216.9,1375.8 217.7,1375.0 218.4,1374.2 219.2,1373.5 219.9,1372.9 220.7,1372.3 221.4,1371.9 222.2,1371.5 222.9,1371.2 223.7,1371.0 224.4,1370.8 225.2,1370.8 225.9,1370.9 226.7,1371.0 227.4,1371.2 228.2,1371.5 228.9,1371.8 229.7,1372.2 230.4,1372.6 231.2,1373.1 231.9,1373.7 232.7,1374.2 233.4,1374.8 234.2,1375.5 234.9,1376.1 235.7,1376.8 236.4,1377.5 237.2,1378.2 237.9,1378.9 238.7,1379.7 239.4,1380.4 240.2,1381.1 240.9,1381.7 241.7,1382.4 242.4,1383.1 243.2,1383.7 243.9,1384.3 244.7,1384.8 245.4,1385.3 246.2,1385.8 246.9,1386.2 247.7,1386.6 248.4,1386.9 249.2,1387.2 249.9,1387.4 250.7,1387.6 251.4,1387.8 252.2,1387.9 252.9,1387.9 253.7,1387.9 254.4,1387.8 255.2,1387.7 255.9,1387.6 256.7,1387.3 257.4,1387.1 258.2,1386.8 258.9,1386.5 259.7,1386.1 260.4,1385.7 261.2,1385.3 261.9,1384.9 262.7,1384.5 263.4,1384.1 264.2,1383.7 264.9,1383.4 265.7,1383.0 266.4,1382.7 267.2,1382.4 267.9,1382.1 268.7,1381.9 269.4,1381.6 270.2,1381.5 270.9,1381.3 271.7,1381.2 272.4,1381.2 273.2,1381.2 273.9,1381.2 274.7,1381.2 275.4,1381.3 276.2,1381.4 276.9,1381.5 277.7,1381.7 278.4,1381.9 279.2,1382.1 279.9,1382.3 280.7,1382.5 281.4,1382.7 282.2,1383.0 282.9,1383.2 283.7,1383.5 284.4,1383.8 285.2,1384.0 285.9,1384.3 286.7,1384.6 287.4,1384.8 288.2,1385.1 288.9,1385.3 289.7,1385.6 290.4,1385.8 291.2,1386.1 291.9,1386.3 292.7,1386.5 293.4,1386.7 294.2,1386.9 294.9,1387.0 295.7,1387.2 296.4,1387.3 297.2,1387.4 297.9,1387.5 298.7,1387.6 299.4,1387.7 300.2,1387.8 300.9,1387.8 301.7,1387.8 302.4,1387.9 303.2,1387.9 303.9,1387.9 304.7,1387.8 305.4,1387.8 306.2,1387.8 306.9,1387.7 307.7,1387.7 308.4,1387.6 309.2,1387.5 309.9,1387.5 310.7,1387.4 311.4,1387.3 312.2,1387.2 312.9,1387.1 313.7,1387.0 314.4,1387.0 315.2,1386.9 315.9,1386.8 316.7,1386.7 317.4,1386.7 318.2,1386.6 318.9,1386.6 319.7,1386.5 320.4,1386.5 321.2,1386.5 321.9,1386.5 322.7,1386.5 323.4,1386.5 324.2,1386.5 324.9,1386.5 325.7,1386.6 326.4,1386.6 327.2,1386.7 327.9,1386.7 328.7,1386.8 329.4,1386.9 330.2,1387.0 330.9,1387.0 331.7,1387.1 332.4,1387.3 333.2,1387.4 333.9,1387.5 334.7,1387.6 335.4,1387.7 336.2,1387.9 336.9,1388.0 337.7,1388.1 338.4,1388.3 339.2,1388.4 339.9,1388.6 340.7,1388.7 341.4,1388.8 342.2,1389.0 342.9,1389.1 343.7,1389.2 344.4,1389.4 345.2,1389.5 345.9,1389.6 346.7,1389.7 347.4,1389.8 348.2,1389.9 348.9,1390.0 349.7,1390.1 350.4,1390.2 351.2,1390.3 351.9,1390.3 352.7,1390.4 353.4,1390.5 354.2,1390.5 354.9,1390.6 355.7,1390.6 356.4,1390.7 357.2,1390.7 357.9,1390.7 358.7,1390.8 359.4,1390.8 360.2,1390.8 360.9,1390.8 361.7,1390.8 362.4,1390.8 363.2,1390.8 363.9,1390.9 364.7,1390.9 365.4,1390.9 366.2,1390.9 366.9,1390.9 367.7,1390.9 368.4,1390.9 369.2,1390.9 369.9,1391.0 370.7,1391.0 371.4,1391.0 372.2,1391.0 372.9,1391.1 373.7,1391.1 374.4,1391.1 375.2,1391.1 375.9,1391.2 376.7,1391.2 377.4,1391.3 378.2,1391.3 378.9,1391.3 379.7,1391.4 380.4,1391.4 381.2,1391.5 381.9,1391.5 382.7,1391.6 383.4,1391.6 384.2,1391.7 384.9,1391.7 385.7,1391.8 386.4,1391.8 387.2,1391.9 387.9,1392.0 388.7,1392.0 389.4,1392.1 390.2,1392.1 390.9,1392.2 391.7,1392.3 392.4,1392.3 393.2,1392.4 393.9,1392.5 394.7,1392.5 395.4,1392.6 396.2,1392.6 396.9,1392.7 397.7,1392.8 398.4,1392.8 399.2,1392.9 399.9,1392.9 400.7,1393.0 401.4,1393.0 402.2,1393.1 402.9,1393.2 403.7,1393.2 404.4,1393.2 405.2,1393.3 405.9,1393.3 406.7,1393.4 407.4,1393.4 408.2,1393.5 408.9,1393.5 409.7,1393.5 410.4,1393.6 411.2,1393.6 411.9,1393.6 412.7,1393.6 413.4,1393.7 414.2,1393.7 414.9,1393.7 415.7,1393.8 416.4,1393.8 417.2,1393.8 417.9,1393.8 418.7,1393.8 419.4,1393.9 420.2,1393.9 420.9,1393.9 421.7,1393.9 422.4,1394.0 423.2,1394.0 423.9,1394.0 424.7,1394.0 425.4,1394.1 426.2,1394.1 426.9,1394.1 427.7,1394.1 428.4,1394.2 429.2,1394.2 429.9,1394.2 430.7,1394.2 431.4,1394.3 432.2,1394.3 432.9,1394.3 433.7,1394.4 434.4,1394.4 435.2,1394.4 435.9,1394.5 436.7,1394.5 437.4,1394.5 438.2,1394.6 438.9,1394.6 439.7,1394.6 440.4,1394.7 441.2,1394.7 441.9,1394.7 442.7,1394.8 443.4,1394.8 444.2,1394.8 444.9,1394.9 445.7,1394.9 446.4,1394.9 447.2,1395.0 447.9,1395.0 448.7,1395.0 449.4,1395.0 450.2,1395.1 450.9,1395.1 451.7,1395.1 452.4,1395.1 453.2,1395.1 453.9,1395.1 454.7,1395.1 455.4,1395.1 456.2,1395.2 456.9,1395.2 457.7,1395.2 458.4,1395.2 459.2,1395.2 459.9,1395.2 460.7,1395.2 461.4,1395.1 462.2,1395.1 462.9,1395.1 463.7,1395.1 464.4,1395.1 465.2,1395.1 465.9,1395.1 466.7,1395.1 467.4,1395.1 468.2,1395.1 468.9,1395.1 469.7,1395.1 470.4,1395.1 471.2,1395.1 471.9,1395.1 472.7,1395.1 473.4,1395.1 474.2,1395.1 474.9,1395.1 475.7,1395.1 476.4,1395.1 477.2,1395.1 477.9,1395.1 478.7,1395.1 479.4,1395.1 480.2,1395.2 480.9,1395.2 481.7,1395.2 482.4,1395.2 483.2,1395.2 483.9,1395.3 484.7,1395.3 485.4,1395.3 486.2,1395.3 486.9,1395.4 487.7,1395.4 488.4,1395.4 489.2,1395.5 489.9,1395.5 490.7,1395.5 491.4,1395.6 492.2,1395.6 492.9,1395.6 493.7,1395.7 494.4,1395.7 495.2,1395.7 495.9,1395.8 496.7,1395.8 497.4,1395.8 498.2,1395.8 498.9,1395.9 499.7,1395.9 500.4,1395.9 501.2,1395.9 501.9,1396.0 502.7,1396.0 503.4,1396.0 504.2,1396.0 504.9,1396.0 505.7,1396.0 506.4,1396.0 507.2,1396.0 507.9,1396.1 508.7,1396.1 509.4,1396.1 510.2,1396.1 510.9,1396.1 511.7,1396.1 512.5,1396.1 513.2,1396.1 514.0,1396.1 514.7,1396.1 515.5,1396.1 516.2,1396.1 517.0,1396.1 517.7,1396.0 518.5,1396.0 519.2,1396.0 520.0,1396.0 520.7,1396.0 521.5,1396.1 522.2,1396.1 523.0,1396.1 523.7,1396.1 524.5,1396.1 525.2,1396.1 526.0,1396.1 526.7,1396.1 527.5,1396.1 528.2,1396.1 529.0,1396.2 529.7,1396.2 530.5,1396.2 531.2,1396.2 532.0,1396.2 532.7,1396.3 533.5,1396.3 534.2,1396.3 535.0,1396.4 535.7,1396.4 536.5,1396.4 537.2,1396.5 538.0,1396.5 538.7,1396.5 539.5,1396.6 540.2,1396.6 541.0,1396.6 541.7,1396.7 542.5,1396.7 543.2,1396.7 544.0,1396.8 544.7,1396.8 545.5,1396.8 546.2,1396.9 547.0,1396.9 547.7,1396.9 548.5,1397.0 549.2,1397.0 550.0,1397.0 550.7,1397.0 551.5,1397.0 552.2,1397.1 553.0,1397.1 553.7,1397.1 554.5,1397.1 555.2,1397.1 556.0,1397.1 556.7,1397.1 557.5,1397.1 558.2,1397.2 559.0,1397.2 559.7,1397.2 560.5,1397.2 561.2,1397.2 562.0,1397.2 562.7,1397.2 563.5,1397.1 564.2,1397.1 565.0,1397.1 565.7,1397.1 566.5,1397.1 567.2,1397.1 568.0,1397.1 568.7,1397.1 569.5,1397.1 570.2,1397.1 571.0,1397.1 571.7,1397.1 572.5,1397.1 573.2,1397.1 574.0,1397.1 574.7,1397.1 575.5,1397.1 576.2,1397.1 577.0,1397.1 577.7,1397.2 578.5,1397.2 579.2,1397.2 580.0,1397.2 580.7,1397.2 581.5,1397.2 582.2,1397.3 583.0,1397.3 583.7,1397.3 584.5,1397.3 585.2,1397.3 586.0,1397.4 586.7,1397.4 587.5,1397.4 588.2,1397.5 589.0,1397.5 589.7,1397.5 590.5,1397.5 591.2,1397.6 592.0,1397.6 592.7,1397.6 593.5,1397.7 594.2,1397.7 595.0,1397.7 595.7,1397.7 596.5,1397.8 597.2,1397.8 598.0,1397.8 598.7,1397.8 599.5,1397.8 600.2,1397.8 601.0,1397.9 601.7,1397.9 602.5,1397.9 603.2,1397.9 604.0,1397.9 604.7,1397.9 605.5,1397.9 606.2,1397.9 607.0,1397.9 607.7,1397.9 608.5,1397.9 609.2,1397.9 610.0,1397.9 610.7,1397.9 611.5,1397.9 612.2,1397.9 613.0,1397.9 613.7,1397.9 614.5,1397.9 615.2,1397.8 616.0,1397.8 616.7,1397.8 617.5,1397.8 618.2,1397.8 619.0,1397.8 619.7,1397.8 620.5,1397.8 621.2,1397.8 622.0,1397.8 622.7,1397.8 623.5,1397.8 624.2,1397.8 625.0,1397.8 625.7,1397.8 626.5,1397.8 627.2,1397.8 628.0,1397.8 628.7,1397.8 629.5,1397.8 630.2,1397.8 631.0,1397.8 631.7,1397.8 632.5,1397.9 633.2,1397.9 634.0,1397.9 634.7,1397.9 635.5,1397.9 636.2,1398.0 637.0,1398.0 637.7,1398.0 638.5,1398.0 639.2,1398.1 640.0,1398.1 640.7,1398.1 641.5,1398.1 642.2,1398.2 643.0,1398.2 643.7,1398.2 644.5,1398.2 645.2,1398.3 646.0,1398.3 646.7,1398.3 647.5,1398.3 648.2,1398.3 649.0,1398.4 649.7,1398.4 650.5,1398.4 651.2,1398.4 652.0,1398.4 652.7,1398.4 653.5,1398.4 654.2,1398.4 655.0,1398.4 655.7,1398.4 656.5,1398.4 657.2,1398.4 658.0,1398.4 658.7,1398.4 659.5,1398.4 660.2,1398.4 661.0,1398.4 661.7,1398.4 662.5,1398.4 663.2,1398.4 664.0,1398.4 664.7,1398.3 665.5,1398.3 666.2,1398.3 667.0,1398.3 667.7,1398.3 668.5,1398.3 669.2,1398.3 670.0,1398.3 670.7,1398.2 671.5,1398.2 672.2,1398.2 673.0,1398.2 673.7,1398.2 674.5,1398.2 675.2,1398.2 676.0,1398.2 676.7,1398.2 677.5,1398.2 678.2,1398.2 679.0,1398.2 679.7,1398.2 680.5,1398.2 681.2,1398.3 682.0,1398.3 682.7,1398.3 683.5,1398.3 684.2,1398.3 685.0,1398.3 685.7,1398.4 686.5,1398.4 687.2,1398.4 688.0,1398.4 688.7,1398.4 689.5,1398.5 690.2,1398.5 691.0,1398.5 691.7,1398.5 692.5,1398.6 693.2,1398.6 694.0,1398.6 694.7,1398.6 695.5,1398.6 696.2,1398.7 697.0,1398.7 697.7,1398.7 698.5,1398.7 699.2,1398.7 700.0,1398.7 700.7,1398.7 701.5,1398.7 702.2,1398.8 703.0,1398.8 703.7,1398.8 704.5,1398.8 705.2,1398.8 706.0,1398.8 706.7,1398.8 707.5,1398.7 708.2,1398.7 709.0,1398.7 709.7,1398.7 710.5,1398.7 711.2,1398.7 712.0,1398.7 712.7,1398.7 713.5,1398.6 714.2,1398.6 715.0,1398.6 715.7,1398.6 716.5,1398.6" fill="none" stroke="#000" stroke-width="4.6" stroke-linejoin="round" stroke-linecap="butt"/><text x="699.8" y="1370.6" font-size="39.5" text-anchor="end" fill="#000">4.0 kOe</text>
<marker id="m12" markerWidth="20" markerHeight="20" refX="10" refY="10" markerUnits="userSpaceOnUse"><circle cx="10" cy="10" r="7.6" fill="#fff" stroke="#ff0000" stroke-width="1.5"/></marker><polyline points="134.6,1506.0 140.4,1506.0 146.4,1505.5 152.3,1494.0 158.0,1442.4 162.3,1429.7 166.0,1431.0 170.7,1434.0 177.8,1438.0 184.9,1445.0 192.0,1452.0 199.0,1456.5 202.7,1457.8 206.6,1458.2 210.6,1455.5 214.5,1455.4 218.4,1452.4 222.4,1452.7 226.3,1454.0 230.2,1455.5 234.2,1456.3 238.1,1458.1 242.0,1459.1 246.0,1460.8 249.9,1459.9 253.8,1460.9 257.8,1460.3 261.7,1459.5 265.6,1459.1 269.6,1458.1 273.5,1459.6 277.4,1459.9 281.4,1460.9 285.3,1461.2 289.2,1462.8 293.2,1462.7 297.1,1463.0 301.1,1462.3 305.0,1463.0 308.9,1464.3 312.9,1463.2 316.8,1463.0 320.7,1463.7 324.7,1463.5 328.6,1465.4 332.5,1465.4 336.5,1464.9 340.4,1466.8 344.3,1466.1 348.3,1466.1 352.2,1467.5 356.1,1466.1 360.1,1466.5 364.0,1466.9 367.9,1468.1 371.9,1467.1 375.8,1467.8 379.7,1467.2 383.7,1467.7 387.6,1468.2 391.5,1469.2 395.5,1469.7 399.4,1469.7 403.3,1468.5 407.3,1469.2 411.2,1468.7 415.1,1470.1 419.1,1469.3 423.0,1471.0 426.9,1470.9 430.9,1471.3 434.8,1470.4 438.7,1471.9 442.7,1471.7 446.6,1470.5 450.5,1472.4 454.5,1470.6 458.4,1472.6 462.3,1471.1 466.3,1471.2 470.2,1471.9 474.1,1471.1 478.1,1472.8 482.0,1473.1 485.9,1471.8 489.9,1473.5 493.8,1473.0 497.8,1473.1 501.7,1473.2 505.6,1473.7 509.6,1474.3 513.5,1473.5 517.4,1472.8 521.4,1474.1 525.3,1473.6 529.2,1473.9 533.2,1473.8 537.1,1474.6 541.0,1473.9 545.0,1475.2 548.9,1474.3 552.8,1474.9 556.8,1474.1 560.7,1474.2 564.6,1475.1 568.6,1474.5 572.5,1475.0 576.4,1474.4 580.4,1475.7 584.3,1475.3 588.2,1474.8 592.2,1475.5 596.1,1474.8 600.0,1474.5 604.0,1474.8 607.9,1474.7 611.8,1475.0 615.8,1474.5 619.7,1476.6 623.6,1476.5 627.6,1476.3 631.5,1476.7 635.4,1475.9 639.4,1475.2 643.3,1475.1 647.2,1475.8 651.2,1476.9 655.1,1476.0 659.0,1476.5 663.0,1476.7 666.9,1475.4 670.8,1477.3 674.8,1477.3 678.7,1476.0 682.6,1475.6 686.6,1477.5 690.5,1477.4 694.5,1475.7 698.4,1476.0 702.3,1475.5 706.3,1475.4 710.2,1476.7 714.1,1475.5 716.5,1476.4" fill="none" stroke="none" marker-start="url(#m12)" marker-mid="url(#m12)" marker-end="url(#m12)"/><polyline points="202.7,1458.5 203.4,1458.5 204.2,1458.5 204.9,1458.4 205.7,1458.2 206.4,1458.0 207.2,1457.8 207.9,1457.5 208.7,1457.2 209.4,1456.9 210.2,1456.5 210.9,1456.2 211.7,1455.8 212.4,1455.4 213.2,1455.1 213.9,1454.7 214.7,1454.4 215.4,1454.1 216.2,1453.8 216.9,1453.5 217.7,1453.3 218.4,1453.1 219.2,1452.9 219.9,1452.8 220.7,1452.8 221.4,1452.7 222.2,1452.7 222.9,1452.8 223.7,1452.9 224.4,1453.0 225.2,1453.1 225.9,1453.3 226.7,1453.5 227.4,1453.7 228.2,1453.9 228.9,1454.2 229.7,1454.4 230.4,1454.7 231.2,1455.0 231.9,1455.3 232.7,1455.6 233.4,1455.9 234.2,1456.2 234.9,1456.5 235.7,1456.8 236.4,1457.1 237.2,1457.4 237.9,1457.6 238.7,1457.9 239.4,1458.2 240.2,1458.5 240.9,1458.7 241.7,1458.9 242.4,1459.2 243.2,1459.4 243.9,1459.6 244.7,1459.7 245.4,1459.9 246.2,1460.0 246.9,1460.2 247.7,1460.3 248.4,1460.3 249.2,1460.4 249.9,1460.5 250.7,1460.5 251.4,1460.5 252.2,1460.5 252.9,1460.5 253.7,1460.5 254.4,1460.4 255.2,1460.3 255.9,1460.3 256.7,1460.2 257.4,1460.1 258.2,1460.0 258.9,1459.9 259.7,1459.8 260.4,1459.7 261.2,1459.6 261.9,1459.6 262.7,1459.5 263.4,1459.4 264.2,1459.4 264.9,1459.3 265.7,1459.3 266.4,1459.2 267.2,1459.2 267.9,1459.2 268.7,1459.2 269.4,1459.2 270.2,1459.3 270.9,1459.3 271.7,1459.4 272.4,1459.4 273.2,1459.5 273.9,1459.6 274.7,1459.6 275.4,1459.7 276.2,1459.8 276.9,1459.9 277.7,1460.1 278.4,1460.2 279.2,1460.3 279.9,1460.4 280.7,1460.5 281.4,1460.6 282.2,1460.8 282.9,1460.9 283.7,1461.0 284.4,1461.1 285.2,1461.2 285.9,1461.4 286.7,1461.5 287.4,1461.6 288.2,1461.7 288.9,1461.8 289.7,1461.9 290.4,1462.0 291.2,1462.1 291.9,1462.2 292.7,1462.2 293.4,1462.3 294.2,1462.4 294.9,1462.5 295.7,1462.5 296.4,1462.6 297.2,1462.7 297.9,1462.7 298.7,1462.8 299.4,1462.8 300.2,1462.9 300.9,1462.9 301.7,1463.0 302.4,1463.0 303.2,1463.1 303.9,1463.1 304.7,1463.1 305.4,1463.2 306.2,1463.2 306.9,1463.2 307.7,1463.3 308.4,1463.3 309.2,1463.4 309.9,1463.4 310.7,1463.4 311.4,1463.5 312.2,1463.5 312.9,1463.5 313.7,1463.6 314.4,1463.6 315.2,1463.6 315.9,1463.7 316.7,1463.7 317.4,1463.8 318.2,1463.8 318.9,1463.9 319.7,1463.9 320.4,1464.0 321.2,1464.0 321.9,1464.1 322.7,1464.2 323.4,1464.2 324.2,1464.3 324.9,1464.3 325.7,1464.4 326.4,1464.5 327.2,1464.5 327.9,1464.6 328.7,1464.7 329.4,1464.8 330.2,1464.8 330.9,1464.9 331.7,1465.0 332.4,1465.0 333.2,1465.1 333.9,1465.2 334.7,1465.3 335.4,1465.4 336.2,1465.4 336.9,1465.5 337.7,1465.6 338.4,1465.7 339.2,1465.7 339.9,1465.8 340.7,1465.9 341.4,1465.9 342.2,1466.0 342.9,1466.1 343.7,1466.1 344.4,1466.2 345.2,1466.2 345.9,1466.3 346.7,1466.4 347.4,1466.4 348.2,1466.5 348.9,1466.5 349.7,1466.6 350.4,1466.6 351.2,1466.6 351.9,1466.7 352.7,1466.7 353.4,1466.8 354.2,1466.8 354.9,1466.8 355.7,1466.8 356.4,1466.9 357.2,1466.9 357.9,1466.9 358.7,1467.0 359.4,1467.0 360.2,1467.0 360.9,1467.0 361.7,1467.0 362.4,1467.1 363.2,1467.1 363.9,1467.1 364.7,1467.1 365.4,1467.2 366.2,1467.2 366.9,1467.2 367.7,1467.3 368.4,1467.3 369.2,1467.3 369.9,1467.4 370.7,1467.4 371.4,1467.4 372.2,1467.5 372.9,1467.5 373.7,1467.6 374.4,1467.6 375.2,1467.6 375.9,1467.7 376.7,1467.7 377.4,1467.8 378.2,1467.8 378.9,1467.9 379.7,1467.9 380.4,1468.0 381.2,1468.1 381.9,1468.1 382.7,1468.2 383.4,1468.2 384.2,1468.3 384.9,1468.3 385.7,1468.4 386.4,1468.4 387.2,1468.5 387.9,1468.5 388.7,1468.6 389.4,1468.6 390.2,1468.7 390.9,1468.7 391.7,1468.8 392.4,1468.8 393.2,1468.9 393.9,1468.9 394.7,1468.9 395.4,1469.0 396.2,1469.0 396.9,1469.0 397.7,1469.1 398.4,1469.1 399.2,1469.1 399.9,1469.2 400.7,1469.2 401.4,1469.2 402.2,1469.2 402.9,1469.2 403.7,1469.3 404.4,1469.3 405.2,1469.3 405.9,1469.3 406.7,1469.3 407.4,1469.3 408.2,1469.4 408.9,1469.4 409.7,1469.4 410.4,1469.4 411.2,1469.4 411.9,1469.5 412.7,1469.5 413.4,1469.5 414.2,1469.5 414.9,1469.5 415.7,1469.6 416.4,1469.6 417.2,1469.6 417.9,1469.7 418.7,1469.7 419.4,1469.7 420.2,1469.8 420.9,1469.8 421.7,1469.8 422.4,1469.9 423.2,1469.9 423.9,1470.0 424.7,1470.0 425.4,1470.1 426.2,1470.1 426.9,1470.2 427.7,1470.2 428.4,1470.3 429.2,1470.3 429.9,1470.4 430.7,1470.4 431.4,1470.5 432.2,1470.5 432.9,1470.6 433.7,1470.6 434.4,1470.7 435.2,1470.7 435.9,1470.8 436.7,1470.8 437.4,1470.9 438.2,1470.9 438.9,1471.0 439.7,1471.0 440.4,1471.0 441.2,1471.1 441.9,1471.1 442.7,1471.1 443.4,1471.2 444.2,1471.2 444.9,1471.2 445.7,1471.3 446.4,1471.3 447.2,1471.3 447.9,1471.3 448.7,1471.3 449.4,1471.4 450.2,1471.4 450.9,1471.4 451.7,1471.4 452.4,1471.4 453.2,1471.4 453.9,1471.4 454.7,1471.4 455.4,1471.5 456.2,1471.5 456.9,1471.5 457.7,1471.5 458.4,1471.5 459.2,1471.5 459.9,1471.5 460.7,1471.5 461.4,1471.6 462.2,1471.6 462.9,1471.6 463.7,1471.6 464.4,1471.6 465.2,1471.7 465.9,1471.7 466.7,1471.7 467.4,1471.7 468.2,1471.8 468.9,1471.8 469.7,1471.8 470.4,1471.9 471.2,1471.9 471.9,1472.0 472.7,1472.0 473.4,1472.0 474.2,1472.1 474.9,1472.1 475.7,1472.2 476.4,1472.2 477.2,1472.3 477.9,1472.3 478.7,1472.4 479.4,1472.4 480.2,1472.4 480.9,1472.5 481.7,1472.5 482.4,1472.6 483.2,1472.6 483.9,1472.7 484.7,1472.7 485.4,1472.7 486.2,1472.8 486.9,1472.8 487.7,1472.8 488.4,1472.9 489.2,1472.9 489.9,1472.9 490.7,1473.0 491.4,1473.0 492.2,1473.0 492.9,1473.0 493.7,1473.0 494.4,1473.0 495.2,1473.1 495.9,1473.1 496.7,1473.1 497.4,1473.1 498.2,1473.1 498.9,1473.1 499.7,1473.1 500.4,1473.1 501.2,1473.1 501.9,1473.1 502.7,1473.1 503.4,1473.1 504.2,1473.1 504.9,1473.1 505.7,1473.1 506.4,1473.2 507.2,1473.2 507.9,1473.2 508.7,1473.2 509.4,1473.2 510.2,1473.2 510.9,1473.2 511.7,1473.2 512.5,1473.2 513.2,1473.3 514.0,1473.3 514.7,1473.3 515.5,1473.3 516.2,1473.3 517.0,1473.4 517.7,1473.4 518.5,1473.4 519.2,1473.5 520.0,1473.5 520.7,1473.5 521.5,1473.6 522.2,1473.6 523.0,1473.7 523.7,1473.7 524.5,1473.7 525.2,1473.8 526.0,1473.8 526.7,1473.9 527.5,1473.9 528.2,1473.9 529.0,1474.0 529.7,1474.0 530.5,1474.1 531.2,1474.1 532.0,1474.1 532.7,1474.2 533.5,1474.2 534.2,1474.2 535.0,1474.3 535.7,1474.3 536.5,1474.3 537.2,1474.4 538.0,1474.4 538.7,1474.4 539.5,1474.4 540.2,1474.4 541.0,1474.5 541.7,1474.5 542.5,1474.5 543.2,1474.5 544.0,1474.5 544.7,1474.5 545.5,1474.5 546.2,1474.5 547.0,1474.5 547.7,1474.5 548.5,1474.5 549.2,1474.5 550.0,1474.5 550.7,1474.5 551.5,1474.5 552.2,1474.5 553.0,1474.5 553.7,1474.5 554.5,1474.5 555.2,1474.5 556.0,1474.5 556.7,1474.5 557.5,1474.5 558.2,1474.5 559.0,1474.5 559.7,1474.6 560.5,1474.6 561.2,1474.6 562.0,1474.6 562.7,1474.6 563.5,1474.6 564.2,1474.6 565.0,1474.7 565.7,1474.7 566.5,1474.7 567.2,1474.7 568.0,1474.8 568.7,1474.8 569.5,1474.8 570.2,1474.9 571.0,1474.9 571.7,1474.9 572.5,1475.0 573.2,1475.0 574.0,1475.0 574.7,1475.1 575.5,1475.1 576.2,1475.1 577.0,1475.2 577.7,1475.2 578.5,1475.2 579.2,1475.3 580.0,1475.3 580.7,1475.3 581.5,1475.3 582.2,1475.4 583.0,1475.4 583.7,1475.4 584.5,1475.4 585.2,1475.4 586.0,1475.5 586.7,1475.5 587.5,1475.5 588.2,1475.5 589.0,1475.5 589.7,1475.5 590.5,1475.5 591.2,1475.5 592.0,1475.5 592.7,1475.5 593.5,1475.5 594.2,1475.5 595.0,1475.5 595.7,1475.5 596.5,1475.5 597.2,1475.5 598.0,1475.5 598.7,1475.4 599.5,1475.4 600.2,1475.4 601.0,1475.4 601.7,1475.4 602.5,1475.4 603.2,1475.4 604.0,1475.4 604.7,1475.4 605.5,1475.4 606.2,1475.4 607.0,1475.4 607.7,1475.4 608.5,1475.4 609.2,1475.4 610.0,1475.4 610.7,1475.4 611.5,1475.4 612.2,1475.4 613.0,1475.4 613.7,1475.5 614.5,1475.5 615.2,1475.5 616.0,1475.5 616.7,1475.5 617.5,1475.6 618.2,1475.6 619.0,1475.6 619.7,1475.7 620.5,1475.7 621.2,1475.7 622.0,1475.7 622.7,1475.8 623.5,1475.8 624.2,1475.8 625.0,1475.9 625.7,1475.9 626.5,1475.9 627.2,1475.9 628.0,1476.0 628.7,1476.0 629.5,1476.0 630.2,1476.0 631.0,1476.0 631.7,1476.1 632.5,1476.1 633.2,1476.1 634.0,1476.1 634.7,1476.1 635.5,1476.1 636.2,1476.1 637.0,1476.1 637.7,1476.1 638.5,1476.1 639.2,1476.1 640.0,1476.1 640.7,1476.1 641.5,1476.1 642.2,1476.1 643.0,1476.1 643.7,1476.1 644.5,1476.1 645.2,1476.1 646.0,1476.1 646.7,1476.1 647.5,1476.0 648.2,1476.0 649.0,1476.0 649.7,1476.0 650.5,1476.0 651.2,1476.0 652.0,1476.0 652.7,1476.0 653.5,1476.0 654.2,1476.0 655.0,1476.0 655.7,1476.0 656.5,1476.0 657.2,1476.0 658.0,1476.0 658.7,1476.0 659.5,1476.0 660.2,1476.0 661.0,1476.0 661.7,1476.0 662.5,1476.0 663.2,1476.1 664.0,1476.1 664.7,1476.1 665.5,1476.1 666.2,1476.1 667.0,1476.2 667.7,1476.2 668.5,1476.2 669.2,1476.2 670.0,1476.3 670.7,1476.3 671.5,1476.3 672.2,1476.3 673.0,1476.4 673.7,1476.4 674.5,1476.4 675.2,1476.4 676.0,1476.5 676.7,1476.5 677.5,1476.5 678.2,1476.5 679.0,1476.5 679.7,1476.5 680.5,1476.6 681.2,1476.6 682.0,1476.6 682.7,1476.6 683.5,1476.6 684.2,1476.6 685.0,1476.6 685.7,1476.6 686.5,1476.6 687.2,1476.6 688.0,1476.6 688.7,1476.6 689.5,1476.5 690.2,1476.5 691.0,1476.5 691.7,1476.5 692.5,1476.5 693.2,1476.5 694.0,1476.5 694.7,1476.4 695.5,1476.4 696.2,1476.4 697.0,1476.4 697.7,1476.4 698.5,1476.4 699.2,1476.4 700.0,1476.3 700.7,1476.3 701.5,1476.3 702.2,1476.3 703.0,1476.3 703.7,1476.3 704.5,1476.3 705.2,1476.3 706.0,1476.3 706.7,1476.3 707.5,1476.3 708.2,1476.3 709.0,1476.3 709.7,1476.3 710.5,1476.3 711.2,1476.3 712.0,1476.3 712.7,1476.4 713.5,1476.4 714.2,1476.4 715.0,1476.4 715.7,1476.4 716.5,1476.4" fill="none" stroke="#000" stroke-width="4.6" stroke-linejoin="round" stroke-linecap="butt"/><text x="699.8" y="1448.4" font-size="39.5" text-anchor="end" fill="#000">2.0 kOe</text>
<rect x="67.5" y="498.2" width="705.1" height="1021.3" fill="none" stroke="#000" stroke-width="5"/>
<path d="M96.9,1519.5 v-6.3 M96.9,498.2 v6.3" stroke="#000" stroke-width="3.4"/>
<path d="M153.1,1519.5 v-11.3 M153.1,498.2 v11.3" stroke="#000" stroke-width="3.4"/>
<text x="153.4" y="1567.4" font-size="43" text-anchor="middle" fill="#000">0</text>
<path d="M209.3,1519.5 v-6.3 M209.3,498.2 v6.3" stroke="#000" stroke-width="3.4"/>
<path d="M265.5,1519.5 v-11.3 M265.5,498.2 v11.3" stroke="#000" stroke-width="3.4"/>
<text x="265.8" y="1567.4" font-size="43" text-anchor="middle" fill="#000">100</text>
<path d="M321.7,1519.5 v-6.3 M321.7,498.2 v6.3" stroke="#000" stroke-width="3.4"/>
<path d="M377.9,1519.5 v-11.3 M377.9,498.2 v11.3" stroke="#000" stroke-width="3.4"/>
<text x="378.2" y="1567.4" font-size="43" text-anchor="middle" fill="#000">200</text>
<path d="M434.1,1519.5 v-6.3 M434.1,498.2 v6.3" stroke="#000" stroke-width="3.4"/>
<path d="M490.3,1519.5 v-11.3 M490.3,498.2 v11.3" stroke="#000" stroke-width="3.4"/>
<text x="490.6" y="1567.4" font-size="43" text-anchor="middle" fill="#000">300</text>
<path d="M546.5,1519.5 v-6.3 M546.5,498.2 v6.3" stroke="#000" stroke-width="3.4"/>
<path d="M602.7,1519.5 v-11.3 M602.7,498.2 v11.3" stroke="#000" stroke-width="3.4"/>
<text x="603.0" y="1567.4" font-size="43" text-anchor="middle" fill="#000">400</text>
<path d="M658.9,1519.5 v-6.3 M658.9,498.2 v6.3" stroke="#000" stroke-width="3.4"/>
<path d="M715.1,1519.5 v-11.3 M715.1,498.2 v11.3" stroke="#000" stroke-width="3.4"/>
<text x="715.4" y="1567.4" font-size="43" text-anchor="middle" fill="#000">500</text>
<text x="423" y="1632.4" font-size="43" text-anchor="middle" fill="#000">Time Delay (ps)</text>
<text transform="translate(36.1,1007.2) rotate(-90)" font-size="43.5" text-anchor="middle" fill="#000">MOKE Signal (a. u.)</text>
<text transform="translate(74.78,574.60) scale(1.205,1.150)" font-size="50" fill="#000">(b)</text>
</svg>
</body></html>
